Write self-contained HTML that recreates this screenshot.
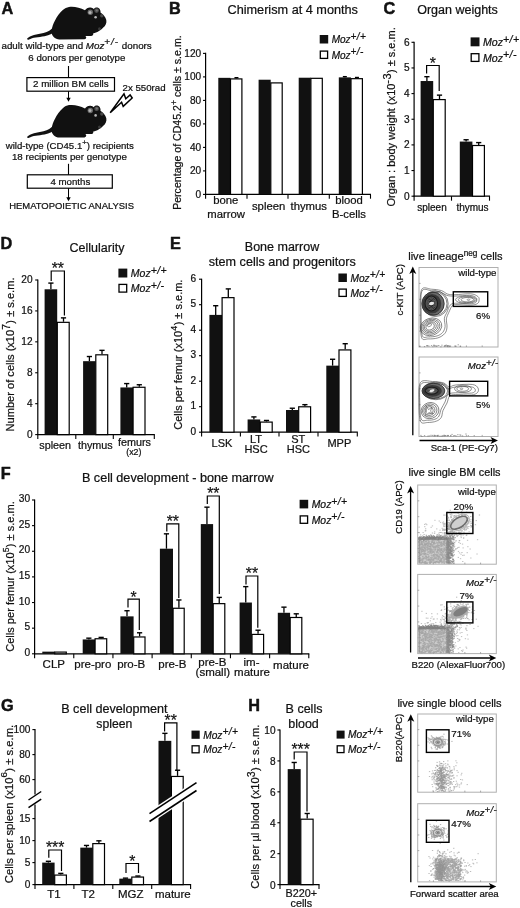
<!DOCTYPE html>
<html><head><meta charset="utf-8"><title>Figure</title>
<style>html,body{margin:0;padding:0;background:#fff}svg{display:block;filter:blur(0.3px)}</style></head>
<body>
<svg width="520" height="908" viewBox="0 0 520 908" font-family="'Liberation Sans', sans-serif" fill="#111">
<defs><filter id="soft" x="-5%" y="-5%" width="110%" height="110%"><feGaussianBlur stdDeviation="0.35"/></filter></defs>
<rect width="520" height="908" fill="#fff"/>
<text transform="translate(1.6 13.9) scale(0.95 1)" font-size="17.16" font-weight="bold" stroke="#111" stroke-width="0.5" stroke-linejoin="round">A</text>
<g transform="translate(0 0)">
<path d="M27.2 38.6 C30 35.2 37 34.2 43.5 33 C48 32 51 30 53.5 27 L56.5 30 C53.5 33.5 49.5 35.3 44.5 36.2 C38.5 37.2 32.5 37.3 29 39.6 C27.8 40.2 26.6 39.4 27.2 38.6 Z" fill="#111"/>
<path d="M51.6 31 C52 27 53.4 23.5 55 20.6 C57 16.6 59.6 12.6 62.8 10 C64.6 8.4 66.8 7.2 69 6.9 C73.5 6.2 80 7.3 85 10.2 C86 8.5 88.5 7.2 90.5 7.5 C92 7.7 93 8.2 93.7 9 C95 6.8 98.5 6.8 99.9 9.4 C100.5 10.4 100.7 11.5 100.5 12.5 C103 14 105.6 17 106.3 20 C106.9 23 105.6 26 103 27.8 C101.5 29.5 100 30.5 98.6 31.2 C97 32.3 95 33 93.3 33.2 C93.6 34.8 92.5 35.9 91 35.9 L85.4 35.9 C86.8 37 86.5 38.9 84.5 39.3 L59.5 39.4 C55 39.4 51.2 36 51.6 31 Z" fill="#111"/>
<circle cx="90.3" cy="12.3" r="2.7" fill="#6a6a6a"/><circle cx="90" cy="12.4" r="1.5" fill="#b5b5b5"/>
<circle cx="96.6" cy="10.6" r="2.3" fill="#505050"/><circle cx="96.8" cy="10.4" r="1" fill="#757575"/>
<circle cx="95.6" cy="17.2" r="1.3" fill="#b5b5b5"/>
<circle cx="101.8" cy="15.8" r="1.7" fill="#484848"/>
<circle cx="99.5" cy="28.8" r="1.5" fill="#3a3a3a"/>
</g>
<text transform="translate(76.6 48.6) scale(1.0 1)" font-size="9.80" text-anchor="middle" stroke="#111" stroke-width="0.22">adult wild-type and <tspan font-style="italic">Moz</tspan><tspan dy="-3.5" font-size="9.80" letter-spacing="1.0" font-style="italic">+/-</tspan><tspan dy="3.5"> donors</tspan></text>
<text transform="translate(76.8 60.5) scale(1.0 1)" font-size="9.70" text-anchor="middle" stroke="#111" stroke-width="0.22">6 donors per genotype</text>
<line x1="68.5" y1="66" x2="68.5" y2="77.5" stroke="#000" stroke-width="1.1"/>
<rect x="26.90" y="77.60" width="87.60" height="13.60" fill="#fff" stroke="#000" stroke-width="1.2"/>
<text transform="translate(70.8 87.2) scale(1.0 1)" font-size="9.80" text-anchor="middle" stroke="#111" stroke-width="0.22">2 million BM cells</text>
<line x1="68.5" y1="91.2" x2="68.5" y2="99.8" stroke="#000" stroke-width="1.0"/>
<path d="M66.3,97.8 L68.5,101.8 L70.7,97.8 Z" fill="#000"/>
<text transform="translate(122.5 91.4) scale(1.0 1)" font-size="9.70" stroke="#111" stroke-width="0.22">2x 550rad</text>
<path d="M110.2 112.7 L124 93.9 L125.8 98.7 L130.1 94.9 L132.2 98 L123.2 106.4 L121.6 102.3 Z" fill="#fff" stroke="#000" stroke-width="1.5" stroke-linejoin="miter"/>
<g transform="translate(0 98.2)">
<path d="M27.2 38.6 C30 35.2 37 34.2 43.5 33 C48 32 51 30 53.5 27 L56.5 30 C53.5 33.5 49.5 35.3 44.5 36.2 C38.5 37.2 32.5 37.3 29 39.6 C27.8 40.2 26.6 39.4 27.2 38.6 Z" fill="#111"/>
<path d="M51.6 31 C52 27 53.4 23.5 55 20.6 C57 16.6 59.6 12.6 62.8 10 C64.6 8.4 66.8 7.2 69 6.9 C73.5 6.2 80 7.3 85 10.2 C86 8.5 88.5 7.2 90.5 7.5 C92 7.7 93 8.2 93.7 9 C95 6.8 98.5 6.8 99.9 9.4 C100.5 10.4 100.7 11.5 100.5 12.5 C103 14 105.6 17 106.3 20 C106.9 23 105.6 26 103 27.8 C101.5 29.5 100 30.5 98.6 31.2 C97 32.3 95 33 93.3 33.2 C93.6 34.8 92.5 35.9 91 35.9 L85.4 35.9 C86.8 37 86.5 38.9 84.5 39.3 L59.5 39.4 C55 39.4 51.2 36 51.6 31 Z" fill="#111"/>
<circle cx="90.3" cy="12.3" r="2.7" fill="#6a6a6a"/><circle cx="90" cy="12.4" r="1.5" fill="#b5b5b5"/>
<circle cx="96.6" cy="10.6" r="2.3" fill="#505050"/><circle cx="96.8" cy="10.4" r="1" fill="#757575"/>
<circle cx="95.6" cy="17.2" r="1.3" fill="#b5b5b5"/>
<circle cx="101.8" cy="15.8" r="1.7" fill="#484848"/>
<circle cx="99.5" cy="28.8" r="1.5" fill="#3a3a3a"/>
</g>
<text transform="translate(69.8 149.1) scale(1.0 1)" font-size="9.65" text-anchor="middle" stroke="#111" stroke-width="0.22">wild-type (CD45.1<tspan dy="-3.8" font-size="7.80" letter-spacing="0">+</tspan><tspan dy="3.8">) recipients</tspan></text>
<text transform="translate(69.4 160.1) scale(1.0 1)" font-size="9.75" text-anchor="middle" stroke="#111" stroke-width="0.22">18 recipients per genotype</text>
<line x1="68.5" y1="163.8" x2="68.5" y2="175" stroke="#000" stroke-width="1.1"/>
<rect x="27.30" y="174.80" width="85.00" height="13.40" fill="#fff" stroke="#000" stroke-width="1.2"/>
<text transform="translate(70.3 185) scale(1.0 1)" font-size="9.70" text-anchor="middle" stroke="#111" stroke-width="0.22">4 months</text>
<line x1="68.5" y1="188.2" x2="68.5" y2="199.2" stroke="#000" stroke-width="1.0"/>
<path d="M66.3,197.2 L68.5,201.2 L70.7,197.2 Z" fill="#000"/>
<text transform="translate(71.6 209.2) scale(1.0 1)" font-size="9.45" text-anchor="middle" stroke="#111" stroke-width="0.22">HEMATOPOIETIC ANALYSIS</text>
<text transform="translate(168.9 13.6) scale(0.95 1)" font-size="17.16" font-weight="bold" stroke="#111" stroke-width="0.5" stroke-linejoin="round">B</text>
<text transform="translate(292.7 14.1) scale(1.0 1)" font-size="12.70" text-anchor="middle" stroke="#111" stroke-width="0.22">Chimerism at 4 months</text>
<rect x="319.70" y="35.00" width="8.50" height="8.50" fill="#111"/>
<rect x="320.30" y="51.10" width="7.30" height="7.30" fill="#fff" stroke="#000" stroke-width="1.3"/>
<text transform="translate(331.7 43.2) scale(1.0 1)" font-size="10.00" stroke="#111" stroke-width="0.22"><tspan font-style="italic">Moz</tspan><tspan dy="-3.4" font-size="10.00" letter-spacing="0.4" font-style="italic">+/+</tspan></text>
<text transform="translate(331.7 58.7) scale(1.0 1)" font-size="10.00" stroke="#111" stroke-width="0.22"><tspan font-style="italic">Moz</tspan><tspan dy="-3.4" font-size="10.00" letter-spacing="0.4" font-style="italic">+/-</tspan></text>
<line x1="205.6" y1="52.8" x2="205.6" y2="194.9" stroke="#000" stroke-width="1.2"/>
<line x1="203.0" y1="194.4" x2="205.6" y2="194.4" stroke="#000" stroke-width="1.1"/>
<text transform="translate(201.2 197.9) scale(1.0 1)" font-size="10.10" text-anchor="end" stroke="#111" stroke-width="0.22">0</text>
<line x1="203.0" y1="170.9" x2="205.6" y2="170.9" stroke="#000" stroke-width="1.1"/>
<text transform="translate(201.2 174.4) scale(1.0 1)" font-size="10.10" text-anchor="end" stroke="#111" stroke-width="0.22">20</text>
<line x1="203.0" y1="147.4" x2="205.6" y2="147.4" stroke="#000" stroke-width="1.1"/>
<text transform="translate(201.2 150.9) scale(1.0 1)" font-size="10.10" text-anchor="end" stroke="#111" stroke-width="0.22">40</text>
<line x1="203.0" y1="123.9" x2="205.6" y2="123.9" stroke="#000" stroke-width="1.1"/>
<text transform="translate(201.2 127.4) scale(1.0 1)" font-size="10.10" text-anchor="end" stroke="#111" stroke-width="0.22">60</text>
<line x1="203.0" y1="100.4" x2="205.6" y2="100.4" stroke="#000" stroke-width="1.1"/>
<text transform="translate(201.2 103.9) scale(1.0 1)" font-size="10.10" text-anchor="end" stroke="#111" stroke-width="0.22">80</text>
<line x1="203.0" y1="76.9" x2="205.6" y2="76.9" stroke="#000" stroke-width="1.1"/>
<text transform="translate(201.2 80.4) scale(1.0 1)" font-size="10.10" text-anchor="end" stroke="#111" stroke-width="0.22">100</text>
<line x1="203.0" y1="53.400000000000006" x2="205.6" y2="53.400000000000006" stroke="#000" stroke-width="1.1"/>
<text transform="translate(201.2 56.900000000000006) scale(1.0 1)" font-size="10.10" text-anchor="end" stroke="#111" stroke-width="0.22">120</text>
<line x1="205.1" y1="194.4" x2="371.0" y2="194.4" stroke="#000" stroke-width="1.2"/>
<line x1="205.6" y1="194.4" x2="205.6" y2="198.70000000000002" stroke="#000" stroke-width="1.1"/>
<line x1="247" y1="194.4" x2="247" y2="198.70000000000002" stroke="#000" stroke-width="1.1"/>
<line x1="288" y1="194.4" x2="288" y2="198.70000000000002" stroke="#000" stroke-width="1.1"/>
<line x1="329.3" y1="194.4" x2="329.3" y2="198.70000000000002" stroke="#000" stroke-width="1.1"/>
<line x1="370.5" y1="194.4" x2="370.5" y2="198.70000000000002" stroke="#000" stroke-width="1.1"/>
<line x1="236.45" y1="78.31" x2="236.45" y2="77.72250000000001" stroke="#000" stroke-width="1.3"/>
<line x1="234.45" y1="77.72250000000001" x2="238.45" y2="77.72250000000001" stroke="#000" stroke-width="1.4"/>
<rect x="218.30" y="77.84" width="12.10" height="116.56" fill="#111"/>
<rect x="230.50" y="78.91" width="11.40" height="115.49" fill="#fff" stroke="#000" stroke-width="1.2"/>
<rect x="258.60" y="79.72" width="12.10" height="114.68" fill="#111"/>
<rect x="270.80" y="82.90" width="11.40" height="111.50" fill="#fff" stroke="#000" stroke-width="1.2"/>
<rect x="298.70" y="77.72" width="12.10" height="116.68" fill="#111"/>
<rect x="310.90" y="78.32" width="11.40" height="116.08" fill="#fff" stroke="#000" stroke-width="1.2"/>
<line x1="344.85" y1="77.37" x2="344.85" y2="76.66500000000002" stroke="#000" stroke-width="1.3"/>
<line x1="342.85" y1="76.66500000000002" x2="346.85" y2="76.66500000000002" stroke="#000" stroke-width="1.4"/>
<line x1="356.95000000000005" y1="78.075" x2="356.95000000000005" y2="77.4875" stroke="#000" stroke-width="1.3"/>
<line x1="354.95000000000005" y1="77.4875" x2="358.95000000000005" y2="77.4875" stroke="#000" stroke-width="1.4"/>
<rect x="338.80" y="77.37" width="12.10" height="117.03" fill="#111"/>
<rect x="351.00" y="78.67" width="11.40" height="115.73" fill="#fff" stroke="#000" stroke-width="1.2"/>
<text transform="translate(180.6 122.6) rotate(-90) scale(1.0 1)" font-size="10.60" text-anchor="middle" stroke="#111" stroke-width="0.22">Percentage of CD45.2<tspan dy="-4" font-size="8.60" letter-spacing="0">+</tspan><tspan dy="4"> cells ± s.e.m.</tspan></text>
<text transform="translate(225.8 204.2) scale(1.0 1)" font-size="11.30" text-anchor="middle" stroke="#111" stroke-width="0.22">bone</text>
<text transform="translate(226.2 218) scale(1.0 1)" font-size="11.30" text-anchor="middle" stroke="#111" stroke-width="0.22">marrow</text>
<text transform="translate(268.6 210.2) scale(1.0 1)" font-size="11.30" text-anchor="middle" stroke="#111" stroke-width="0.22">spleen</text>
<text transform="translate(308.7 210.2) scale(1.0 1)" font-size="11.30" text-anchor="middle" stroke="#111" stroke-width="0.22">thymus</text>
<text transform="translate(349 204.2) scale(1.0 1)" font-size="11.30" text-anchor="middle" stroke="#111" stroke-width="0.22">blood</text>
<text transform="translate(349 218) scale(1.0 1)" font-size="11.30" text-anchor="middle" stroke="#111" stroke-width="0.22">B-cells</text>
<text transform="translate(383.5 13.7) scale(0.95 1)" font-size="17.16" font-weight="bold" stroke="#111" stroke-width="0.5" stroke-linejoin="round">C</text>
<text transform="translate(457.5 14.3) scale(1.0 1)" font-size="12.50" text-anchor="middle" stroke="#111" stroke-width="0.22">Organ weights</text>
<rect x="470.60" y="37.40" width="8.90" height="8.90" fill="#111"/>
<rect x="471.20" y="53.70" width="7.70" height="7.70" fill="#fff" stroke="#000" stroke-width="1.3"/>
<text transform="translate(483.0 46.0) scale(1.0 1)" font-size="10.60" stroke="#111" stroke-width="0.22"><tspan font-style="italic">Moz</tspan><tspan dy="-3.4" font-size="10.60" letter-spacing="0.4" font-style="italic">+/+</tspan></text>
<text transform="translate(483.0 61.7) scale(1.0 1)" font-size="10.60" stroke="#111" stroke-width="0.22"><tspan font-style="italic">Moz</tspan><tspan dy="-3.4" font-size="10.60" letter-spacing="0.4" font-style="italic">+/-</tspan></text>
<line x1="414.1" y1="41.80000000000001" x2="414.1" y2="196.7" stroke="#000" stroke-width="1.2"/>
<line x1="411.5" y1="196.2" x2="414.1" y2="196.2" stroke="#000" stroke-width="1.1"/>
<text transform="translate(409.70000000000005 199.7) scale(1.0 1)" font-size="10.10" text-anchor="end" stroke="#111" stroke-width="0.22">0</text>
<line x1="411.5" y1="170.54999999999998" x2="414.1" y2="170.54999999999998" stroke="#000" stroke-width="1.1"/>
<text transform="translate(409.70000000000005 174.04999999999998) scale(1.0 1)" font-size="10.10" text-anchor="end" stroke="#111" stroke-width="0.22">1</text>
<line x1="411.5" y1="144.89999999999998" x2="414.1" y2="144.89999999999998" stroke="#000" stroke-width="1.1"/>
<text transform="translate(409.70000000000005 148.39999999999998) scale(1.0 1)" font-size="10.10" text-anchor="end" stroke="#111" stroke-width="0.22">2</text>
<line x1="411.5" y1="119.25" x2="414.1" y2="119.25" stroke="#000" stroke-width="1.1"/>
<text transform="translate(409.70000000000005 122.75) scale(1.0 1)" font-size="10.10" text-anchor="end" stroke="#111" stroke-width="0.22">3</text>
<line x1="411.5" y1="93.6" x2="414.1" y2="93.6" stroke="#000" stroke-width="1.1"/>
<text transform="translate(409.70000000000005 97.1) scale(1.0 1)" font-size="10.10" text-anchor="end" stroke="#111" stroke-width="0.22">4</text>
<line x1="411.5" y1="67.94999999999999" x2="414.1" y2="67.94999999999999" stroke="#000" stroke-width="1.1"/>
<text transform="translate(409.70000000000005 71.44999999999999) scale(1.0 1)" font-size="10.10" text-anchor="end" stroke="#111" stroke-width="0.22">5</text>
<line x1="411.5" y1="42.30000000000001" x2="414.1" y2="42.30000000000001" stroke="#000" stroke-width="1.1"/>
<text transform="translate(409.70000000000005 45.80000000000001) scale(1.0 1)" font-size="10.10" text-anchor="end" stroke="#111" stroke-width="0.22">6</text>
<line x1="413.6" y1="196.2" x2="490.0" y2="196.2" stroke="#000" stroke-width="1.2"/>
<line x1="414.1" y1="196.2" x2="414.1" y2="200.7" stroke="#000" stroke-width="1.1"/>
<line x1="451.5" y1="196.2" x2="451.5" y2="200.7" stroke="#000" stroke-width="1.1"/>
<line x1="489.5" y1="196.2" x2="489.5" y2="200.7" stroke="#000" stroke-width="1.1"/>
<line x1="426.90000000000003" y1="81.0315" x2="426.90000000000003" y2="76.67099999999999" stroke="#000" stroke-width="1.3"/>
<line x1="424.3" y1="76.67099999999999" x2="429.50000000000006" y2="76.67099999999999" stroke="#000" stroke-width="1.4"/>
<line x1="439.50000000000006" y1="98.98649999999999" x2="439.50000000000006" y2="95.139" stroke="#000" stroke-width="1.3"/>
<line x1="436.90000000000003" y1="95.139" x2="442.1000000000001" y2="95.139" stroke="#000" stroke-width="1.4"/>
<rect x="420.60" y="81.03" width="12.60" height="115.17" fill="#111"/>
<rect x="433.30" y="99.59" width="11.90" height="96.61" fill="#fff" stroke="#000" stroke-width="1.2"/>
<line x1="466.1" y1="141.5655" x2="466.1" y2="139.76999999999998" stroke="#000" stroke-width="1.3"/>
<line x1="463.5" y1="139.76999999999998" x2="468.70000000000005" y2="139.76999999999998" stroke="#000" stroke-width="1.4"/>
<line x1="478.70000000000005" y1="144.89999999999998" x2="478.70000000000005" y2="142.5915" stroke="#000" stroke-width="1.3"/>
<line x1="476.1" y1="142.5915" x2="481.30000000000007" y2="142.5915" stroke="#000" stroke-width="1.4"/>
<rect x="459.80" y="141.57" width="12.60" height="54.63" fill="#111"/>
<rect x="472.50" y="145.50" width="11.90" height="50.70" fill="#fff" stroke="#000" stroke-width="1.2"/>
<polyline points="426.6,73.5 426.6,65.5 439.2,65.5 439.2,91" fill="none" stroke="#000" stroke-width="1.2"/>
<text transform="translate(432.9 68.8) scale(1.0 1)" font-size="15.80" text-anchor="middle" stroke="#111" stroke-width="0.22">*</text>
<text transform="translate(394.8 116.9) rotate(-90) scale(1.0 1)" font-size="11.00" text-anchor="middle" stroke="#111" stroke-width="0.22">Organ : body weight (x10<tspan dy="-4.2" font-size="11.00" letter-spacing="0.4">-3</tspan><tspan dy="4.2">) ± s.e.m.</tspan></text>
<text transform="translate(432 211) scale(1.0 1)" font-size="10.00" text-anchor="middle" stroke="#111" stroke-width="0.22">spleen</text>
<text transform="translate(472.5 211) scale(1.0 1)" font-size="10.00" text-anchor="middle" stroke="#111" stroke-width="0.22">thymus</text>
<text transform="translate(0.6 249.3) scale(0.95 1)" font-size="17.16" font-weight="bold" stroke="#111" stroke-width="0.5" stroke-linejoin="round">D</text>
<text transform="translate(97 252) scale(1.0 1)" font-size="12.50" text-anchor="middle" stroke="#111" stroke-width="0.22">Cellularity</text>
<rect x="118.40" y="268.60" width="8.90" height="8.90" fill="#111"/>
<rect x="119.00" y="284.40" width="7.70" height="7.70" fill="#fff" stroke="#000" stroke-width="1.3"/>
<text transform="translate(130.8 277.2) scale(1.0 1)" font-size="10.50" stroke="#111" stroke-width="0.22"><tspan font-style="italic">Moz</tspan><tspan dy="-3.4" font-size="10.50" letter-spacing="0.4" font-style="italic">+/+</tspan></text>
<text transform="translate(130.8 292.4) scale(1.0 1)" font-size="10.50" stroke="#111" stroke-width="0.22"><tspan font-style="italic">Moz</tspan><tspan dy="-3.4" font-size="10.50" letter-spacing="0.4" font-style="italic">+/-</tspan></text>
<line x1="37.8" y1="279.5" x2="37.8" y2="435.1" stroke="#000" stroke-width="1.2"/>
<line x1="35.199999999999996" y1="434.6" x2="37.8" y2="434.6" stroke="#000" stroke-width="1.1"/>
<text transform="translate(32.5 437.6) scale(1.0 1)" font-size="10.10" text-anchor="end" stroke="#111" stroke-width="0.22">0</text>
<line x1="35.199999999999996" y1="403.68" x2="37.8" y2="403.68" stroke="#000" stroke-width="1.1"/>
<text transform="translate(32.5 406.68) scale(1.0 1)" font-size="10.10" text-anchor="end" stroke="#111" stroke-width="0.22">4</text>
<line x1="35.199999999999996" y1="372.76" x2="37.8" y2="372.76" stroke="#000" stroke-width="1.1"/>
<text transform="translate(32.5 375.76) scale(1.0 1)" font-size="10.10" text-anchor="end" stroke="#111" stroke-width="0.22">8</text>
<line x1="35.199999999999996" y1="341.84000000000003" x2="37.8" y2="341.84000000000003" stroke="#000" stroke-width="1.1"/>
<text transform="translate(32.5 344.84000000000003) scale(1.0 1)" font-size="10.10" text-anchor="end" stroke="#111" stroke-width="0.22">12</text>
<line x1="35.199999999999996" y1="310.92" x2="37.8" y2="310.92" stroke="#000" stroke-width="1.1"/>
<text transform="translate(32.5 313.92) scale(1.0 1)" font-size="10.10" text-anchor="end" stroke="#111" stroke-width="0.22">16</text>
<line x1="35.199999999999996" y1="280.0" x2="37.8" y2="280.0" stroke="#000" stroke-width="1.1"/>
<text transform="translate(32.5 283.0) scale(1.0 1)" font-size="10.10" text-anchor="end" stroke="#111" stroke-width="0.22">20</text>
<line x1="37.3" y1="434.6" x2="154.8" y2="434.6" stroke="#000" stroke-width="1.2"/>
<line x1="37.8" y1="434.6" x2="37.8" y2="438.90000000000003" stroke="#000" stroke-width="1.1"/>
<line x1="75.8" y1="434.6" x2="75.8" y2="438.90000000000003" stroke="#000" stroke-width="1.1"/>
<line x1="113.3" y1="434.6" x2="113.3" y2="438.90000000000003" stroke="#000" stroke-width="1.1"/>
<line x1="154.3" y1="434.6" x2="154.3" y2="438.90000000000003" stroke="#000" stroke-width="1.1"/>
<line x1="50.900000000000006" y1="289.276" x2="50.900000000000006" y2="283.092" stroke="#000" stroke-width="1.3"/>
<line x1="48.300000000000004" y1="283.092" x2="53.50000000000001" y2="283.092" stroke="#000" stroke-width="1.4"/>
<line x1="63.5" y1="321.742" x2="63.5" y2="317.877" stroke="#000" stroke-width="1.3"/>
<line x1="60.9" y1="317.877" x2="66.1" y2="317.877" stroke="#000" stroke-width="1.4"/>
<rect x="44.60" y="289.28" width="12.60" height="145.32" fill="#111"/>
<rect x="57.30" y="322.34" width="11.90" height="112.26" fill="#fff" stroke="#000" stroke-width="1.2"/>
<line x1="89.39999999999999" y1="361.165" x2="89.39999999999999" y2="356.52700000000004" stroke="#000" stroke-width="1.3"/>
<line x1="86.8" y1="356.52700000000004" x2="91.99999999999999" y2="356.52700000000004" stroke="#000" stroke-width="1.4"/>
<line x1="101.99999999999999" y1="354.208" x2="101.99999999999999" y2="350.343" stroke="#000" stroke-width="1.3"/>
<line x1="99.39999999999999" y1="350.343" x2="104.59999999999998" y2="350.343" stroke="#000" stroke-width="1.4"/>
<rect x="83.10" y="361.17" width="12.60" height="73.44" fill="#111"/>
<rect x="95.80" y="354.81" width="11.90" height="79.79" fill="#fff" stroke="#000" stroke-width="1.2"/>
<line x1="126.7" y1="387.447" x2="126.7" y2="383.582" stroke="#000" stroke-width="1.3"/>
<line x1="124.10000000000001" y1="383.582" x2="129.3" y2="383.582" stroke="#000" stroke-width="1.4"/>
<line x1="139.3" y1="386.67400000000004" x2="139.3" y2="384.74150000000003" stroke="#000" stroke-width="1.3"/>
<line x1="136.70000000000002" y1="384.74150000000003" x2="141.9" y2="384.74150000000003" stroke="#000" stroke-width="1.4"/>
<rect x="120.40" y="387.45" width="12.60" height="47.15" fill="#111"/>
<rect x="133.10" y="387.27" width="11.90" height="47.33" fill="#fff" stroke="#000" stroke-width="1.2"/>
<polyline points="51.2,281 51.2,271 64.4,271 64.4,315.5" fill="none" stroke="#000" stroke-width="1.2"/>
<text transform="translate(57.800000000000004 274.3) scale(1.0 1)" font-size="15.80" text-anchor="middle" stroke="#111" stroke-width="0.22">**</text>
<text transform="translate(14.3 354.5) rotate(-90) scale(1.0 1)" font-size="11.10" text-anchor="middle" stroke="#111" stroke-width="0.22">Number of cells (x10<tspan dy="-4.2" font-size="10.30" letter-spacing="0.4">7</tspan><tspan dy="4.2">) ± s.e.m.</tspan></text>
<text transform="translate(55.2 448.6) scale(1.0 1)" font-size="10.80" text-anchor="middle" stroke="#111" stroke-width="0.22">spleen</text>
<text transform="translate(95.3 448.6) scale(1.0 1)" font-size="10.80" text-anchor="middle" stroke="#111" stroke-width="0.22">thymus</text>
<text transform="translate(134.4 446) scale(1.0 1)" font-size="10.80" text-anchor="middle" stroke="#111" stroke-width="0.22">femurs</text>
<text transform="translate(133.8 455.3) scale(1.0 1)" font-size="8.80" text-anchor="middle" stroke="#111" stroke-width="0.22">(x2)</text>
<text transform="translate(170 249.3) scale(0.95 1)" font-size="17.16" font-weight="bold" stroke="#111" stroke-width="0.5" stroke-linejoin="round">E</text>
<text transform="translate(282 250.9) scale(1.0 1)" font-size="12.50" text-anchor="middle" stroke="#111" stroke-width="0.22">Bone marrow</text>
<text transform="translate(282.3 265.7) scale(1.0 1)" font-size="12.60" text-anchor="middle" stroke="#111" stroke-width="0.22">stem cells and progenitors</text>
<rect x="338.40" y="273.50" width="8.50" height="8.50" fill="#111"/>
<rect x="339.00" y="289.10" width="7.30" height="7.30" fill="#fff" stroke="#000" stroke-width="1.3"/>
<text transform="translate(350.4 281.7) scale(1.0 1)" font-size="10.20" stroke="#111" stroke-width="0.22"><tspan font-style="italic">Moz</tspan><tspan dy="-3.4" font-size="10.20" letter-spacing="0.4" font-style="italic">+/+</tspan></text>
<text transform="translate(350.4 296.7) scale(1.0 1)" font-size="10.20" stroke="#111" stroke-width="0.22"><tspan font-style="italic">Moz</tspan><tspan dy="-3.4" font-size="10.20" letter-spacing="0.4" font-style="italic">+/-</tspan></text>
<line x1="201.6" y1="278.7" x2="201.6" y2="432.7" stroke="#000" stroke-width="1.2"/>
<line x1="199.0" y1="432.2" x2="201.6" y2="432.2" stroke="#000" stroke-width="1.1"/>
<text transform="translate(196.1 434.7) scale(1.0 1)" font-size="10.10" text-anchor="end" stroke="#111" stroke-width="0.22">0</text>
<line x1="199.0" y1="406.7" x2="201.6" y2="406.7" stroke="#000" stroke-width="1.1"/>
<text transform="translate(196.1 409.2) scale(1.0 1)" font-size="10.10" text-anchor="end" stroke="#111" stroke-width="0.22">1</text>
<line x1="199.0" y1="381.2" x2="201.6" y2="381.2" stroke="#000" stroke-width="1.1"/>
<text transform="translate(196.1 383.7) scale(1.0 1)" font-size="10.10" text-anchor="end" stroke="#111" stroke-width="0.22">2</text>
<line x1="199.0" y1="355.7" x2="201.6" y2="355.7" stroke="#000" stroke-width="1.1"/>
<text transform="translate(196.1 358.2) scale(1.0 1)" font-size="10.10" text-anchor="end" stroke="#111" stroke-width="0.22">3</text>
<line x1="199.0" y1="330.2" x2="201.6" y2="330.2" stroke="#000" stroke-width="1.1"/>
<text transform="translate(196.1 332.7) scale(1.0 1)" font-size="10.10" text-anchor="end" stroke="#111" stroke-width="0.22">4</text>
<line x1="199.0" y1="304.7" x2="201.6" y2="304.7" stroke="#000" stroke-width="1.1"/>
<text transform="translate(196.1 307.2) scale(1.0 1)" font-size="10.10" text-anchor="end" stroke="#111" stroke-width="0.22">5</text>
<line x1="199.0" y1="279.2" x2="201.6" y2="279.2" stroke="#000" stroke-width="1.1"/>
<text transform="translate(196.1 281.7) scale(1.0 1)" font-size="10.10" text-anchor="end" stroke="#111" stroke-width="0.22">6</text>
<line x1="201.1" y1="432.2" x2="357.8" y2="432.2" stroke="#000" stroke-width="1.2"/>
<line x1="201.6" y1="432.2" x2="201.6" y2="436.5" stroke="#000" stroke-width="1.1"/>
<line x1="240.4" y1="432.2" x2="240.4" y2="436.5" stroke="#000" stroke-width="1.1"/>
<line x1="279" y1="432.2" x2="279" y2="436.5" stroke="#000" stroke-width="1.1"/>
<line x1="318" y1="432.2" x2="318" y2="436.5" stroke="#000" stroke-width="1.1"/>
<line x1="357.3" y1="432.2" x2="357.3" y2="436.5" stroke="#000" stroke-width="1.1"/>
<line x1="215.7" y1="314.9" x2="215.7" y2="305.71999999999997" stroke="#000" stroke-width="1.3"/>
<line x1="213.1" y1="305.71999999999997" x2="218.29999999999998" y2="305.71999999999997" stroke="#000" stroke-width="1.4"/>
<line x1="228.3" y1="297.04999999999995" x2="228.3" y2="288.89" stroke="#000" stroke-width="1.3"/>
<line x1="225.70000000000002" y1="288.89" x2="230.9" y2="288.89" stroke="#000" stroke-width="1.4"/>
<rect x="209.40" y="314.90" width="12.60" height="117.30" fill="#111"/>
<rect x="222.10" y="297.65" width="11.90" height="134.55" fill="#fff" stroke="#000" stroke-width="1.2"/>
<line x1="253.89999999999998" y1="419.45" x2="253.89999999999998" y2="416.9" stroke="#000" stroke-width="1.3"/>
<line x1="251.29999999999998" y1="416.9" x2="256.5" y2="416.9" stroke="#000" stroke-width="1.4"/>
<line x1="266.5" y1="421.49" x2="266.5" y2="420.46999999999997" stroke="#000" stroke-width="1.3"/>
<line x1="263.9" y1="420.46999999999997" x2="269.1" y2="420.46999999999997" stroke="#000" stroke-width="1.4"/>
<rect x="247.60" y="419.45" width="12.60" height="12.75" fill="#111"/>
<rect x="260.30" y="422.09" width="11.90" height="10.11" fill="#fff" stroke="#000" stroke-width="1.2"/>
<line x1="292.3" y1="410.015" x2="292.3" y2="408.23" stroke="#000" stroke-width="1.3"/>
<line x1="289.7" y1="408.23" x2="294.90000000000003" y2="408.23" stroke="#000" stroke-width="1.4"/>
<line x1="304.90000000000003" y1="406.19" x2="304.90000000000003" y2="404.65999999999997" stroke="#000" stroke-width="1.3"/>
<line x1="302.3" y1="404.65999999999997" x2="307.50000000000006" y2="404.65999999999997" stroke="#000" stroke-width="1.4"/>
<rect x="286.00" y="410.01" width="12.60" height="22.19" fill="#111"/>
<rect x="298.70" y="406.79" width="11.90" height="25.41" fill="#fff" stroke="#000" stroke-width="1.2"/>
<line x1="332.6" y1="365.645" x2="332.6" y2="359.27" stroke="#000" stroke-width="1.3"/>
<line x1="330.0" y1="359.27" x2="335.20000000000005" y2="359.27" stroke="#000" stroke-width="1.4"/>
<line x1="345.20000000000005" y1="349.325" x2="345.20000000000005" y2="343.715" stroke="#000" stroke-width="1.3"/>
<line x1="342.6" y1="343.715" x2="347.80000000000007" y2="343.715" stroke="#000" stroke-width="1.4"/>
<rect x="326.30" y="365.64" width="12.60" height="66.56" fill="#111"/>
<rect x="339.00" y="349.93" width="11.90" height="82.28" fill="#fff" stroke="#000" stroke-width="1.2"/>
<text transform="translate(182.4 354.7) rotate(-90) scale(1.0 1)" font-size="11.00" text-anchor="middle" stroke="#111" stroke-width="0.22">Cells per femur (x10<tspan dy="-5.2" font-size="9.00" letter-spacing="0.4">4</tspan><tspan dy="5.2">) ± s.e.m.</tspan></text>
<text transform="translate(222 446.8) scale(1.0 1)" font-size="11.00" text-anchor="middle" stroke="#111" stroke-width="0.22">LSK</text>
<text transform="translate(256 443.2) scale(1.0 1)" font-size="11.00" text-anchor="middle" stroke="#111" stroke-width="0.22">LT</text>
<text transform="translate(256 453.1) scale(1.0 1)" font-size="11.00" text-anchor="middle" stroke="#111" stroke-width="0.22">HSC</text>
<text transform="translate(298.3 443.2) scale(1.0 1)" font-size="11.00" text-anchor="middle" stroke="#111" stroke-width="0.22">ST</text>
<text transform="translate(298.3 453.1) scale(1.0 1)" font-size="11.00" text-anchor="middle" stroke="#111" stroke-width="0.22">HSC</text>
<text transform="translate(339.3 446.8) scale(1.0 1)" font-size="11.00" text-anchor="middle" stroke="#111" stroke-width="0.22">MPP</text>
<text transform="translate(455.4 260) scale(1.0 1)" font-size="11.10" text-anchor="middle" stroke="#111" stroke-width="0.22">live lineage<tspan dy="-3.6" font-size="8.20" letter-spacing="0">neg</tspan><tspan dy="3.6"> cells</tspan></text>
<line x1="412.8" y1="435.3" x2="412.8" y2="270.4" stroke="#000" stroke-width="1.3"/>
<path d="M409.3,273.9 L412.8,266.4 L416.3,273.9 L412.8,271.9 Z" fill="#000"/>
<text transform="translate(403.4 289.8) rotate(-90) scale(1.0 1)" font-size="9.60" text-anchor="middle" stroke="#111" stroke-width="0.22">c-KIT (APC)</text>
<rect x="419.00" y="267.50" width="79.00" height="79.50" fill="#fff" stroke="#b0b0b0" stroke-width="1.0"/>
<line x1="419" y1="283.4" x2="420.6" y2="283.4" stroke="#888" stroke-width="0.7"/>
<line x1="434.8" y1="347.0" x2="434.8" y2="345.4" stroke="#888" stroke-width="0.7"/>
<line x1="419" y1="299.3" x2="420.6" y2="299.3" stroke="#888" stroke-width="0.7"/>
<line x1="450.6" y1="347.0" x2="450.6" y2="345.4" stroke="#888" stroke-width="0.7"/>
<line x1="419" y1="315.2" x2="420.6" y2="315.2" stroke="#888" stroke-width="0.7"/>
<line x1="466.4" y1="347.0" x2="466.4" y2="345.4" stroke="#888" stroke-width="0.7"/>
<line x1="419" y1="331.1" x2="420.6" y2="331.1" stroke="#888" stroke-width="0.7"/>
<line x1="482.2" y1="347.0" x2="482.2" y2="345.4" stroke="#888" stroke-width="0.7"/>
<g fill="none" stroke="#444" stroke-width="0.6"><path d="M421.5 289.8C423.4 285.7 428.1 289.1 431.3 289.2C434.6 289.3 438.4 289.7 441.2 290.5C443.9 291.3 445.4 293.4 447.7 294.1C450.0 294.8 451.2 294.8 455.0 294.7C458.9 294.7 466.8 293.5 470.6 293.8C474.4 294.1 476.5 295.5 477.9 296.5C479.3 297.6 479.2 298.8 479.1 300.0C479.0 301.2 478.9 302.7 477.4 303.6C476.0 304.4 474.2 305.0 470.6 305.2C467.0 305.4 459.0 304.4 455.9 304.6C452.8 304.7 453.1 304.9 451.9 306.2C450.8 307.5 449.8 310.3 448.8 312.4C447.9 314.5 446.7 316.5 446.4 318.9C446.1 321.4 447.3 324.7 447.0 327.1C446.8 329.6 446.3 331.9 444.7 333.6C443.2 335.4 440.7 337.0 437.9 337.9C435.1 338.8 430.8 339.0 428.1 338.9C425.4 338.8 422.8 341.4 421.5 337.2C420.3 333.1 420.4 321.9 420.4 314.0C420.4 306.1 419.7 294.0 421.5 289.8Z"/><path d="M421.9 291.2C423.6 287.3 428.3 290.5 431.3 290.7C434.4 290.8 437.7 291.2 440.3 292.0C442.9 292.8 444.4 294.7 446.9 295.4C449.3 296.1 451.2 296.1 455.0 296.1C458.9 296.1 466.3 295.2 469.8 295.4C473.2 295.6 474.6 296.6 475.8 297.4C477.0 298.1 476.8 299.1 476.8 300.0C476.7 300.9 476.6 301.9 475.5 302.6C474.3 303.2 473.1 303.8 469.8 303.9C466.4 304.0 458.8 303.0 455.5 303.2C452.3 303.5 451.6 303.7 450.1 305.2C448.7 306.7 448.0 309.9 447.0 312.1C446.1 314.3 444.7 315.9 444.4 318.3C444.1 320.7 445.3 324.1 445.1 326.5C444.8 328.8 444.1 330.8 442.8 332.3C441.5 333.9 439.5 335.2 437.1 335.9C434.7 336.7 430.9 337.0 428.4 336.9C425.9 336.8 423.4 339.1 422.2 335.3C421.0 331.5 421.3 321.4 421.2 314.0C421.2 306.7 420.2 295.0 421.9 291.2Z"/></g>
<ellipse cx="433" cy="303.7" rx="11.2" ry="11.6" fill="#6a6a6a" stroke="#222" stroke-width="0.8"/>
<ellipse cx="432" cy="303.7" rx="9.2" ry="9.8" fill="#3a3a3a"/>
<ellipse cx="431.3" cy="303.5" rx="6.8" ry="8.0" fill="#1c1c1c"/>
<ellipse cx="431.3" cy="303.5" rx="5.2" ry="6.4" fill="none" stroke="#999" stroke-width="0.5" transform="rotate(0 431.3 303.5)"/>
<ellipse cx="431.3" cy="303.5" rx="4.2" ry="5.1" fill="none" stroke="#999" stroke-width="0.5" transform="rotate(0 431.3 303.5)"/>
<ellipse cx="431.3" cy="303.5" rx="3.1" ry="3.8" fill="none" stroke="#999" stroke-width="0.5" transform="rotate(0 431.3 303.5)"/>
<ellipse cx="431.6" cy="303.5" rx="2.6" ry="1.7" fill="#e8e8e8" transform="rotate(-15 431.6 303.7)"/>
<ellipse cx="435.4" cy="303.7" rx="12.8" ry="12.8" fill="none" stroke="#333" stroke-width="0.6" transform="rotate(0 435.4 303.7)"/>
<ellipse cx="435.4" cy="303.7" rx="11.6" ry="11.6" fill="none" stroke="#333" stroke-width="0.6" transform="rotate(0 435.4 303.7)"/>
<ellipse cx="431.0" cy="326.8" rx="11.0" ry="8.6" fill="none" stroke="#444" stroke-width="0.6" transform="rotate(-18 431.0 326.8)"/>
<ellipse cx="430.8" cy="326.7" rx="9.3" ry="7.3" fill="none" stroke="#444" stroke-width="0.6" transform="rotate(-18 430.8 326.7)"/>
<ellipse cx="430.6" cy="326.6" rx="7.7" ry="6.0" fill="none" stroke="#444" stroke-width="0.6" transform="rotate(-18 430.6 326.6)"/>
<ellipse cx="430.3" cy="326.6" rx="6.1" ry="4.7" fill="none" stroke="#444" stroke-width="0.6" transform="rotate(-18 430.3 326.6)"/>
<ellipse cx="430.1" cy="326.5" rx="4.4" ry="3.4" fill="none" stroke="#444" stroke-width="0.6" transform="rotate(-18 430.1 326.5)"/>
<ellipse cx="429.5" cy="325.2" rx="2.2" ry="1.2" fill="none" stroke="#444" stroke-width="0.5" transform="rotate(-25 429.5 325.2)"/>
<ellipse cx="466.0" cy="299.7" rx="10.5" ry="3.6" fill="none" stroke="#444" stroke-width="0.6" transform="rotate(0 466.0 299.7)"/>
<ellipse cx="466.7" cy="299.7" rx="8.4" ry="2.9" fill="none" stroke="#444" stroke-width="0.6" transform="rotate(0 466.7 299.7)"/>
<ellipse cx="467.4" cy="299.7" rx="6.3" ry="2.2" fill="none" stroke="#444" stroke-width="0.6" transform="rotate(0 467.4 299.7)"/>
<ellipse cx="468.5" cy="299.7" rx="1.4" ry="0.7" fill="none" stroke="#444" stroke-width="0.5"/>
<rect x="453.30" y="291.80" width="34.40" height="14.60" fill="none" stroke="#000" stroke-width="1.4"/>
<text transform="translate(476 318.9) scale(1.0 1)" font-size="9.70" stroke="#111" stroke-width="0.22">6%</text>
<path d="M436.4 346.3h.5M436.8 345.8h.5M427.0 345.9h.5M455.6 346.3h.5M454.5 346.1h.5M445.5 346.1h.5M447.1 346.3h.5M427.5 345.7h.5M444.3 346.0h.5M447.3 345.6h.5M444.3 346.2h.5M447.8 346.7h.5M431.3 345.6h.5M435.2 345.9h.5M448.8 346.1h.5M433.7 345.4h.5M432.7 346.7h.5M428.7 346.1h.5M446.0 345.1h.5M440.7 346.8h.5M438.5 345.5h.5M447.0 346.0h.5M419.5 346.5h.5M449.4 346.6h.5M460.2 346.2h.5M441.7 345.2h.5M448.6 345.6h.5M433.7 345.2h.5M426.5 345.7h.5M458.0 344.8h.5M419.6 346.1h.5M460.2 346.3h.5M445.0 345.6h.5M424.3 346.6h.5M455.4 346.1h.5" stroke="#777" stroke-width="0.7" fill="none" stroke-linecap="round"/>
<rect x="419.00" y="357.00" width="79.00" height="79.50" fill="#fff" stroke="#b0b0b0" stroke-width="1.0"/>
<line x1="419" y1="372.9" x2="420.6" y2="372.9" stroke="#888" stroke-width="0.7"/>
<line x1="434.8" y1="436.5" x2="434.8" y2="434.9" stroke="#888" stroke-width="0.7"/>
<line x1="419" y1="388.8" x2="420.6" y2="388.8" stroke="#888" stroke-width="0.7"/>
<line x1="450.6" y1="436.5" x2="450.6" y2="434.9" stroke="#888" stroke-width="0.7"/>
<line x1="419" y1="404.7" x2="420.6" y2="404.7" stroke="#888" stroke-width="0.7"/>
<line x1="466.4" y1="436.5" x2="466.4" y2="434.9" stroke="#888" stroke-width="0.7"/>
<line x1="419" y1="420.6" x2="420.6" y2="420.6" stroke="#888" stroke-width="0.7"/>
<line x1="482.2" y1="436.5" x2="482.2" y2="434.9" stroke="#888" stroke-width="0.7"/>
<g fill="none" stroke="#444" stroke-width="0.6"><path d="M420.5 382.5C422.8 379.0 428.6 381.4 432.5 381.5C436.4 381.6 441.0 382.1 443.8 383.0C446.5 383.9 447.0 386.7 449.0 387.0C451.0 387.3 451.6 385.4 455.5 385.0C459.4 384.6 468.8 384.0 472.5 384.5C476.2 385.0 477.2 386.7 478.0 388.0C478.8 389.3 478.6 391.3 477.5 392.5C476.4 393.7 474.9 394.7 471.2 395.0C467.6 395.3 459.1 394.3 455.5 394.5C451.9 394.7 450.9 394.8 449.5 396.2C448.1 397.7 448.1 400.6 447.0 403.0C445.9 405.4 444.0 408.1 443.0 410.5C442.0 412.9 442.4 415.7 441.2 417.5C440.1 419.3 438.5 420.4 436.2 421.2C434.0 422.1 430.1 422.5 427.5 422.5C424.9 422.5 421.9 424.6 420.5 421.2C419.1 417.9 419.0 409.0 419.0 402.5C419.0 396.0 418.2 386.0 420.5 382.5Z"/><path d="M421.0 384.2C423.1 381.0 428.9 383.2 432.5 383.2C436.1 383.3 440.0 383.8 442.5 384.8C445.0 385.7 445.3 388.4 447.5 388.8C449.7 389.1 451.7 387.3 455.5 387.0C459.3 386.7 467.2 386.4 470.5 386.8C473.8 387.1 474.3 388.1 475.0 389.0C475.7 389.9 475.4 391.3 474.5 392.0C473.6 392.7 472.7 393.1 469.5 393.2C466.3 393.4 459.1 392.5 455.5 392.8C451.9 393.0 449.8 393.0 448.0 394.5C446.2 396.0 446.1 399.6 445.0 402.0C443.9 404.4 442.2 406.7 441.2 409.0C440.2 411.3 440.0 414.3 439.0 416.0C438.0 417.7 436.9 418.5 435.0 419.2C433.1 420.0 429.8 420.3 427.5 420.2C425.2 420.2 422.5 422.0 421.2 419.0C420.0 416.0 419.8 408.3 419.8 402.5C419.7 396.7 418.9 387.5 421.0 384.2Z"/></g>
<ellipse cx="433.4" cy="390.9" rx="11.4" ry="7.6" fill="#6a6a6a" stroke="#222" stroke-width="0.8"/>
<ellipse cx="432.4" cy="390.9" rx="9.4" ry="5.8" fill="#3a3a3a"/>
<ellipse cx="431.7" cy="390.7" rx="7.0" ry="4.0" fill="#1c1c1c"/>
<ellipse cx="431.7" cy="390.7" rx="5.4" ry="2.4" fill="none" stroke="#999" stroke-width="0.5" transform="rotate(0 431.7 390.7)"/>
<ellipse cx="431.7" cy="390.7" rx="4.3" ry="1.9" fill="none" stroke="#999" stroke-width="0.5" transform="rotate(0 431.7 390.7)"/>
<ellipse cx="431.7" cy="390.7" rx="3.2" ry="1.4" fill="none" stroke="#999" stroke-width="0.5" transform="rotate(0 431.7 390.7)"/>
<ellipse cx="432.0" cy="390.7" rx="2.6" ry="1.3" fill="#e8e8e8" transform="rotate(-15 432.0 390.9)"/>
<ellipse cx="435.8" cy="390.9" rx="13.0" ry="8.8" fill="none" stroke="#333" stroke-width="0.6" transform="rotate(0 435.8 390.9)"/>
<ellipse cx="435.8" cy="390.9" rx="11.8" ry="8.0" fill="none" stroke="#333" stroke-width="0.6" transform="rotate(0 435.8 390.9)"/>
<ellipse cx="430.0" cy="410.6" rx="9.0" ry="8.0" fill="none" stroke="#444" stroke-width="0.6" transform="rotate(-18 430.0 410.6)"/>
<ellipse cx="429.7" cy="410.5" rx="7.3" ry="6.5" fill="none" stroke="#444" stroke-width="0.6" transform="rotate(-18 429.7 410.5)"/>
<ellipse cx="429.4" cy="410.4" rx="5.6" ry="5.0" fill="none" stroke="#444" stroke-width="0.6" transform="rotate(-18 429.4 410.4)"/>
<ellipse cx="429.2" cy="410.3" rx="3.9" ry="3.5" fill="none" stroke="#444" stroke-width="0.6" transform="rotate(-18 429.2 410.3)"/>
<path d="M426 405.6 L428.5 409.6 L432 407.1 L430.5 411.1 L433 413.6 L429 412.6 L425.5 415.6 L426.5 410.6 Z" fill="#fff" stroke="#444" stroke-width="0.6" stroke-linejoin="round"/>
<ellipse cx="463.0" cy="388.8" rx="8.5" ry="3.6" fill="none" stroke="#444" stroke-width="0.6" transform="rotate(0 463.0 388.8)"/>
<ellipse cx="462.7" cy="388.8" rx="5.9" ry="2.5" fill="none" stroke="#444" stroke-width="0.6" transform="rotate(0 462.7 388.8)"/>
<ellipse cx="461.5" cy="388.8" rx="1.4" ry="0.7" fill="none" stroke="#444" stroke-width="0.5"/>
<rect x="449.60" y="381.30" width="38.10" height="14.60" fill="none" stroke="#000" stroke-width="1.4"/>
<text transform="translate(476 408.4) scale(1.0 1)" font-size="9.70" stroke="#111" stroke-width="0.22">5%</text>
<path d="M443.4 435.8h.5M462.3 435.9h.5M447.3 435.8h.5M453.4 435.8h.5M451.8 434.4h.5M437.4 436.1h.5M421.6 436.5h.5M447.7 435.4h.5M444.5 435.9h.5M441.7 436.2h.5M430.7 435.3h.5M454.6 435.5h.5M427.7 436.1h.5M460.5 435.2h.5M420.7 435.4h.5M437.9 435.3h.5M459.7 434.9h.5M457.6 434.7h.5M429.0 435.9h.5M455.8 436.0h.5M444.8 435.6h.5M442.1 435.8h.5M437.5 435.7h.5M448.0 435.5h.5M450.7 435.8h.5M468.1 435.7h.5M434.0 435.3h.5M439.8 436.1h.5M435.3 435.7h.5M465.7 434.0h.5M424.3 435.6h.5M445.6 435.6h.5M434.0 435.9h.5M443.9 435.2h.5M474.0 435.7h.5M432.2 435.4h.5M436.8 435.5h.5" stroke="#777" stroke-width="0.7" fill="none" stroke-linecap="round"/>
<text transform="translate(496.5 275.8) scale(1.0 1)" font-size="9.70" text-anchor="end" stroke="#111" stroke-width="0.22">wild-type</text>
<text transform="translate(467.8 369) scale(1.0 1)" font-size="9.60" stroke="#111" stroke-width="0.22"><tspan font-style="italic">Moz</tspan><tspan dy="-3.5" font-size="9.60" letter-spacing="0.4" font-style="italic">+/-</tspan></text>
<line x1="419.5" y1="440.5" x2="494" y2="440.5" stroke="#000" stroke-width="1.3"/>
<path d="M490.5,437.0 L498,440.5 L490.5,444.0 L492.5,440.5 Z" fill="#000"/>
<text transform="translate(464.3 451.2) scale(1.0 1)" font-size="9.60" text-anchor="middle" stroke="#111" stroke-width="0.22">Sca-1 (PE-Cy7)</text>
<text transform="translate(0.8 479) scale(0.95 1)" font-size="17.16" font-weight="bold" stroke="#111" stroke-width="0.5" stroke-linejoin="round">F</text>
<text transform="translate(177.8 481.8) scale(1.0 1)" font-size="12.65" text-anchor="middle" stroke="#111" stroke-width="0.22">B cell development - bone marrow</text>
<rect x="299.60" y="499.80" width="8.60" height="8.60" fill="#111"/>
<rect x="300.20" y="515.90" width="7.40" height="7.40" fill="#fff" stroke="#000" stroke-width="1.3"/>
<text transform="translate(311.70000000000005 508.1) scale(1.0 1)" font-size="10.40" stroke="#111" stroke-width="0.22"><tspan font-style="italic">Moz</tspan><tspan dy="-3.4" font-size="10.40" letter-spacing="0.4" font-style="italic">+/+</tspan></text>
<text transform="translate(311.70000000000005 523.6) scale(1.0 1)" font-size="10.40" stroke="#111" stroke-width="0.22"><tspan font-style="italic">Moz</tspan><tspan dy="-3.4" font-size="10.40" letter-spacing="0.4" font-style="italic">+/-</tspan></text>
<line x1="34.6" y1="499.48999999999995" x2="34.6" y2="654.3" stroke="#000" stroke-width="1.2"/>
<line x1="32.0" y1="653.8" x2="34.6" y2="653.8" stroke="#000" stroke-width="1.1"/>
<text transform="translate(30.200000000000003 656.0) scale(1.0 1)" font-size="10.20" text-anchor="end" stroke="#111" stroke-width="0.22">0</text>
<line x1="32.0" y1="628.165" x2="34.6" y2="628.165" stroke="#000" stroke-width="1.1"/>
<text transform="translate(30.200000000000003 630.365) scale(1.0 1)" font-size="10.20" text-anchor="end" stroke="#111" stroke-width="0.22">5</text>
<line x1="32.0" y1="602.53" x2="34.6" y2="602.53" stroke="#000" stroke-width="1.1"/>
<text transform="translate(30.200000000000003 604.73) scale(1.0 1)" font-size="10.20" text-anchor="end" stroke="#111" stroke-width="0.22">10</text>
<line x1="32.0" y1="576.895" x2="34.6" y2="576.895" stroke="#000" stroke-width="1.1"/>
<text transform="translate(30.200000000000003 579.095) scale(1.0 1)" font-size="10.20" text-anchor="end" stroke="#111" stroke-width="0.22">15</text>
<line x1="32.0" y1="551.26" x2="34.6" y2="551.26" stroke="#000" stroke-width="1.1"/>
<text transform="translate(30.200000000000003 553.46) scale(1.0 1)" font-size="10.20" text-anchor="end" stroke="#111" stroke-width="0.22">20</text>
<line x1="32.0" y1="525.625" x2="34.6" y2="525.625" stroke="#000" stroke-width="1.1"/>
<text transform="translate(30.200000000000003 527.825) scale(1.0 1)" font-size="10.20" text-anchor="end" stroke="#111" stroke-width="0.22">25</text>
<line x1="32.0" y1="499.98999999999995" x2="34.6" y2="499.98999999999995" stroke="#000" stroke-width="1.1"/>
<text transform="translate(30.200000000000003 502.18999999999994) scale(1.0 1)" font-size="10.20" text-anchor="end" stroke="#111" stroke-width="0.22">30</text>
<line x1="34.1" y1="653.8" x2="309.29" y2="653.8" stroke="#000" stroke-width="1.2"/>
<line x1="34.6" y1="653.8" x2="34.6" y2="658.3" stroke="#000" stroke-width="1.1"/>
<line x1="73.77000000000001" y1="653.8" x2="73.77000000000001" y2="658.3" stroke="#000" stroke-width="1.1"/>
<line x1="112.94" y1="653.8" x2="112.94" y2="658.3" stroke="#000" stroke-width="1.1"/>
<line x1="152.11" y1="653.8" x2="152.11" y2="658.3" stroke="#000" stroke-width="1.1"/>
<line x1="191.28" y1="653.8" x2="191.28" y2="658.3" stroke="#000" stroke-width="1.1"/>
<line x1="230.45000000000002" y1="653.8" x2="230.45000000000002" y2="658.3" stroke="#000" stroke-width="1.1"/>
<line x1="269.62" y1="653.8" x2="269.62" y2="658.3" stroke="#000" stroke-width="1.1"/>
<line x1="308.79" y1="653.8" x2="308.79" y2="658.3" stroke="#000" stroke-width="1.1"/>
<rect x="42.30" y="651.65" width="12.30" height="2.15" fill="#111"/>
<rect x="54.70" y="652.09" width="11.60" height="1.71" fill="#fff" stroke="#000" stroke-width="1.2"/>
<line x1="88.85" y1="639.4444" x2="88.85" y2="638.16265" stroke="#000" stroke-width="1.3"/>
<line x1="86.25" y1="638.16265" x2="91.44999999999999" y2="638.16265" stroke="#000" stroke-width="1.4"/>
<line x1="101.15" y1="638.16265" x2="101.15" y2="637.3936" stroke="#000" stroke-width="1.3"/>
<line x1="98.55000000000001" y1="637.3936" x2="103.75" y2="637.3936" stroke="#000" stroke-width="1.4"/>
<rect x="82.70" y="639.44" width="12.30" height="14.36" fill="#111"/>
<rect x="95.10" y="638.76" width="11.60" height="15.04" fill="#fff" stroke="#000" stroke-width="1.2"/>
<line x1="127.0" y1="616.3729" x2="127.0" y2="610.7331999999999" stroke="#000" stroke-width="1.3"/>
<line x1="124.4" y1="610.7331999999999" x2="129.6" y2="610.7331999999999" stroke="#000" stroke-width="1.4"/>
<line x1="139.6" y1="636.3682" x2="139.6" y2="632.7792999999999" stroke="#000" stroke-width="1.3"/>
<line x1="137.0" y1="632.7792999999999" x2="142.2" y2="632.7792999999999" stroke="#000" stroke-width="1.4"/>
<rect x="120.40" y="616.37" width="13.20" height="37.43" fill="#111"/>
<rect x="133.70" y="636.97" width="11.30" height="16.83" fill="#fff" stroke="#000" stroke-width="1.2"/>
<line x1="166.45" y1="548.6965" x2="166.45" y2="533.8281999999999" stroke="#000" stroke-width="1.3"/>
<line x1="163.85" y1="533.8281999999999" x2="169.04999999999998" y2="533.8281999999999" stroke="#000" stroke-width="1.4"/>
<line x1="178.9" y1="607.6569999999999" x2="178.9" y2="599.9665" stroke="#000" stroke-width="1.3"/>
<line x1="176.3" y1="599.9665" x2="181.5" y2="599.9665" stroke="#000" stroke-width="1.4"/>
<rect x="159.90" y="548.70" width="13.10" height="105.10" fill="#111"/>
<rect x="173.10" y="608.26" width="11.10" height="45.54" fill="#fff" stroke="#000" stroke-width="1.2"/>
<line x1="206.95000000000002" y1="524.0869" x2="206.95000000000002" y2="507.16779999999994" stroke="#000" stroke-width="1.3"/>
<line x1="204.35000000000002" y1="507.16779999999994" x2="209.55" y2="507.16779999999994" stroke="#000" stroke-width="1.4"/>
<line x1="219.25000000000003" y1="603.0427" x2="219.25000000000003" y2="597.4029999999999" stroke="#000" stroke-width="1.3"/>
<line x1="216.65000000000003" y1="597.4029999999999" x2="221.85000000000002" y2="597.4029999999999" stroke="#000" stroke-width="1.4"/>
<rect x="200.80" y="524.09" width="12.30" height="129.71" fill="#111"/>
<rect x="213.20" y="603.64" width="11.60" height="50.16" fill="#fff" stroke="#000" stroke-width="1.2"/>
<line x1="245.75" y1="602.53" x2="245.75" y2="586.6363" stroke="#000" stroke-width="1.3"/>
<line x1="243.15" y1="586.6363" x2="248.35" y2="586.6363" stroke="#000" stroke-width="1.4"/>
<line x1="258.05" y1="633.8046999999999" x2="258.05" y2="630.2158" stroke="#000" stroke-width="1.3"/>
<line x1="255.45000000000002" y1="630.2158" x2="260.65000000000003" y2="630.2158" stroke="#000" stroke-width="1.4"/>
<rect x="239.60" y="602.53" width="12.30" height="51.27" fill="#111"/>
<rect x="252.00" y="634.40" width="11.60" height="19.40" fill="#fff" stroke="#000" stroke-width="1.2"/>
<line x1="283.95000000000005" y1="612.784" x2="283.95000000000005" y2="607.1442999999999" stroke="#000" stroke-width="1.3"/>
<line x1="281.35" y1="607.1442999999999" x2="286.55000000000007" y2="607.1442999999999" stroke="#000" stroke-width="1.4"/>
<line x1="296.25" y1="616.8856" x2="296.25" y2="613.8094" stroke="#000" stroke-width="1.3"/>
<line x1="293.65" y1="613.8094" x2="298.85" y2="613.8094" stroke="#000" stroke-width="1.4"/>
<rect x="277.80" y="612.78" width="12.30" height="41.02" fill="#111"/>
<rect x="290.20" y="617.49" width="11.60" height="36.31" fill="#fff" stroke="#000" stroke-width="1.2"/>
<polyline points="128,607.5 128,599.2 139.3,599.2 139.3,630" fill="none" stroke="#000" stroke-width="1.2"/>
<text transform="translate(133.65 602.5) scale(1.0 1)" font-size="15.80" text-anchor="middle" stroke="#111" stroke-width="0.22">*</text>
<polyline points="166.8,531.5 166.8,523.8 178.8,523.8 178.8,598" fill="none" stroke="#000" stroke-width="1.2"/>
<text transform="translate(172.8 527.0999999999999) scale(1.0 1)" font-size="15.80" text-anchor="middle" stroke="#111" stroke-width="0.22">**</text>
<polyline points="207.3,504 207.3,496 219.3,496 219.3,594" fill="none" stroke="#000" stroke-width="1.2"/>
<text transform="translate(213.3 499.3) scale(1.0 1)" font-size="15.80" text-anchor="middle" stroke="#111" stroke-width="0.22">**</text>
<polyline points="246,584.6 246,576 257.8,576 257.8,627.7" fill="none" stroke="#000" stroke-width="1.2"/>
<text transform="translate(251.9 579.3) scale(1.0 1)" font-size="15.80" text-anchor="middle" stroke="#111" stroke-width="0.22">**</text>
<text transform="translate(13.7 576.5) rotate(-90) scale(1.0 1)" font-size="11.05" text-anchor="middle" stroke="#111" stroke-width="0.22">Cells per femur (x10<tspan dy="-5" font-size="8.50" letter-spacing="0.4">5</tspan><tspan dy="5">) ± s.e.m.</tspan></text>
<text transform="translate(53.8 668.1) scale(1.0 1)" font-size="11.50" text-anchor="middle" stroke="#111" stroke-width="0.22">CLP</text>
<text transform="translate(92.8 668.1) scale(1.0 1)" font-size="11.50" text-anchor="middle" stroke="#111" stroke-width="0.22">pre-pro</text>
<text transform="translate(131.2 668.1) scale(1.0 1)" font-size="11.50" text-anchor="middle" stroke="#111" stroke-width="0.22">pro-B</text>
<text transform="translate(172.3 668.1) scale(1.0 1)" font-size="11.50" text-anchor="middle" stroke="#111" stroke-width="0.22">pre-B</text>
<text transform="translate(212.3 665.8) scale(1.0 1)" font-size="11.50" text-anchor="middle" stroke="#111" stroke-width="0.22">pre-B</text>
<text transform="translate(212.8 676.2) scale(1.0 1)" font-size="11.50" text-anchor="middle" stroke="#111" stroke-width="0.22">(small)</text>
<text transform="translate(251.5 665.8) scale(1.0 1)" font-size="11.50" text-anchor="middle" stroke="#111" stroke-width="0.22">im-</text>
<text transform="translate(252 676.2) scale(1.0 1)" font-size="11.50" text-anchor="middle" stroke="#111" stroke-width="0.22">mature</text>
<text transform="translate(291 668.6) scale(1.0 1)" font-size="11.50" text-anchor="middle" stroke="#111" stroke-width="0.22">mature</text>
<text transform="translate(454.5 475.6) scale(1.0 1)" font-size="10.90" text-anchor="middle" stroke="#111" stroke-width="0.22">live single BM cells</text>
<line x1="410.6" y1="652.5" x2="410.6" y2="490" stroke="#000" stroke-width="1.3"/>
<path d="M407.1,493.5 L410.6,486 L414.1,493.5 L410.6,491.5 Z" fill="#000"/>
<text transform="translate(402.2 507) rotate(-90) scale(1.0 1)" font-size="9.60" text-anchor="middle" stroke="#111" stroke-width="0.22">CD19 (APC)</text>
<rect x="417.70" y="485.00" width="78.60" height="79.20" fill="#fff" stroke="#b0b0b0" stroke-width="1.0"/>
<line x1="417.7" y1="500.84" x2="419.3" y2="500.84" stroke="#888" stroke-width="0.7"/>
<line x1="433.41999999999996" y1="564.2" x2="433.41999999999996" y2="562.6" stroke="#888" stroke-width="0.7"/>
<line x1="417.7" y1="516.68" x2="419.3" y2="516.68" stroke="#888" stroke-width="0.7"/>
<line x1="449.14" y1="564.2" x2="449.14" y2="562.6" stroke="#888" stroke-width="0.7"/>
<line x1="417.7" y1="532.52" x2="419.3" y2="532.52" stroke="#888" stroke-width="0.7"/>
<line x1="464.86" y1="564.2" x2="464.86" y2="562.6" stroke="#888" stroke-width="0.7"/>
<line x1="417.7" y1="548.36" x2="419.3" y2="548.36" stroke="#888" stroke-width="0.7"/>
<line x1="480.58" y1="564.2" x2="480.58" y2="562.6" stroke="#888" stroke-width="0.7"/>
<g filter="url(#soft)">
<rect x="418.4" y="538.5" width="30.5" height="25" fill="#cdcdcd"/>
<path d="M445.1 556.3h.5M425.9 547.4h.5M422.8 558.3h.5M434.5 558.5h.5M428.0 543.5h.5M444.8 559.3h.5M443.7 557.5h.5M424.8 551.5h.5M428.9 538.3h.5M425.8 556.2h.5M448.1 549.6h.5M448.1 547.3h.5M424.6 543.6h.5M423.8 543.0h.5M437.5 561.8h.5M444.4 550.4h.5M438.4 559.1h.5M420.2 555.3h.5M446.6 558.6h.5M441.5 550.4h.5M423.2 558.8h.5M428.1 559.1h.5M448.6 548.2h.5M430.3 563.1h.5M440.7 542.1h.5M421.6 541.6h.5M446.5 559.3h.5M422.2 559.8h.5M448.9 555.2h.5M428.7 552.3h.5M421.7 537.9h.5M448.6 555.0h.5M434.4 562.7h.5M431.4 561.0h.5M443.9 543.2h.5M425.6 545.4h.5M425.2 553.3h.5M425.8 548.8h.5M421.7 562.1h.5M428.8 549.9h.5M436.2 561.9h.5M431.0 562.3h.5M433.6 551.9h.5M434.3 538.0h.5M431.6 542.4h.5M423.0 550.3h.5M440.7 552.5h.5M427.9 551.5h.5M435.3 558.7h.5M420.9 552.6h.5M425.5 545.0h.5M442.2 551.2h.5M435.5 558.0h.5M446.7 549.5h.5M437.1 551.1h.5M433.9 556.2h.5M432.0 551.9h.5M432.8 562.9h.5M439.9 561.2h.5M447.6 544.5h.5M435.4 563.0h.5M444.4 541.2h.5M421.4 549.4h.5M419.8 544.0h.5M419.8 555.6h.5M442.6 561.7h.5M422.4 556.8h.5M438.6 541.4h.5M424.5 563.2h.5M430.2 550.7h.5M449.2 560.0h.5M422.7 549.2h.5M434.0 546.7h.5M423.8 546.1h.5M440.6 538.0h.5M435.2 549.4h.5M437.5 551.3h.5M420.9 544.7h.5M418.8 558.5h.5M426.2 541.0h.5M431.0 562.1h.5M443.7 544.5h.5M422.3 562.3h.5M435.8 556.4h.5M420.4 539.1h.5M439.5 549.0h.5M419.8 562.8h.5M437.8 559.1h.5M420.2 560.6h.5M419.6 560.8h.5M432.0 546.7h.5M435.2 562.5h.5M426.1 541.0h.5M434.4 543.9h.5M421.0 541.9h.5M419.1 542.9h.5M427.5 545.7h.5M441.8 545.3h.5M433.5 542.3h.5M428.6 538.0h.5M425.5 537.9h.5M441.0 552.4h.5M423.6 550.3h.5M447.4 540.4h.5M443.7 549.2h.5M433.3 560.0h.5M430.1 551.2h.5M428.5 560.0h.5M440.1 554.7h.5M430.5 546.9h.5M419.2 541.0h.5M419.8 557.5h.5M425.7 541.9h.5M420.2 560.2h.5M445.4 555.6h.5M426.5 544.0h.5M426.9 549.9h.5M422.5 549.5h.5M425.9 563.5h.5M448.6 552.3h.5M425.3 563.6h.5M427.4 547.1h.5M432.7 551.1h.5M423.9 551.1h.5M420.4 548.3h.5M418.8 538.1h.5M427.2 543.8h.5M436.2 551.8h.5M441.5 555.3h.5M440.4 561.2h.5M430.0 546.3h.5M449.0 541.5h.5M440.7 554.9h.5M418.9 560.1h.5M446.0 554.4h.5M441.0 559.4h.5M422.0 551.6h.5M433.6 560.0h.5M443.2 559.8h.5M436.2 561.6h.5M439.4 556.2h.5M424.9 538.3h.5M421.8 547.2h.5M420.9 560.1h.5M435.4 554.4h.5M437.5 555.9h.5M433.2 537.6h.5M443.0 557.7h.5M433.6 552.0h.5M438.6 539.3h.5M441.1 544.3h.5M419.9 544.7h.5M440.8 543.0h.5M433.3 547.8h.5M432.8 556.0h.5M442.0 554.2h.5M438.1 539.6h.5M422.2 544.4h.5M441.3 545.7h.5M435.7 537.8h.5M419.4 544.8h.5M439.0 556.2h.5M439.1 545.4h.5M434.0 550.0h.5M432.4 540.7h.5M446.1 542.9h.5M448.8 562.8h.5M431.9 544.8h.5M424.2 563.0h.5M424.2 553.2h.5M422.0 551.6h.5M448.0 541.1h.5M443.7 551.2h.5M445.9 556.5h.5M424.9 561.7h.5M433.1 538.2h.5M431.9 545.7h.5M422.0 546.8h.5M427.6 560.2h.5M444.4 540.7h.5M447.1 556.8h.5M446.4 545.3h.5M429.4 548.1h.5M449.5 553.4h.5M429.0 549.1h.5M426.3 538.8h.5M420.8 560.0h.5M426.6 562.8h.5M425.5 544.7h.5M433.9 542.6h.5M429.4 563.3h.5M445.8 559.4h.5M437.7 562.2h.5M447.6 552.3h.5M440.5 538.8h.5M440.9 549.7h.5M441.6 554.9h.5M426.7 538.8h.5M447.2 540.9h.5M432.6 546.8h.5M427.0 557.5h.5M448.7 544.5h.5M438.5 545.6h.5M435.3 548.1h.5M422.9 541.9h.5M424.2 562.0h.5M433.4 543.4h.5M431.9 541.3h.5M423.7 539.9h.5M428.4 540.0h.5M425.2 544.5h.5M435.7 561.5h.5M441.5 548.6h.5M430.7 551.7h.5M429.6 546.6h.5M419.5 545.0h.5M448.5 540.9h.5M433.6 554.5h.5M445.1 543.3h.5M426.2 544.2h.5M430.3 549.5h.5M448.0 560.4h.5M445.4 538.1h.5M418.5 556.7h.5M446.2 550.3h.5M436.3 537.5h.5M430.0 562.5h.5M443.9 560.6h.5M448.6 544.2h.5M421.0 541.7h.5M434.2 555.9h.5M447.6 557.0h.5M438.2 558.1h.5M432.1 552.4h.5M418.8 558.6h.5M424.9 562.3h.5M438.2 545.7h.5M421.6 544.3h.5M437.9 556.4h.5M421.1 539.4h.5M434.3 553.2h.5M429.9 543.5h.5M436.7 537.8h.5M427.1 549.9h.5M448.2 554.9h.5M445.8 550.3h.5M425.0 544.2h.5M448.2 556.5h.5M427.3 538.1h.5M433.4 555.7h.5M430.9 544.4h.5M438.9 562.5h.5M424.8 538.4h.5M428.3 548.9h.5M439.3 542.8h.5M443.0 557.5h.5M433.7 543.0h.5M448.5 545.9h.5M443.7 543.7h.5M424.6 558.0h.5M426.9 563.2h.5M433.4 542.6h.5M424.6 548.8h.5M438.8 563.1h.5M422.2 548.1h.5M422.0 538.9h.5M419.4 548.1h.5M446.2 561.4h.5M447.3 546.4h.5M423.4 562.8h.5M441.4 538.4h.5M438.8 547.7h.5M429.5 546.5h.5M422.9 537.6h.5M426.5 547.0h.5M448.1 540.8h.5M448.4 543.1h.5M428.9 559.7h.5M443.8 549.2h.5M419.1 550.3h.5M429.4 562.3h.5M423.7 547.3h.5M446.2 538.3h.5M430.6 559.4h.5M442.0 538.6h.5M418.6 539.2h.5M446.9 544.4h.5M441.4 561.8h.5M428.4 544.9h.5M448.1 554.2h.5M425.9 556.8h.5M427.6 544.9h.5M446.8 554.6h.5M447.7 538.2h.5M425.0 550.3h.5M448.1 563.3h.5M429.9 544.3h.5M431.3 550.8h.5M447.2 542.4h.5M443.2 557.4h.5M443.8 558.4h.5M436.9 546.4h.5M427.7 547.3h.5M442.5 539.6h.5M423.8 557.8h.5M425.4 539.2h.5M418.6 552.4h.5M426.0 539.8h.5M420.6 551.0h.5M440.2 549.6h.5M425.0 548.8h.5M437.3 555.7h.5M441.4 560.4h.5M438.8 540.8h.5M444.4 545.4h.5M435.6 547.6h.5M441.1 542.9h.5M425.4 544.1h.5M422.4 561.4h.5M436.0 546.3h.5M433.7 543.7h.5M443.4 555.1h.5M449.2 540.3h.5M432.7 559.6h.5M444.4 562.2h.5M418.8 545.4h.5M421.3 542.6h.5M448.6 553.2h.5M447.3 547.6h.5M445.2 549.6h.5M425.8 558.5h.5M447.8 540.4h.5M436.6 554.2h.5M424.5 547.5h.5M422.0 543.0h.5M425.7 553.7h.5M438.4 543.0h.5M439.2 542.5h.5M427.5 543.0h.5M442.9 552.3h.5M419.5 540.2h.5M430.1 552.4h.5M438.0 540.0h.5M422.7 556.3h.5M430.6 545.1h.5M427.3 563.2h.5M427.5 552.8h.5M428.9 548.7h.5M429.1 542.8h.5M440.8 543.0h.5M431.1 559.6h.5M430.5 561.3h.5M432.2 541.9h.5M438.0 562.1h.5M420.3 554.3h.5M429.4 551.1h.5M422.2 545.1h.5M434.2 562.5h.5M421.0 550.7h.5M423.8 540.9h.5M432.9 538.9h.5M447.1 548.0h.5M446.4 554.2h.5M443.9 541.8h.5M442.6 543.5h.5M430.4 560.4h.5M444.0 542.4h.5M424.5 548.3h.5M434.1 547.9h.5M421.4 544.2h.5M440.7 561.7h.5M418.8 552.7h.5M441.7 538.5h.5M444.3 540.7h.5M436.7 552.4h.5M437.6 545.8h.5M430.9 553.2h.5M431.1 555.3h.5M431.8 549.3h.5M433.2 543.9h.5M441.9 558.6h.5M432.2 542.3h.5M432.6 540.4h.5M421.6 549.1h.5M420.4 549.4h.5M433.8 538.6h.5M437.9 539.7h.5M441.0 558.5h.5M433.9 539.0h.5M433.6 547.7h.5M447.9 541.2h.5M440.9 559.5h.5M433.2 563.3h.5M446.8 542.0h.5M442.7 562.6h.5M419.6 547.0h.5M441.7 541.8h.5M446.2 544.9h.5M443.6 541.4h.5M433.6 562.3h.5M424.2 544.6h.5M433.7 546.1h.5M418.7 542.4h.5M422.7 562.8h.5M439.2 561.7h.5M422.9 558.7h.5M421.2 551.8h.5M437.9 547.2h.5M445.4 552.5h.5M436.1 561.3h.5M437.7 548.1h.5M443.0 544.6h.5M449.2 553.1h.5M429.0 558.1h.5M431.7 542.3h.5M441.3 538.8h.5M443.7 544.3h.5M436.2 555.4h.5M427.5 537.5h.5M418.6 541.5h.5M437.2 549.2h.5M433.9 561.7h.5M421.7 543.6h.5M438.4 538.1h.5M420.9 547.1h.5M424.7 553.3h.5M436.4 543.0h.5M437.5 550.3h.5M421.8 562.8h.5M425.3 541.5h.5M420.6 554.7h.5M445.4 558.6h.5M430.4 544.6h.5M435.5 547.0h.5M438.2 549.5h.5M447.5 557.3h.5M425.5 561.9h.5M418.9 551.9h.5M430.5 543.9h.5M419.4 558.5h.5M447.6 541.3h.5M423.9 553.9h.5M433.7 554.8h.5M443.5 542.2h.5M427.4 545.6h.5M419.1 561.5h.5M442.6 556.8h.5M441.3 550.1h.5M441.2 549.7h.5M424.7 540.3h.5M424.9 538.5h.5M428.2 557.7h.5M439.7 560.3h.5M440.3 544.7h.5M435.2 549.3h.5M442.7 551.6h.5M426.0 554.8h.5M448.4 543.4h.5M445.7 537.9h.5M425.8 543.9h.5M441.3 563.0h.5M441.4 546.3h.5M445.7 546.4h.5M425.2 562.0h.5M437.7 556.2h.5M432.5 560.2h.5M439.8 560.7h.5M431.5 557.1h.5M435.8 545.8h.5M424.3 554.3h.5M420.0 562.1h.5M422.1 538.2h.5M420.9 562.6h.5M428.5 541.3h.5M418.4 538.6h.5M439.7 554.6h.5M439.8 557.4h.5M419.6 553.4h.5M429.1 559.6h.5M443.7 561.6h.5M419.6 560.9h.5M446.8 563.0h.5M420.9 543.1h.5M421.1 538.4h.5M444.6 559.4h.5M437.8 559.8h.5M437.7 545.3h.5M420.7 540.1h.5M441.7 543.0h.5M427.7 548.9h.5M426.5 556.8h.5M429.3 546.2h.5M448.3 551.1h.5M444.7 554.2h.5M418.5 548.6h.5M431.5 558.4h.5M428.6 556.5h.5M434.7 543.3h.5M445.1 540.0h.5M443.7 542.1h.5M433.2 559.0h.5M423.4 550.9h.5M428.6 560.0h.5M425.8 563.0h.5M426.6 543.3h.5M439.9 551.0h.5M421.0 554.7h.5M420.1 558.8h.5M439.8 558.7h.5M437.6 547.1h.5M430.3 548.2h.5M446.0 539.8h.5M445.9 538.2h.5M424.1 544.6h.5M446.3 551.0h.5M429.6 561.4h.5M425.0 549.9h.5M434.5 557.9h.5M441.6 555.0h.5M428.7 546.3h.5M422.5 560.3h.5M438.7 557.5h.5M422.9 549.3h.5M442.2 553.1h.5M421.5 550.0h.5M445.8 543.9h.5M423.6 545.6h.5M440.0 560.3h.5M422.4 541.7h.5M425.4 546.3h.5M434.2 541.8h.5M428.0 542.6h.5M448.7 557.2h.5M420.8 563.5h.5M420.8 547.9h.5M449.0 559.0h.5M441.0 549.2h.5M423.8 554.7h.5M420.9 543.1h.5M429.9 538.4h.5M430.3 558.9h.5M439.7 551.0h.5M437.7 550.0h.5M422.0 553.8h.5M430.5 557.5h.5M446.6 549.1h.5M435.9 557.7h.5M431.0 543.7h.5M440.6 561.3h.5M442.3 556.4h.5M444.8 555.8h.5M438.0 549.8h.5M427.5 554.5h.5M420.6 548.8h.5M442.5 556.8h.5M437.6 544.3h.5M431.1 549.8h.5" stroke="#a4a4a4" stroke-width="0.84" fill="none" stroke-linecap="round"/>
<path d="M428.4 539.2h.5M424.4 524.4h.5M445.7 561.6h.5M440.3 536.3h.5M453.8 550.3h.5M450.1 563.3h.5M452.6 542.1h.5M451.7 555.5h.5M419.5 545.8h.5M445.5 535.3h.5M442.9 563.2h.5M420.8 558.7h.5M435.3 550.0h.5M436.0 558.0h.5M451.5 548.0h.5M420.3 555.2h.5M431.9 553.9h.5M452.8 542.0h.5M431.0 551.8h.5M453.5 560.8h.5M444.7 532.5h.5M421.6 549.7h.5M426.8 559.5h.5M448.0 528.6h.5M427.4 548.8h.5M431.6 545.3h.5M444.1 538.1h.5M444.1 540.0h.5M430.9 552.9h.5M430.5 550.2h.5M458.8 547.3h.5M436.1 555.1h.5M433.2 558.9h.5M421.3 553.8h.5M431.3 538.2h.5M461.0 537.6h.5M460.8 554.2h.5M456.9 536.3h.5M453.6 563.0h.5M436.5 545.6h.5M469.9 549.0h.5M432.5 540.1h.5M443.8 550.6h.5M433.7 552.2h.5M457.0 536.0h.5M420.4 534.9h.5M424.5 526.7h.5M443.9 526.6h.5M444.5 563.0h.5M428.4 544.1h.5M438.7 553.0h.5M433.5 547.2h.5M430.9 548.3h.5M422.8 547.7h.5M462.9 547.9h.5M421.6 549.8h.5M425.4 528.8h.5M428.4 555.1h.5M443.0 545.9h.5M426.0 535.1h.5M455.5 549.7h.5M425.6 523.8h.5M423.1 546.2h.5M440.7 545.3h.5M434.4 531.9h.5M428.2 556.3h.5M441.4 558.4h.5M423.4 553.5h.5M443.0 538.9h.5M444.2 537.1h.5M427.7 546.8h.5M425.0 530.9h.5M432.5 555.4h.5M432.7 560.9h.5M422.9 532.6h.5M458.2 551.4h.5M450.3 537.9h.5M448.5 549.9h.5M446.4 547.3h.5M453.7 539.9h.5M425.5 530.7h.5M453.1 538.9h.5M424.4 536.7h.5M432.2 533.0h.5M434.2 540.1h.5M430.8 536.4h.5M438.5 541.9h.5M439.5 549.7h.5M442.4 522.9h.5M431.0 538.2h.5M448.1 529.6h.5M428.7 543.8h.5M433.6 557.9h.5M432.2 557.6h.5M418.9 527.1h.5M453.9 551.8h.5M444.3 548.4h.5M444.3 533.6h.5M450.3 541.1h.5M450.8 548.0h.5M452.7 545.5h.5M432.9 549.7h.5M432.5 541.0h.5M439.3 548.6h.5M457.7 547.5h.5M460.3 558.7h.5M439.7 548.5h.5M436.1 539.0h.5M437.1 540.0h.5M459.3 552.9h.5M432.2 525.9h.5M437.3 542.4h.5M423.9 534.5h.5M437.6 545.4h.5M456.8 548.5h.5M440.2 542.9h.5M430.1 563.5h.5M433.5 547.3h.5M426.5 557.6h.5M419.9 553.2h.5M452.2 562.5h.5M425.8 559.0h.5M428.7 538.7h.5M420.8 559.7h.5M459.4 540.5h.5M428.1 543.3h.5M470.6 558.0h.5M430.9 527.3h.5M429.3 560.1h.5M462.3 544.1h.5M429.0 541.4h.5M423.9 558.7h.5M441.7 538.6h.5M448.2 547.1h.5M422.7 553.8h.5M448.9 526.0h.5M461.7 552.5h.5M447.9 526.5h.5M428.6 543.2h.5M452.0 530.9h.5M426.5 524.7h.5M434.9 550.8h.5M446.6 543.7h.5M422.7 536.7h.5M429.4 548.6h.5M441.7 535.2h.5M458.1 557.4h.5M439.3 539.1h.5M449.9 538.2h.5M420.8 549.2h.5M441.2 553.7h.5M446.5 562.5h.5M427.1 557.8h.5M425.2 554.6h.5M440.3 549.7h.5M450.6 546.8h.5M452.5 556.6h.5M439.8 540.8h.5M428.2 541.2h.5M435.4 546.7h.5M476.8 554.0h.5M448.0 537.5h.5M428.8 543.5h.5M440.5 535.6h.5M459.0 540.8h.5M452.0 521.3h.5M437.9 550.1h.5M440.5 553.6h.5M441.6 548.8h.5M442.0 544.9h.5M427.3 540.6h.5M437.2 561.2h.5M431.7 537.4h.5M430.7 549.1h.5M477.3 539.7h.5M438.6 550.0h.5M437.6 557.2h.5M461.1 533.3h.5M440.1 544.1h.5M442.6 530.2h.5M444.8 549.1h.5M439.0 521.0h.5M433.1 538.7h.5M419.6 536.9h.5M447.1 553.0h.5M437.7 552.7h.5M430.2 547.8h.5M438.5 553.1h.5M437.1 545.4h.5M436.2 539.9h.5M467.0 552.7h.5M456.2 529.9h.5M447.0 556.2h.5M462.5 561.5h.5M448.0 534.1h.5M426.7 550.0h.5M444.6 535.8h.5M433.0 542.6h.5M438.8 550.7h.5M434.3 533.4h.5M436.6 558.3h.5M443.8 554.3h.5M444.3 538.6h.5M445.5 558.1h.5M463.9 555.2h.5M433.6 540.4h.5M427.4 548.3h.5M437.6 554.4h.5M467.6 546.7h.5M446.8 552.2h.5M441.6 544.7h.5M436.4 537.9h.5M440.3 546.7h.5M442.2 537.6h.5M438.5 547.5h.5M445.9 535.3h.5M443.5 557.8h.5M445.8 542.9h.5M431.6 544.4h.5M435.9 539.9h.5M442.9 549.2h.5M426.2 538.9h.5M436.7 554.4h.5M422.5 535.8h.5M444.5 533.5h.5M439.4 550.9h.5M436.6 535.8h.5M437.2 543.3h.5M442.4 537.8h.5M452.2 528.6h.5M435.7 547.1h.5M450.5 540.3h.5M445.1 540.8h.5M432.8 551.9h.5M425.9 557.7h.5M453.7 547.4h.5M423.2 551.4h.5M452.9 559.0h.5M448.6 526.9h.5M429.2 562.6h.5M422.1 559.4h.5M462.5 555.4h.5M452.6 543.3h.5M422.1 545.9h.5M435.4 546.5h.5M447.1 545.4h.5M440.5 551.7h.5M443.8 547.9h.5M435.3 540.1h.5M455.5 548.7h.5M424.0 540.8h.5M436.2 542.1h.5M452.1 534.2h.5M444.4 548.6h.5M422.7 547.5h.5M436.8 552.5h.5M432.1 550.3h.5M448.2 558.5h.5M437.8 540.4h.5M452.1 524.0h.5M427.6 554.4h.5M446.5 535.6h.5M440.0 537.1h.5M438.7 556.9h.5M447.6 524.1h.5M448.0 527.4h.5M452.8 551.4h.5M467.3 540.3h.5M438.1 558.5h.5M429.7 539.2h.5M433.2 546.2h.5M423.9 552.3h.5M445.1 547.8h.5M460.1 543.4h.5M455.0 541.0h.5M447.8 525.7h.5M440.6 545.1h.5M431.6 540.3h.5M433.5 539.1h.5M430.9 541.2h.5M424.2 545.5h.5M448.2 544.2h.5M431.6 561.9h.5M450.7 557.1h.5M453.0 543.4h.5M436.3 559.2h.5M430.8 545.7h.5M442.9 551.1h.5M434.4 557.8h.5M435.7 555.0h.5M451.9 554.3h.5M447.5 534.2h.5M421.0 540.2h.5M444.2 563.5h.5M422.1 550.4h.5M426.9 538.9h.5M434.4 554.6h.5M440.8 560.0h.5M425.2 556.8h.5M450.1 547.8h.5M444.2 540.8h.5M423.8 542.5h.5M440.6 550.4h.5M447.7 538.4h.5M449.9 551.1h.5M445.2 552.0h.5M458.6 542.4h.5M444.7 555.2h.5M426.3 560.2h.5M419.1 532.7h.5M444.8 535.0h.5M436.5 528.9h.5M438.9 534.5h.5M442.4 530.1h.5M443.8 544.1h.5M438.8 546.3h.5M439.7 532.5h.5M425.8 542.0h.5M443.5 525.2h.5M428.1 540.3h.5M424.3 550.6h.5M436.2 538.0h.5M425.2 555.9h.5M429.4 553.4h.5M443.8 526.2h.5M423.9 547.0h.5M442.4 555.6h.5M448.4 558.4h.5M433.1 544.7h.5M448.1 542.3h.5M451.7 529.5h.5M446.5 545.1h.5" stroke="#aaaaaa" stroke-width="0.76" fill="none" stroke-linecap="round"/>
<rect x="446.3" y="539" width="3.2" height="24.5" fill="#858585" opacity="0.7"/>
<rect x="418.4" y="537.2" width="31" height="2.6" fill="#767676" opacity="0.75"/>
<path d="M447.0 557.8h.5M451.1 547.2h.5M448.6 541.9h.5M453.2 537.9h.5M444.3 537.6h.5M448.3 545.5h.5M449.8 537.0h.5M449.0 558.5h.5M449.5 535.0h.5M451.9 553.2h.5M448.6 555.2h.5M447.2 536.8h.5M452.5 544.2h.5M448.2 552.7h.5M452.2 546.8h.5M447.2 543.2h.5M451.3 555.5h.5M453.8 544.2h.5M449.6 546.6h.5M452.7 536.6h.5M451.9 539.6h.5M451.3 554.6h.5M448.4 546.0h.5M450.9 553.5h.5M448.8 536.1h.5M450.2 544.6h.5M447.8 557.2h.5M449.5 562.8h.5M452.0 547.2h.5M451.8 534.8h.5M449.9 540.7h.5M448.2 547.2h.5M450.2 562.8h.5M444.5 539.6h.5M448.8 541.9h.5M451.3 551.4h.5M450.6 541.8h.5M451.4 551.0h.5M447.2 544.1h.5M448.0 534.0h.5M450.8 547.7h.5M450.7 537.4h.5M450.1 537.0h.5M451.2 554.6h.5M453.7 560.9h.5M449.1 542.0h.5M448.8 550.4h.5M454.1 554.8h.5M446.5 533.2h.5M448.2 552.7h.5M450.5 550.3h.5M453.7 537.9h.5M451.1 538.4h.5M446.8 530.2h.5M446.1 547.8h.5M450.6 557.9h.5M450.2 539.4h.5M447.3 548.9h.5M450.5 553.8h.5M449.8 552.5h.5M452.0 545.4h.5M449.7 545.0h.5M448.8 544.7h.5M450.0 549.3h.5M452.9 561.4h.5M449.7 553.6h.5M451.0 555.4h.5M450.5 549.9h.5M449.7 538.4h.5M452.1 561.3h.5M451.7 551.8h.5M451.0 542.0h.5M447.3 554.3h.5M450.9 540.9h.5M448.8 561.1h.5M449.2 546.8h.5M449.6 548.7h.5M450.1 538.8h.5M452.4 538.4h.5M449.6 553.1h.5M449.5 542.2h.5M451.1 543.0h.5M448.3 545.9h.5M448.5 557.7h.5M449.1 543.1h.5M449.9 550.0h.5M449.4 561.6h.5M452.3 555.9h.5M449.1 556.9h.5M450.3 550.9h.5M450.0 554.3h.5M452.5 559.4h.5M450.1 557.9h.5M453.1 536.7h.5M453.2 532.3h.5M451.5 553.5h.5M453.2 550.1h.5M449.6 538.2h.5M448.2 555.4h.5M450.1 539.1h.5M451.5 538.6h.5M449.7 542.0h.5M453.5 563.1h.5M450.2 529.7h.5M451.0 547.8h.5M451.1 553.2h.5M449.9 557.2h.5M452.0 549.3h.5M449.8 541.7h.5M451.7 534.9h.5M450.2 538.8h.5M448.0 553.6h.5M450.5 547.4h.5M452.1 530.6h.5M450.4 550.2h.5M452.0 535.1h.5M451.8 549.4h.5M452.9 559.5h.5M450.5 542.3h.5M449.9 536.7h.5M450.4 526.3h.5M450.3 551.7h.5M452.3 543.2h.5M453.0 539.8h.5M450.3 526.3h.5M449.1 538.3h.5M453.1 552.7h.5M448.6 552.7h.5M451.3 544.5h.5M450.5 543.7h.5M449.5 528.0h.5M450.3 560.8h.5M453.0 544.0h.5M449.2 544.7h.5M452.1 550.8h.5M449.5 550.9h.5M450.1 552.5h.5M449.8 531.2h.5M450.6 555.2h.5M448.6 545.8h.5M452.0 543.0h.5M452.0 558.0h.5M447.6 541.4h.5M451.8 561.2h.5M448.9 539.9h.5M450.8 526.4h.5M451.6 553.0h.5M449.7 552.7h.5M451.9 550.3h.5M451.4 563.2h.5M449.7 548.7h.5M449.6 558.0h.5M449.8 552.1h.5M450.7 547.7h.5M453.5 546.1h.5M453.0 555.8h.5M452.8 545.2h.5M452.1 555.0h.5M449.4 549.9h.5M450.3 546.6h.5M452.8 539.3h.5M447.6 528.5h.5M449.7 540.1h.5M450.5 553.0h.5M453.6 550.3h.5M451.3 539.2h.5M451.5 561.4h.5M452.8 526.3h.5M451.9 531.1h.5M450.0 553.2h.5M451.2 538.4h.5M449.0 557.2h.5M448.2 562.2h.5M450.5 550.2h.5M448.2 540.7h.5M451.7 531.4h.5M454.1 532.1h.5M448.4 547.5h.5M451.3 554.8h.5M449.9 544.8h.5M450.1 540.9h.5M446.0 557.2h.5M450.9 548.7h.5M449.4 549.7h.5M450.5 546.2h.5M452.4 528.8h.5M450.9 535.7h.5M450.0 562.8h.5M448.6 545.9h.5M449.5 557.0h.5M448.8 529.2h.5M451.4 543.3h.5M449.9 558.4h.5M449.0 543.1h.5M450.8 551.4h.5M449.6 557.9h.5M454.4 542.7h.5M453.7 524.7h.5M452.9 543.4h.5M450.7 543.4h.5M449.4 533.5h.5M449.8 560.7h.5M452.5 543.3h.5M449.6 539.6h.5M451.6 548.2h.5M449.7 536.2h.5M452.8 555.2h.5M448.9 557.4h.5M448.6 553.8h.5M448.8 542.6h.5M451.4 551.6h.5M452.2 538.2h.5M453.2 561.2h.5M450.5 551.9h.5M449.2 545.4h.5M448.2 547.9h.5M450.8 561.2h.5M452.1 555.6h.5M449.9 544.6h.5M449.9 549.3h.5M447.2 555.1h.5M447.8 541.6h.5M450.5 541.6h.5M453.4 546.0h.5M453.2 559.4h.5M449.6 551.2h.5M452.7 543.5h.5M450.7 541.1h.5M450.6 543.3h.5M450.6 557.6h.5M452.9 548.4h.5M450.8 556.0h.5M450.0 535.8h.5M452.4 537.1h.5M452.1 536.8h.5M453.7 536.0h.5M452.0 562.8h.5M448.8 562.7h.5M449.1 528.4h.5M451.7 554.4h.5M450.4 543.8h.5M449.8 543.9h.5M447.4 541.0h.5M453.6 563.3h.5M449.9 539.5h.5" stroke="#8a8a8a" stroke-width="0.76" fill="none" stroke-linecap="round"/>
<rect x="418.3" y="539" width="1.6" height="24.5" fill="#8a8a8a" opacity="0.6"/>
<path d="M436.8 538.6h.5M439.9 536.5h.5M434.6 537.7h.5M446.8 538.7h.5M438.0 538.8h.5M429.2 539.1h.5M428.9 538.0h.5M441.8 536.7h.5M426.3 535.9h.5M434.6 537.5h.5M429.9 538.1h.5M433.8 537.3h.5M440.6 539.3h.5M428.7 536.7h.5M427.2 537.7h.5M438.6 536.8h.5M442.6 536.6h.5M440.9 538.0h.5M437.5 539.7h.5M430.5 537.4h.5M437.6 538.4h.5M420.1 537.9h.5M425.9 538.2h.5M446.1 537.6h.5M432.0 537.8h.5M438.4 537.8h.5M429.2 536.9h.5M431.3 538.8h.5M432.0 538.9h.5M435.6 537.6h.5M445.0 536.4h.5M423.5 536.5h.5M427.7 538.2h.5M438.7 535.7h.5M447.0 537.0h.5M427.4 539.2h.5M432.2 536.4h.5M426.9 536.9h.5M423.3 537.3h.5M441.4 537.9h.5M419.7 540.3h.5M423.5 537.7h.5M433.3 538.3h.5M429.8 538.0h.5M453.2 537.7h.5M422.6 537.9h.5M425.3 537.2h.5M434.8 537.9h.5M430.3 538.4h.5M431.1 536.3h.5M441.4 537.3h.5M444.6 537.0h.5M438.5 537.9h.5M422.3 539.0h.5M443.5 538.1h.5M439.5 537.1h.5M432.9 537.8h.5M437.0 538.3h.5M431.0 536.9h.5M427.6 538.0h.5M429.0 537.1h.5M430.4 535.0h.5M429.7 537.4h.5M440.5 535.7h.5M430.1 538.1h.5M437.7 538.7h.5M443.1 536.6h.5M439.1 537.3h.5M425.3 539.1h.5M427.0 536.8h.5M429.1 536.8h.5M442.7 538.0h.5M446.5 538.0h.5M427.1 538.6h.5M426.7 537.2h.5M431.4 537.6h.5M444.5 537.0h.5M436.4 537.6h.5M420.9 536.5h.5M430.9 538.0h.5M436.1 538.1h.5M433.5 537.2h.5M437.1 536.6h.5M420.1 537.3h.5M419.2 537.1h.5M425.8 537.1h.5M432.6 536.8h.5M428.9 536.0h.5M434.4 536.8h.5M436.9 534.9h.5M425.3 537.8h.5M433.9 537.7h.5M418.6 537.8h.5M434.4 536.7h.5M440.2 537.6h.5M433.2 537.2h.5M438.3 537.7h.5M444.0 538.0h.5M427.0 537.4h.5M441.9 537.2h.5M436.7 538.1h.5M431.3 535.4h.5M434.3 537.8h.5M434.3 536.9h.5M444.7 537.5h.5M427.0 536.9h.5M436.5 536.5h.5M423.3 539.5h.5M445.7 538.6h.5M446.2 538.2h.5M445.0 538.1h.5M446.2 537.1h.5M434.2 538.4h.5M432.2 538.7h.5M433.8 538.3h.5M433.8 536.2h.5M423.4 540.7h.5M435.7 538.9h.5M444.0 539.3h.5M438.4 537.0h.5M433.2 535.7h.5M431.2 538.5h.5M441.0 538.9h.5M424.0 537.0h.5M438.2 539.6h.5M421.9 538.9h.5M437.1 537.1h.5M454.3 535.2h.5M432.3 537.8h.5M453.7 539.3h.5M455.0 537.7h.5M442.5 538.9h.5M438.0 537.9h.5M431.2 537.2h.5M421.1 539.5h.5M428.7 535.6h.5M435.6 537.6h.5M434.7 539.4h.5M432.0 537.3h.5M425.7 537.6h.5M428.7 537.8h.5M463.4 538.0h.5M424.7 539.5h.5M441.4 538.4h.5M440.0 538.4h.5M439.6 539.0h.5M442.8 538.9h.5M428.1 537.6h.5" stroke="#808080" stroke-width="0.76" fill="none" stroke-linecap="round"/>
<path d="M446.7 536.6h.5M455.9 528.3h.5M454.4 546.3h.5M458.2 524.5h.5M450.5 534.7h.5M450.8 533.3h.5M457.9 532.9h.5M444.6 535.2h.5M450.4 531.7h.5M447.7 522.9h.5M443.7 528.9h.5M444.8 515.1h.5M457.7 524.2h.5M446.8 534.1h.5M436.9 538.8h.5M446.5 534.9h.5M448.2 532.8h.5M451.6 531.0h.5M440.3 522.4h.5M450.8 539.2h.5M447.8 534.1h.5M451.9 533.8h.5M456.8 522.2h.5M452.6 530.0h.5M449.2 526.0h.5M446.4 525.0h.5M444.6 545.7h.5M460.9 531.1h.5M455.3 525.3h.5M434.7 520.3h.5M451.8 539.4h.5M450.8 525.1h.5M449.6 525.2h.5M442.8 529.6h.5M448.7 526.3h.5M445.8 525.6h.5M452.4 539.1h.5M449.8 544.1h.5M441.5 532.6h.5M444.2 530.1h.5M451.6 534.3h.5M457.6 527.8h.5M443.7 529.9h.5M452.7 526.9h.5M456.2 540.8h.5M442.7 533.1h.5M456.9 519.8h.5M452.2 529.7h.5M442.7 538.7h.5M452.3 528.2h.5M453.6 534.8h.5M455.5 534.4h.5M453.4 524.1h.5M448.5 531.8h.5M434.8 543.5h.5M448.8 524.8h.5M440.4 532.5h.5M451.2 527.6h.5M448.6 525.8h.5M446.6 530.4h.5M447.2 535.0h.5M450.2 531.8h.5M453.4 538.4h.5M454.5 532.3h.5M450.0 526.3h.5M449.0 535.0h.5M452.3 528.7h.5M443.2 522.0h.5M452.9 537.0h.5M453.2 523.0h.5M449.8 532.3h.5M445.6 533.0h.5M449.8 526.1h.5M443.7 535.7h.5M453.1 525.8h.5M445.1 536.2h.5M454.5 529.2h.5M460.3 529.3h.5M444.8 537.4h.5M449.9 533.0h.5M451.2 525.1h.5M444.1 529.9h.5M459.2 525.1h.5M458.9 532.3h.5M444.5 532.6h.5M454.3 525.7h.5M438.6 533.1h.5M444.5 533.6h.5M439.8 530.2h.5M446.3 522.4h.5M449.6 532.0h.5M447.7 524.1h.5M452.2 520.8h.5M454.1 533.9h.5M460.8 536.2h.5M453.1 532.5h.5M451.2 523.3h.5M459.5 534.1h.5M449.3 524.3h.5M459.7 534.1h.5M444.1 534.9h.5M462.1 530.9h.5M453.3 528.6h.5M447.3 537.3h.5M468.9 531.7h.5M450.3 535.6h.5M449.2 535.2h.5M455.8 525.1h.5M444.8 530.6h.5M455.9 532.6h.5M458.2 523.0h.5M453.9 527.4h.5M451.6 532.9h.5M445.3 529.7h.5M444.2 532.5h.5M446.0 528.1h.5M452.3 527.2h.5M457.7 527.3h.5M455.9 532.6h.5M445.0 529.7h.5M446.1 528.9h.5M449.4 541.6h.5M448.6 540.1h.5M453.6 523.4h.5M437.5 534.9h.5M439.4 535.2h.5M457.0 533.3h.5M449.8 529.5h.5M452.5 529.2h.5M447.9 528.8h.5" stroke="#aaa" stroke-width="0.7" fill="none" stroke-linecap="round"/>
<path d="M466.4 520.2h.5M461.1 517.4h.5M453.7 516.2h.5M457.2 527.1h.5M460.6 520.9h.5M462.6 521.7h.5M461.0 525.0h.5M462.2 510.3h.5M449.7 527.6h.5M457.8 535.4h.5M456.9 520.6h.5M468.6 526.5h.5M471.4 526.2h.5M457.1 527.4h.5M453.2 521.1h.5M454.7 522.3h.5M463.8 520.9h.5M460.7 520.8h.5M464.5 508.8h.5M457.1 524.4h.5M451.2 528.9h.5M460.0 530.3h.5M465.0 526.9h.5M457.5 517.7h.5M457.0 521.1h.5M460.2 521.0h.5M479.2 515.0h.5M466.4 521.0h.5M456.9 528.4h.5M458.5 517.1h.5M461.3 522.5h.5M444.6 524.6h.5M451.4 519.5h.5M461.8 525.1h.5M456.5 535.0h.5M461.3 520.2h.5M460.1 522.9h.5M443.6 515.1h.5M449.1 534.5h.5M457.3 522.0h.5M454.7 528.7h.5M458.7 532.6h.5M463.8 532.2h.5M457.7 525.5h.5M455.6 522.6h.5M446.8 520.4h.5M452.1 520.0h.5M466.7 524.9h.5M466.8 528.1h.5M464.7 528.8h.5M454.4 527.8h.5M456.3 520.7h.5M466.6 535.0h.5M451.9 532.7h.5M464.1 519.0h.5M460.3 525.5h.5M461.0 521.6h.5M449.8 523.7h.5M464.3 527.7h.5M463.0 529.3h.5M451.8 523.3h.5M460.8 528.8h.5M459.6 526.2h.5M459.4 534.6h.5M443.8 523.4h.5M475.2 524.7h.5M446.1 524.2h.5M448.8 519.9h.5M460.0 532.6h.5M461.6 527.0h.5M465.4 524.6h.5M452.7 523.0h.5M460.8 522.0h.5M454.0 521.6h.5M448.4 518.1h.5M457.9 521.6h.5M458.8 530.9h.5M460.5 523.3h.5M450.6 517.8h.5M461.0 518.9h.5M461.4 517.8h.5M459.4 523.1h.5M465.2 521.4h.5M456.0 524.8h.5M458.9 532.4h.5M456.8 520.7h.5M456.3 526.0h.5M460.1 527.2h.5M449.2 536.6h.5M470.9 523.3h.5M450.4 524.3h.5M461.3 511.7h.5M458.6 515.7h.5M461.6 530.8h.5M465.5 515.5h.5M467.8 528.3h.5M456.1 526.2h.5M468.7 521.7h.5M458.4 520.5h.5M466.3 512.1h.5M468.1 518.4h.5M464.7 514.9h.5M452.2 520.3h.5M464.1 514.9h.5M462.6 520.1h.5M466.9 521.9h.5M461.8 522.6h.5M470.6 521.6h.5M458.3 534.0h.5M459.0 527.1h.5M453.5 524.6h.5M443.2 524.1h.5M454.1 515.5h.5M449.0 529.5h.5M461.4 515.5h.5M470.7 519.8h.5M456.0 524.8h.5M450.8 514.9h.5M453.5 529.8h.5M464.9 515.1h.5M466.6 523.7h.5M461.9 523.8h.5M461.3 518.2h.5M452.4 519.8h.5M456.0 526.8h.5M450.3 531.9h.5M454.2 520.4h.5M463.2 525.8h.5M456.2 517.8h.5M451.8 515.0h.5M466.2 529.2h.5M471.1 526.1h.5M460.7 527.5h.5M464.9 522.1h.5M460.9 534.9h.5M447.1 516.1h.5M452.0 527.5h.5M466.5 521.7h.5M463.0 523.2h.5M460.5 520.6h.5M458.3 523.5h.5M466.1 535.3h.5M446.3 526.3h.5M458.5 528.6h.5M465.7 527.6h.5M464.0 518.5h.5M447.0 532.3h.5M466.6 518.5h.5M467.2 527.0h.5M442.0 528.3h.5M451.8 529.7h.5M453.9 519.6h.5M448.1 522.4h.5M465.4 519.9h.5M446.0 534.9h.5M470.9 527.2h.5M454.9 517.1h.5M447.5 526.5h.5M467.3 517.9h.5M458.5 522.0h.5M456.8 526.2h.5M472.6 520.1h.5M464.2 529.3h.5M456.6 522.7h.5M449.5 529.2h.5M454.9 520.0h.5M459.0 519.0h.5M451.5 521.9h.5M468.5 522.4h.5M462.1 515.7h.5M445.4 533.1h.5M455.8 515.3h.5M457.8 526.7h.5M446.8 518.8h.5M460.3 518.6h.5M463.9 528.6h.5M461.5 521.2h.5M458.2 520.1h.5M457.6 525.2h.5M456.5 528.7h.5M476.0 520.6h.5M460.8 527.9h.5M462.9 522.2h.5M455.3 528.8h.5M462.7 526.2h.5M453.1 526.9h.5M463.9 522.5h.5M462.9 535.0h.5M445.8 526.7h.5M450.6 516.3h.5M456.9 526.4h.5M458.9 517.3h.5M448.8 520.5h.5M458.6 519.1h.5M448.3 532.8h.5M452.8 522.7h.5M454.8 520.4h.5M458.8 521.9h.5M462.7 517.2h.5M448.4 533.9h.5M458.0 527.6h.5M466.5 526.4h.5M458.7 515.2h.5M447.7 528.7h.5M463.1 526.5h.5M447.3 512.1h.5M451.3 517.2h.5M459.6 518.1h.5M469.2 520.2h.5M454.7 528.1h.5M460.7 518.7h.5M464.1 533.7h.5M450.2 522.2h.5M451.2 513.1h.5M462.8 527.2h.5M465.1 525.8h.5M444.8 523.4h.5M454.0 517.2h.5M451.0 527.6h.5M456.5 534.0h.5M461.7 513.3h.5M464.6 530.2h.5M458.7 517.0h.5M470.5 516.5h.5M457.9 513.3h.5M450.0 514.4h.5M465.9 529.8h.5M455.7 516.2h.5M458.1 525.5h.5M448.1 517.3h.5M457.8 527.3h.5M459.0 525.9h.5M450.0 510.2h.5M460.6 518.6h.5M457.7 521.5h.5M461.8 519.4h.5M468.4 523.7h.5M462.1 526.9h.5M465.6 525.7h.5M446.5 520.1h.5M471.2 526.0h.5M462.3 526.0h.5M454.1 519.9h.5M454.1 529.7h.5M461.0 533.1h.5M461.9 533.7h.5M461.6 517.1h.5M470.4 525.3h.5M466.7 524.7h.5M456.3 524.4h.5M450.8 517.1h.5M452.4 520.7h.5M449.2 522.9h.5M460.6 534.4h.5M471.1 523.2h.5M464.6 522.3h.5M461.2 523.3h.5M454.8 523.9h.5M448.3 525.9h.5M456.5 517.6h.5" stroke="#a2a2a2" stroke-width="0.76" fill="none" stroke-linecap="round"/>
<ellipse cx="459" cy="522.7" rx="9.4" ry="4.8" fill="#cfcfcf" stroke="#6e6e6e" stroke-width="1.6" transform="rotate(-33 459 522.7)"/>
<ellipse cx="459" cy="522.7" rx="11.4" ry="6.8" fill="none" stroke="#b5b5b5" stroke-width="1" transform="rotate(-33 459 522.7)"/>
</g>
<rect x="446.80" y="512.50" width="26.10" height="21.00" fill="none" stroke="#000" stroke-width="1.4"/>
<text transform="translate(453.5 509.9) scale(1.0 1)" font-size="9.80" stroke="#111" stroke-width="0.22">20%</text>
<rect x="417.70" y="574.40" width="78.60" height="79.20" fill="#fff" stroke="#b0b0b0" stroke-width="1.0"/>
<line x1="417.7" y1="590.24" x2="419.3" y2="590.24" stroke="#888" stroke-width="0.7"/>
<line x1="433.41999999999996" y1="653.6" x2="433.41999999999996" y2="652.0" stroke="#888" stroke-width="0.7"/>
<line x1="417.7" y1="606.0799999999999" x2="419.3" y2="606.0799999999999" stroke="#888" stroke-width="0.7"/>
<line x1="449.14" y1="653.6" x2="449.14" y2="652.0" stroke="#888" stroke-width="0.7"/>
<line x1="417.7" y1="621.92" x2="419.3" y2="621.92" stroke="#888" stroke-width="0.7"/>
<line x1="464.86" y1="653.6" x2="464.86" y2="652.0" stroke="#888" stroke-width="0.7"/>
<line x1="417.7" y1="637.76" x2="419.3" y2="637.76" stroke="#888" stroke-width="0.7"/>
<line x1="480.58" y1="653.6" x2="480.58" y2="652.0" stroke="#888" stroke-width="0.7"/>
<g filter="url(#soft)">
<rect x="418.4" y="627.9" width="30.5" height="25" fill="#cdcdcd"/>
<path d="M428.4 632.0h.5M430.4 634.5h.5M423.7 646.8h.5M434.0 638.7h.5M423.8 645.9h.5M423.8 634.1h.5M435.4 645.8h.5M448.6 647.1h.5M447.8 651.7h.5M440.6 646.3h.5M419.5 632.5h.5M440.6 643.9h.5M425.9 636.5h.5M422.7 644.0h.5M449.2 635.2h.5M418.9 631.6h.5M428.9 651.2h.5M443.2 639.2h.5M420.8 629.8h.5M422.4 647.9h.5M446.7 648.4h.5M432.7 649.1h.5M421.6 629.8h.5M435.5 640.6h.5M424.2 633.7h.5M440.2 652.4h.5M448.9 638.7h.5M440.9 637.3h.5M443.5 649.6h.5M421.8 627.2h.5M424.3 642.7h.5M429.6 627.1h.5M444.1 648.1h.5M432.3 628.1h.5M445.9 641.3h.5M419.8 635.6h.5M437.5 650.8h.5M433.0 644.2h.5M424.1 633.5h.5M446.5 637.2h.5M420.8 642.9h.5M421.5 632.3h.5M432.1 642.7h.5M437.9 646.0h.5M431.6 628.7h.5M440.7 628.4h.5M432.6 637.7h.5M439.0 646.2h.5M425.2 644.4h.5M439.6 639.6h.5M422.0 651.4h.5M436.7 628.6h.5M424.8 637.5h.5M442.7 649.1h.5M437.8 646.9h.5M418.7 629.4h.5M448.7 648.6h.5M418.7 628.2h.5M425.2 652.0h.5M424.5 645.0h.5M447.3 644.1h.5M446.9 634.0h.5M422.4 627.4h.5M441.7 629.7h.5M448.6 646.1h.5M423.5 648.7h.5M422.7 640.7h.5M420.9 648.1h.5M446.0 651.6h.5M435.3 649.1h.5M433.6 643.6h.5M436.5 648.5h.5M420.0 628.4h.5M435.0 634.8h.5M430.2 627.1h.5M441.3 627.5h.5M444.0 648.8h.5M432.2 630.2h.5M438.3 632.5h.5M431.2 629.9h.5M448.7 641.6h.5M428.8 629.4h.5M440.9 649.8h.5M444.6 629.6h.5M429.3 635.1h.5M441.9 630.9h.5M442.1 627.1h.5M419.9 630.0h.5M439.7 643.1h.5M434.1 639.2h.5M430.5 643.4h.5M438.3 651.6h.5M440.9 648.4h.5M446.7 649.5h.5M440.4 627.7h.5M439.3 649.8h.5M431.3 650.6h.5M423.3 652.4h.5M431.6 646.0h.5M425.6 635.0h.5M428.7 635.7h.5M420.5 638.9h.5M448.9 644.6h.5M447.3 647.5h.5M441.6 634.3h.5M425.5 638.0h.5M445.9 651.8h.5M428.0 647.7h.5M442.3 650.9h.5M442.9 641.3h.5M420.9 649.2h.5M427.5 643.8h.5M429.2 641.4h.5M448.4 631.3h.5M434.5 644.4h.5M434.7 652.2h.5M430.5 651.6h.5M420.4 632.6h.5M426.7 651.4h.5M423.1 638.7h.5M439.5 645.5h.5M441.4 647.2h.5M425.5 633.8h.5M424.2 633.9h.5M448.4 644.3h.5M436.4 644.6h.5M436.6 645.7h.5M427.2 628.6h.5M419.6 627.3h.5M429.1 630.7h.5M421.1 640.2h.5M448.5 645.5h.5M426.3 647.7h.5M423.2 629.6h.5M427.2 637.9h.5M439.6 638.9h.5M440.8 629.5h.5M447.3 636.1h.5M444.1 627.7h.5M444.0 633.0h.5M444.9 648.6h.5M439.0 634.4h.5M446.5 631.2h.5M438.6 642.7h.5M438.7 631.8h.5M422.1 629.5h.5M448.9 637.2h.5M438.4 642.3h.5M424.6 628.6h.5M421.7 652.9h.5M429.1 646.4h.5M421.9 648.2h.5M425.6 636.8h.5M434.2 629.9h.5M425.4 648.4h.5M426.6 637.2h.5M442.0 632.9h.5M423.7 632.8h.5M429.8 636.8h.5M438.0 639.6h.5M445.3 628.3h.5M438.7 649.5h.5M425.0 627.7h.5M431.5 630.0h.5M432.2 646.1h.5M420.5 630.1h.5M432.8 631.6h.5M424.9 638.8h.5M421.3 628.7h.5M429.1 639.6h.5M447.5 641.9h.5M419.8 632.9h.5M441.3 642.1h.5M445.3 652.9h.5M445.0 629.9h.5M447.7 641.1h.5M425.2 631.5h.5M445.2 632.6h.5M420.2 634.1h.5M447.1 639.3h.5M440.9 628.9h.5M432.0 635.5h.5M424.1 644.8h.5M429.1 630.1h.5M449.0 639.9h.5M423.3 627.2h.5M438.4 640.8h.5M441.2 641.4h.5M425.0 640.4h.5M436.9 644.5h.5M422.1 648.6h.5M447.8 646.9h.5M444.9 636.8h.5M446.4 631.8h.5M424.8 643.0h.5M446.4 629.1h.5M424.4 627.9h.5M431.5 630.7h.5M423.6 647.1h.5M436.2 652.3h.5M430.4 645.2h.5M425.0 639.8h.5M433.9 652.5h.5M437.4 632.7h.5M444.2 632.4h.5M449.5 639.2h.5M424.7 652.9h.5M427.8 637.9h.5M428.5 645.0h.5M422.7 649.3h.5M425.8 639.2h.5M435.5 646.1h.5M421.9 633.4h.5M421.4 652.8h.5M422.3 630.6h.5M434.2 642.6h.5M445.9 628.4h.5M425.0 631.4h.5M436.2 639.1h.5M430.6 650.9h.5M438.7 650.1h.5M448.1 634.2h.5M447.6 637.9h.5M419.2 651.6h.5M420.8 627.4h.5M426.8 634.7h.5M448.4 650.4h.5M430.9 641.2h.5M444.7 648.7h.5M438.4 640.7h.5M421.2 633.5h.5M438.6 642.7h.5M443.1 651.2h.5M448.3 632.1h.5M419.9 651.1h.5M435.8 631.8h.5M439.6 633.8h.5M425.1 636.8h.5M434.3 645.2h.5M419.8 646.9h.5M437.5 639.6h.5M439.0 648.5h.5M439.2 646.0h.5M438.2 631.8h.5M448.2 648.1h.5M425.0 638.5h.5M448.2 632.5h.5M430.6 652.9h.5M446.3 633.2h.5M441.0 636.6h.5M438.7 647.6h.5M421.6 632.9h.5M424.4 634.1h.5M418.6 630.6h.5M430.5 638.3h.5M420.0 642.6h.5M447.7 642.5h.5M428.9 645.9h.5M431.5 631.6h.5M432.9 627.4h.5M439.1 631.2h.5M429.3 652.9h.5M442.0 649.5h.5M438.0 644.0h.5M440.1 653.0h.5M423.8 647.6h.5M427.1 633.8h.5M443.8 643.1h.5M444.7 650.5h.5M436.3 632.3h.5M440.7 634.3h.5M419.7 627.0h.5M423.0 645.7h.5M426.0 646.1h.5M449.1 627.4h.5M421.2 652.1h.5M448.5 630.9h.5M428.2 641.0h.5M427.7 638.2h.5M432.8 633.9h.5M419.3 629.2h.5M422.7 629.4h.5M437.5 645.7h.5M425.9 648.3h.5M440.8 636.1h.5M433.2 632.0h.5M447.2 642.0h.5M419.1 631.1h.5M439.7 637.3h.5M440.4 633.1h.5M443.0 648.6h.5M420.5 642.7h.5M423.6 646.0h.5M443.2 648.3h.5M424.9 629.4h.5M438.7 642.2h.5M421.9 632.1h.5M436.1 629.8h.5M437.8 633.4h.5M425.8 638.3h.5M434.6 646.5h.5M418.5 646.5h.5M424.6 634.8h.5M438.0 645.6h.5M437.2 651.2h.5M424.0 635.3h.5M438.7 633.9h.5M422.5 633.0h.5M442.2 649.2h.5M440.4 652.8h.5M442.9 635.3h.5M427.6 646.4h.5M419.3 643.3h.5M420.4 628.2h.5M433.9 631.0h.5M447.3 650.6h.5M432.3 632.2h.5M421.3 640.6h.5M434.2 636.7h.5M440.4 641.2h.5M442.3 629.8h.5M419.7 637.3h.5M433.0 633.7h.5M438.9 632.9h.5M427.7 639.8h.5M440.3 647.7h.5M429.4 639.0h.5M447.2 652.1h.5M437.3 629.7h.5M432.1 644.1h.5M426.4 627.9h.5M448.9 651.5h.5M421.6 639.5h.5M437.3 635.0h.5M419.7 647.2h.5M442.2 638.7h.5M420.2 637.5h.5M420.5 652.9h.5M419.1 634.7h.5M442.1 630.5h.5M420.9 628.8h.5M422.7 641.3h.5M444.2 631.5h.5M423.1 647.6h.5M431.1 636.0h.5M421.4 633.5h.5M448.6 630.1h.5M425.8 646.9h.5M446.0 651.3h.5M432.6 652.7h.5M436.8 634.7h.5M432.4 646.2h.5M441.0 630.4h.5M423.7 652.8h.5M420.9 648.9h.5M428.3 633.6h.5M425.7 639.6h.5M449.2 630.9h.5M444.8 635.6h.5M423.0 647.0h.5M428.4 632.0h.5M430.9 649.1h.5M445.1 642.4h.5M436.9 651.2h.5M448.0 635.7h.5M444.7 649.0h.5M426.0 636.8h.5M429.5 636.4h.5M429.6 629.9h.5M424.8 651.5h.5M430.6 644.1h.5M445.9 647.3h.5M425.3 651.7h.5M440.8 647.3h.5M443.5 633.7h.5M438.5 637.2h.5M444.4 630.5h.5M434.8 636.0h.5M443.8 636.2h.5M444.5 649.8h.5M445.6 630.7h.5M447.5 647.0h.5M439.2 644.5h.5M419.0 650.4h.5M435.0 639.2h.5M428.4 648.0h.5M442.5 650.4h.5M424.4 636.1h.5M425.5 629.6h.5M428.0 627.6h.5M443.0 633.0h.5M419.8 628.7h.5M441.2 632.3h.5M432.3 637.7h.5M443.2 652.7h.5M427.4 644.0h.5M446.1 639.6h.5M446.3 646.7h.5M427.5 650.5h.5M435.8 629.8h.5M436.3 649.3h.5M434.1 640.0h.5M430.8 650.7h.5M438.8 632.5h.5M429.1 636.7h.5M448.2 645.7h.5M421.5 651.6h.5M418.6 642.9h.5M431.3 646.3h.5M431.2 629.4h.5M434.3 649.1h.5M442.7 636.5h.5M424.6 647.0h.5M443.2 632.8h.5M431.4 637.2h.5M440.2 652.0h.5M424.0 635.0h.5M428.0 646.7h.5M423.5 641.7h.5M433.5 644.9h.5M422.1 652.7h.5M449.5 642.0h.5M442.9 631.9h.5M446.6 641.8h.5M441.8 650.3h.5M429.1 651.8h.5M424.1 627.5h.5M433.6 651.2h.5M446.3 652.7h.5M433.8 652.1h.5M435.4 630.8h.5M437.7 648.6h.5M431.1 643.2h.5M425.8 634.4h.5M430.9 640.8h.5M432.5 629.4h.5M440.4 647.1h.5M425.1 633.8h.5M434.0 631.6h.5M436.8 651.3h.5M424.0 642.7h.5M440.6 647.1h.5M440.3 646.1h.5M426.2 649.5h.5M447.1 628.3h.5M447.7 638.9h.5M420.3 628.8h.5M443.0 645.2h.5M422.0 639.3h.5M428.3 647.6h.5M425.3 632.3h.5M422.7 638.0h.5M437.3 635.1h.5M422.7 632.8h.5M420.2 632.1h.5M427.6 640.5h.5M423.4 639.9h.5M433.1 652.4h.5M432.6 632.2h.5M436.4 630.8h.5M422.9 628.9h.5M430.4 636.5h.5M431.1 636.4h.5M439.6 637.5h.5M422.4 650.2h.5M435.8 627.1h.5M444.7 646.6h.5M428.8 643.9h.5M446.9 637.7h.5M431.3 635.0h.5M435.2 644.8h.5M441.0 652.5h.5M422.2 636.8h.5M444.8 648.3h.5M436.4 645.2h.5M428.4 652.4h.5M435.1 637.8h.5M423.3 630.0h.5M446.2 648.5h.5M432.8 640.3h.5M429.1 651.1h.5M428.7 641.3h.5M447.2 644.2h.5M432.8 635.9h.5M429.9 643.3h.5M442.7 633.9h.5M429.4 637.4h.5M429.1 651.6h.5M434.7 634.3h.5M428.1 649.1h.5M422.6 645.5h.5M419.4 648.7h.5M422.2 633.1h.5M419.3 634.0h.5M441.0 646.3h.5M446.6 652.5h.5M435.1 651.8h.5M420.4 651.9h.5M431.4 632.1h.5M441.4 650.1h.5M429.8 629.4h.5M445.4 647.2h.5M418.7 628.4h.5M421.5 627.5h.5M440.2 643.9h.5M421.1 631.3h.5M423.3 643.3h.5M431.4 637.5h.5M425.6 633.2h.5M440.1 631.6h.5M423.3 631.0h.5M428.7 646.8h.5M419.4 641.2h.5M439.3 627.8h.5M431.6 648.3h.5M435.9 639.1h.5M445.7 643.1h.5M428.3 637.6h.5M447.7 650.1h.5M446.8 642.0h.5M422.1 631.6h.5M429.8 645.5h.5M442.7 640.8h.5M430.8 645.0h.5M435.7 646.6h.5M430.6 652.8h.5M448.1 652.0h.5M437.2 635.4h.5M429.6 634.2h.5M446.4 648.3h.5M442.7 649.1h.5M449.2 645.5h.5M427.7 647.4h.5M425.9 643.4h.5M422.6 650.1h.5M433.1 634.3h.5M447.0 629.1h.5M447.3 647.3h.5M422.3 647.4h.5M435.8 651.4h.5M436.3 638.4h.5M447.4 629.3h.5M442.4 629.7h.5M426.4 630.0h.5M445.4 638.8h.5M440.7 633.8h.5M440.9 644.4h.5M420.6 640.2h.5M440.6 632.7h.5M438.4 634.4h.5M429.4 651.7h.5M431.2 642.3h.5M443.4 647.4h.5M432.1 650.2h.5M430.3 652.6h.5M432.6 630.1h.5M441.5 630.8h.5M439.2 628.3h.5M449.1 641.5h.5M441.2 630.4h.5M437.9 637.1h.5M425.5 648.9h.5" stroke="#a4a4a4" stroke-width="0.84" fill="none" stroke-linecap="round"/>
<path d="M452.5 639.0h.5M459.7 647.6h.5M440.7 634.6h.5M423.7 639.1h.5M433.9 619.0h.5M440.8 641.9h.5M440.6 631.3h.5M444.0 648.3h.5M434.0 642.0h.5M451.3 631.1h.5M440.2 628.3h.5M445.8 632.3h.5M452.9 628.0h.5M460.0 633.0h.5M427.1 626.5h.5M446.6 627.0h.5M461.5 650.5h.5M444.7 620.8h.5M437.7 628.4h.5M466.6 630.5h.5M448.5 650.5h.5M425.5 632.7h.5M441.5 641.6h.5M423.1 638.8h.5M436.6 646.9h.5M431.5 632.9h.5M447.4 629.5h.5M473.6 628.6h.5M448.9 647.6h.5M450.5 634.2h.5M427.2 633.6h.5M446.7 637.7h.5M445.6 642.7h.5M426.5 626.1h.5M456.7 631.1h.5M427.2 626.1h.5M450.6 624.0h.5M426.7 647.9h.5M439.7 637.0h.5M429.7 634.0h.5M431.5 636.1h.5M448.0 622.4h.5M426.1 613.4h.5M457.6 635.6h.5M437.8 635.8h.5M451.1 639.9h.5M449.1 634.6h.5M436.4 635.8h.5M446.7 637.0h.5M462.2 651.6h.5M426.6 635.5h.5M451.0 634.1h.5M436.4 632.5h.5M455.7 609.3h.5M454.5 648.1h.5M437.1 642.6h.5M425.4 648.6h.5M477.8 626.3h.5M456.2 635.8h.5M433.6 631.0h.5M435.5 622.6h.5M437.8 642.5h.5M442.0 641.6h.5M446.2 647.4h.5M423.1 630.0h.5M424.1 643.6h.5M442.5 636.8h.5M429.6 640.2h.5M438.4 628.2h.5M442.3 629.1h.5M450.4 643.3h.5M429.1 642.9h.5M438.9 628.6h.5M426.1 618.1h.5M423.3 640.2h.5M453.7 629.5h.5M440.1 640.2h.5M448.1 641.3h.5M454.0 644.8h.5M428.1 640.8h.5M438.3 642.8h.5M434.1 645.6h.5M455.2 627.2h.5M430.9 639.3h.5M444.4 638.0h.5M448.8 623.4h.5M448.1 649.2h.5M452.4 641.1h.5M434.9 640.8h.5M437.0 618.9h.5M430.1 636.0h.5M431.3 626.1h.5M435.0 632.3h.5M438.9 635.9h.5M440.2 647.3h.5M439.8 640.9h.5M432.8 643.9h.5M433.6 629.5h.5M421.9 646.2h.5M431.1 639.1h.5M452.7 642.3h.5M467.2 634.9h.5M450.4 644.0h.5M429.5 636.9h.5M430.7 625.1h.5M441.9 627.9h.5M459.8 628.3h.5M430.9 637.4h.5M431.3 637.0h.5M430.1 620.8h.5M457.8 641.3h.5M440.0 631.3h.5M436.1 639.7h.5M419.9 627.6h.5M426.4 650.2h.5M424.3 649.3h.5M437.0 636.8h.5M455.6 646.0h.5M450.2 624.6h.5M436.7 631.1h.5M423.8 647.6h.5M441.8 636.5h.5M449.4 636.2h.5M457.2 625.9h.5M449.5 625.4h.5M456.3 633.4h.5M453.9 631.8h.5M443.2 649.0h.5M426.3 637.5h.5M427.1 645.8h.5M430.2 632.3h.5M435.4 649.2h.5M424.5 636.1h.5M433.7 630.4h.5M427.8 634.6h.5M440.5 619.4h.5M441.0 623.4h.5M425.4 635.7h.5M434.7 647.2h.5M431.8 616.8h.5M441.3 648.1h.5M431.0 643.7h.5M424.2 650.6h.5M437.1 628.9h.5M427.0 622.8h.5M424.8 623.7h.5M437.3 640.3h.5M435.9 638.6h.5M453.4 633.2h.5M421.7 611.3h.5M441.1 628.9h.5M434.8 640.9h.5M444.0 619.2h.5M425.6 637.2h.5M436.1 649.0h.5M431.5 613.7h.5M453.2 618.4h.5M425.4 640.7h.5M441.1 642.3h.5M445.0 628.5h.5M454.3 617.8h.5M430.4 639.6h.5M439.8 625.9h.5M458.5 652.6h.5M425.8 640.5h.5M429.8 631.6h.5M450.8 637.8h.5M436.6 637.5h.5M422.8 649.8h.5M428.2 650.8h.5M432.0 631.4h.5M457.3 638.5h.5M429.7 630.5h.5M446.0 632.1h.5M423.4 629.0h.5M436.5 639.1h.5M429.5 650.5h.5M425.6 628.5h.5M444.5 641.7h.5M432.9 647.0h.5M438.7 651.0h.5M435.4 638.5h.5M444.8 617.2h.5M450.0 640.0h.5M440.5 651.7h.5M442.4 615.6h.5M425.7 633.1h.5M439.9 631.5h.5M450.2 643.0h.5M438.2 637.1h.5M442.7 639.1h.5M428.6 645.0h.5M427.3 636.0h.5M433.3 623.7h.5M445.9 635.6h.5M422.9 635.5h.5M420.1 652.2h.5M430.6 644.2h.5M425.4 627.0h.5M436.8 640.9h.5M450.0 633.5h.5M452.3 647.0h.5M426.7 634.4h.5M430.9 646.1h.5M449.9 633.6h.5M431.7 640.2h.5M428.0 622.5h.5M425.5 640.1h.5M423.1 649.1h.5M447.0 637.8h.5M457.1 632.3h.5M431.1 624.9h.5M429.5 637.7h.5M446.7 650.4h.5M434.5 628.4h.5M433.7 631.7h.5M432.0 632.0h.5M426.7 635.8h.5M431.4 634.6h.5M420.1 638.0h.5M445.4 643.5h.5M430.9 623.9h.5M421.2 623.6h.5M429.7 633.0h.5M428.7 645.5h.5M461.7 632.5h.5M434.5 632.1h.5M435.4 634.6h.5M469.8 624.5h.5M436.6 627.8h.5M442.6 630.7h.5M445.4 624.6h.5M465.2 638.7h.5M432.0 623.8h.5M443.7 630.8h.5M447.5 630.4h.5M449.6 638.0h.5M442.6 638.1h.5M433.3 632.5h.5M443.8 644.1h.5M459.8 624.0h.5M452.0 635.6h.5M441.0 627.8h.5M459.2 627.5h.5M437.0 628.5h.5M462.8 650.0h.5M421.1 631.5h.5M442.7 631.7h.5M433.5 624.7h.5M441.2 624.6h.5M442.8 629.2h.5M433.6 626.0h.5M439.5 644.0h.5M449.9 633.4h.5M422.7 635.6h.5M459.5 639.5h.5M437.2 613.9h.5M432.4 642.3h.5M425.9 651.0h.5M430.7 627.0h.5M430.6 635.4h.5M450.8 630.3h.5M423.6 652.4h.5M446.7 641.3h.5M428.2 626.9h.5M425.8 646.5h.5M440.8 648.0h.5M461.3 636.6h.5M421.3 631.6h.5M433.3 632.3h.5M439.8 627.4h.5M452.9 621.7h.5M427.6 618.2h.5M420.1 642.8h.5M446.0 634.3h.5M448.8 643.1h.5M430.6 636.0h.5M432.4 640.4h.5M445.0 649.6h.5M443.4 648.0h.5M424.4 633.6h.5M467.8 639.1h.5M439.1 639.3h.5M439.9 622.2h.5M429.1 634.6h.5M440.2 627.2h.5M436.6 628.6h.5M421.1 629.4h.5M427.7 645.5h.5M455.1 642.7h.5M435.3 630.5h.5M458.0 648.9h.5M440.9 633.8h.5M438.1 641.0h.5M437.9 641.1h.5M428.2 637.0h.5M433.5 648.0h.5M422.2 650.4h.5M436.9 631.1h.5M438.3 637.8h.5M435.0 641.0h.5M430.6 618.3h.5M446.9 636.2h.5M459.3 640.6h.5M429.2 642.4h.5M466.4 648.2h.5M424.0 635.5h.5M445.2 625.5h.5M443.8 646.5h.5M448.3 629.3h.5M429.2 624.5h.5M421.5 639.9h.5M438.5 650.4h.5M441.5 633.0h.5M440.1 636.2h.5M425.2 625.3h.5M446.1 626.1h.5M445.5 643.2h.5M433.1 619.1h.5M443.3 651.5h.5M427.5 623.0h.5M451.9 638.0h.5M430.0 649.6h.5M434.5 641.3h.5M432.9 628.5h.5M440.8 627.3h.5M453.8 648.2h.5M465.8 647.1h.5M458.6 639.2h.5" stroke="#aaaaaa" stroke-width="0.76" fill="none" stroke-linecap="round"/>
<rect x="446.3" y="628.4" width="3.2" height="24.5" fill="#858585" opacity="0.7"/>
<rect x="418.4" y="626.6" width="31" height="2.6" fill="#767676" opacity="0.75"/>
<path d="M449.7 641.5h.5M448.8 644.4h.5M449.7 639.3h.5M449.0 635.1h.5M452.2 634.2h.5M449.3 639.5h.5M452.1 634.5h.5M448.4 619.9h.5M448.1 647.9h.5M450.3 641.6h.5M452.4 639.5h.5M451.4 631.1h.5M447.7 643.2h.5M450.3 642.6h.5M448.6 635.0h.5M454.1 627.6h.5M450.7 650.5h.5M450.1 637.9h.5M446.7 644.8h.5M449.7 650.2h.5M450.3 632.6h.5M451.3 634.0h.5M449.6 652.9h.5M452.2 637.7h.5M451.9 645.3h.5M451.5 637.0h.5M450.6 640.9h.5M451.5 640.3h.5M449.5 635.7h.5M451.3 626.1h.5M450.5 644.6h.5M450.8 633.5h.5M450.5 631.4h.5M452.2 632.6h.5M447.6 623.8h.5M451.0 638.8h.5M449.7 622.7h.5M450.2 627.7h.5M449.3 636.5h.5M449.1 639.8h.5M449.2 631.6h.5M450.1 652.0h.5M453.3 646.5h.5M449.2 636.6h.5M452.1 645.1h.5M447.6 636.0h.5M449.2 644.5h.5M451.6 630.9h.5M454.3 633.6h.5M454.8 634.8h.5M449.6 631.6h.5M453.1 636.2h.5M451.3 623.3h.5M453.7 646.9h.5M451.1 644.0h.5M449.6 631.6h.5M447.7 640.5h.5M452.7 645.6h.5M452.1 644.0h.5M448.9 622.9h.5M451.6 638.3h.5M452.2 633.7h.5M448.9 641.2h.5M449.5 619.4h.5M449.4 627.4h.5M448.5 630.8h.5M453.5 632.2h.5M452.5 635.8h.5M451.2 629.5h.5M450.4 619.0h.5M453.7 628.6h.5M451.5 630.4h.5M451.0 624.3h.5M449.8 646.1h.5M451.5 616.2h.5M452.0 622.8h.5M451.0 642.0h.5M449.4 633.3h.5M450.1 640.8h.5M452.1 650.8h.5M450.0 644.6h.5M450.3 637.5h.5M448.9 640.6h.5M454.1 638.1h.5M450.5 636.6h.5M451.8 634.4h.5M450.5 638.8h.5M452.8 646.5h.5M448.6 630.0h.5M450.5 645.4h.5M452.2 634.4h.5M454.2 634.9h.5M453.0 651.5h.5M453.3 638.7h.5M451.5 620.6h.5M447.4 630.2h.5M451.8 647.7h.5M450.3 647.4h.5M451.5 652.5h.5M447.7 627.9h.5M448.8 625.7h.5M453.4 626.9h.5M449.0 632.4h.5M452.1 631.8h.5M451.8 642.3h.5M449.4 611.9h.5M448.9 623.5h.5M453.4 629.1h.5M448.6 640.5h.5M450.6 626.8h.5M452.4 646.1h.5M451.0 628.7h.5M449.0 615.2h.5M451.2 640.7h.5M448.9 636.8h.5M456.3 624.8h.5M447.5 642.9h.5M449.7 631.4h.5M451.6 635.2h.5M452.3 641.9h.5M452.5 637.8h.5M446.7 650.7h.5M447.5 647.5h.5M450.9 622.0h.5M450.6 645.8h.5M448.7 637.0h.5M449.2 626.1h.5M449.4 649.9h.5M451.7 636.2h.5M450.4 637.9h.5M451.0 638.5h.5M447.5 646.2h.5M451.7 623.9h.5M450.2 635.6h.5M449.5 642.1h.5M450.0 633.6h.5M448.8 633.6h.5M448.7 637.0h.5M452.8 647.1h.5M451.3 622.3h.5M452.3 646.3h.5M454.1 613.0h.5M450.5 633.0h.5M452.4 625.2h.5M452.3 615.7h.5M450.5 650.8h.5M449.4 642.8h.5M450.7 621.2h.5M449.4 648.4h.5M452.6 630.2h.5M452.5 629.1h.5M450.9 636.3h.5M448.3 639.9h.5M449.0 627.6h.5M449.0 626.3h.5M449.3 610.8h.5M452.1 637.2h.5M451.0 633.7h.5M450.6 633.7h.5M448.6 620.6h.5M450.6 647.1h.5M448.1 633.7h.5M449.4 649.4h.5M453.5 631.0h.5M451.8 633.9h.5M448.7 635.3h.5M448.7 652.7h.5M451.5 648.9h.5M451.1 610.9h.5M451.9 637.4h.5M446.3 637.5h.5M448.7 644.7h.5M451.1 634.6h.5M450.0 642.0h.5M451.5 643.4h.5M449.8 622.6h.5M452.8 650.1h.5M449.5 636.1h.5M451.9 618.0h.5M451.0 629.0h.5M454.1 636.5h.5M450.9 632.0h.5M450.8 617.6h.5M448.2 620.9h.5M452.1 635.5h.5M452.5 615.0h.5M449.4 651.8h.5M449.1 616.8h.5M449.2 632.8h.5M450.5 650.2h.5M452.9 652.8h.5M451.5 631.1h.5M449.6 620.8h.5M452.8 649.6h.5M450.7 627.0h.5M451.7 641.6h.5M450.8 624.2h.5M450.9 630.5h.5M451.8 642.7h.5M451.3 631.9h.5M453.2 644.6h.5M452.7 645.3h.5M451.7 640.5h.5M448.6 617.2h.5M448.8 642.9h.5M452.1 638.3h.5M449.8 617.6h.5M447.8 633.0h.5M451.7 644.2h.5M450.1 645.0h.5M450.4 628.8h.5M449.8 644.4h.5M452.2 624.6h.5M448.8 637.7h.5M454.3 624.1h.5M448.3 640.8h.5M451.4 630.0h.5M450.5 641.5h.5M447.4 636.2h.5M451.6 646.1h.5M452.6 635.7h.5M448.0 650.6h.5M451.9 629.7h.5M452.3 647.4h.5M450.3 611.5h.5M449.7 628.4h.5M449.0 635.5h.5M448.6 640.5h.5M453.8 623.9h.5M452.3 630.8h.5M451.5 635.1h.5M452.8 628.9h.5M451.8 628.2h.5M450.9 636.3h.5M452.4 619.8h.5M448.1 651.1h.5M448.7 638.6h.5M450.4 631.7h.5M451.8 635.3h.5M449.2 644.4h.5M447.1 625.7h.5M452.9 631.1h.5M449.9 640.3h.5M452.5 642.0h.5M448.8 630.4h.5M452.3 635.1h.5M449.4 645.6h.5" stroke="#8a8a8a" stroke-width="0.76" fill="none" stroke-linecap="round"/>
<rect x="418.3" y="628.4" width="1.6" height="24.5" fill="#8a8a8a" opacity="0.6"/>
<path d="M444.2 629.1h.5M422.5 626.3h.5M426.2 627.3h.5M428.3 628.1h.5M426.7 626.7h.5M438.6 627.2h.5M423.1 628.4h.5M438.6 626.5h.5M435.0 625.9h.5M421.0 626.7h.5M436.6 627.1h.5M425.4 625.7h.5M436.6 626.2h.5M444.6 627.5h.5M429.0 626.4h.5M444.1 627.3h.5M449.0 627.3h.5M427.3 626.4h.5M426.1 627.2h.5M435.5 627.6h.5M437.4 626.0h.5M431.0 626.1h.5M437.7 625.7h.5M427.3 626.2h.5M427.0 626.8h.5M447.7 626.8h.5M419.0 626.7h.5M440.3 627.5h.5M435.3 628.9h.5M443.8 627.1h.5M444.8 625.7h.5M431.4 626.2h.5M434.7 628.6h.5M428.2 628.5h.5M423.1 628.4h.5M442.7 626.9h.5M434.4 627.0h.5M434.8 626.8h.5M423.5 626.7h.5M434.1 626.1h.5M437.5 628.7h.5M430.3 627.0h.5M433.9 626.3h.5M432.7 627.0h.5M432.2 628.5h.5M434.3 625.6h.5M429.7 626.4h.5M419.8 626.7h.5M432.1 626.3h.5M429.6 627.9h.5M440.6 627.5h.5M431.3 625.7h.5M440.5 628.4h.5M445.4 628.1h.5M435.7 627.4h.5M432.9 628.2h.5M430.4 629.1h.5M440.6 626.7h.5M433.0 625.5h.5M425.9 626.7h.5M456.8 626.2h.5M441.9 627.1h.5M430.1 627.6h.5M451.8 627.3h.5M432.4 627.2h.5M439.4 626.5h.5M434.2 627.5h.5M429.6 627.4h.5M436.2 627.7h.5M423.4 626.5h.5M428.9 628.1h.5M435.4 625.4h.5M420.6 628.9h.5M436.3 625.8h.5M424.2 627.1h.5M446.9 628.6h.5M429.5 626.7h.5M451.6 626.1h.5M448.2 627.3h.5M433.9 628.2h.5M437.7 626.2h.5M438.0 628.3h.5M439.0 628.5h.5M440.7 627.2h.5M437.2 627.4h.5M426.9 626.9h.5M434.2 626.6h.5M418.8 625.6h.5M437.9 627.5h.5M434.1 625.9h.5M441.3 626.6h.5M418.5 629.2h.5M438.2 626.6h.5M447.4 628.3h.5M435.5 625.4h.5M429.3 626.7h.5M437.5 626.9h.5M436.4 625.4h.5M426.8 628.4h.5M418.9 627.9h.5M455.4 627.6h.5M419.5 628.2h.5M429.0 628.2h.5M444.4 627.2h.5M450.4 627.9h.5M428.4 626.1h.5M456.9 626.6h.5M437.0 626.9h.5M428.4 625.5h.5M431.6 626.9h.5M442.5 626.5h.5M432.6 627.2h.5M440.0 626.6h.5M438.2 627.1h.5M449.4 626.9h.5M434.4 627.5h.5M444.8 626.1h.5M428.4 626.7h.5M443.4 627.0h.5M465.7 628.2h.5M452.6 628.5h.5M441.8 625.6h.5M447.9 627.4h.5M421.4 627.1h.5M440.3 627.9h.5M434.7 626.5h.5M440.4 626.3h.5M432.3 627.7h.5M419.0 627.4h.5M421.0 626.9h.5M439.9 627.0h.5M441.9 627.1h.5M431.0 627.5h.5M430.7 627.1h.5M443.1 626.5h.5M444.2 625.9h.5M430.9 625.3h.5M427.8 628.5h.5M436.5 628.2h.5M418.7 626.0h.5M437.5 627.8h.5M441.1 625.4h.5M438.0 626.9h.5M434.2 627.5h.5M430.3 625.4h.5M422.6 625.6h.5" stroke="#808080" stroke-width="0.76" fill="none" stroke-linecap="round"/>
<path d="M443.3 619.6h.5M458.6 616.3h.5M446.5 613.8h.5M440.9 620.8h.5M448.2 619.0h.5M445.4 623.2h.5M444.0 623.6h.5M447.1 625.0h.5M445.8 623.0h.5M453.6 619.9h.5M460.5 621.4h.5M445.8 624.4h.5M446.2 617.3h.5M451.1 621.5h.5M461.0 610.3h.5M449.5 626.9h.5M450.1 622.3h.5M459.9 613.3h.5M451.3 625.0h.5M447.6 610.3h.5M445.2 621.5h.5M452.1 631.1h.5M458.8 611.4h.5M457.1 625.7h.5M460.5 619.5h.5M447.7 621.3h.5M460.0 624.0h.5M460.9 625.0h.5M447.6 614.5h.5M461.8 611.6h.5M449.0 618.6h.5M445.7 617.1h.5M451.0 634.2h.5M450.6 617.4h.5M451.7 625.8h.5M446.2 618.0h.5M440.8 624.5h.5M455.0 629.1h.5M444.0 633.0h.5M456.1 618.8h.5M448.7 618.6h.5M443.9 624.9h.5M447.4 616.2h.5M454.0 621.1h.5M447.6 619.0h.5M448.1 628.2h.5M456.9 616.2h.5M450.8 628.4h.5M449.3 630.7h.5M453.6 624.3h.5M438.9 625.3h.5M453.0 623.8h.5M453.8 623.5h.5M448.0 625.6h.5M451.4 614.3h.5M445.0 621.3h.5M453.0 607.6h.5M438.9 626.5h.5M450.9 637.0h.5M442.0 619.0h.5M447.5 623.6h.5M459.2 629.8h.5M445.1 627.6h.5M443.9 622.2h.5M452.0 624.0h.5M446.3 628.2h.5M450.6 620.3h.5M449.4 614.2h.5M455.2 622.4h.5M453.7 631.2h.5M445.9 618.7h.5M451.0 625.4h.5M450.0 625.8h.5M453.7 610.2h.5M447.0 608.6h.5M449.3 618.0h.5M454.5 621.4h.5M450.6 627.7h.5M454.5 613.2h.5M447.0 622.3h.5M461.0 619.2h.5M450.0 621.9h.5M455.6 619.9h.5M452.7 617.9h.5M447.8 615.8h.5M454.9 617.2h.5M454.2 622.8h.5M456.7 604.8h.5M445.3 613.3h.5M450.0 625.1h.5M465.8 629.4h.5M459.0 622.6h.5M448.7 623.5h.5M438.2 625.8h.5M451.1 624.0h.5M445.0 614.0h.5M447.2 620.1h.5M453.0 618.3h.5M453.0 624.4h.5M444.2 619.8h.5M441.9 617.2h.5M456.3 616.2h.5M461.9 623.3h.5M456.2 621.0h.5M456.1 626.8h.5M451.6 617.3h.5M447.8 631.7h.5M449.9 617.7h.5M446.9 610.6h.5M448.1 622.3h.5M448.2 616.0h.5M453.4 623.1h.5M448.4 622.2h.5M445.3 625.4h.5M445.2 618.4h.5M451.8 618.0h.5M444.3 632.6h.5M459.9 610.2h.5M451.7 613.0h.5M452.8 612.8h.5M454.4 623.5h.5M461.0 627.4h.5M448.3 625.9h.5M448.3 619.7h.5M448.1 610.1h.5M454.5 608.5h.5M449.6 623.5h.5M451.7 611.2h.5M447.2 624.4h.5M457.4 629.7h.5" stroke="#aaa" stroke-width="0.7" fill="none" stroke-linecap="round"/>
<path d="M446.1 615.4h.5M455.2 617.0h.5M447.0 612.1h.5M463.3 609.4h.5M456.0 607.7h.5M466.1 605.8h.5M452.3 611.1h.5M456.3 624.2h.5M460.4 608.4h.5M462.5 614.7h.5M460.4 612.6h.5M461.7 606.6h.5M450.3 610.6h.5M450.9 616.7h.5M471.8 619.5h.5M461.6 614.7h.5M453.8 605.9h.5M462.3 605.0h.5M460.6 612.1h.5M463.6 613.2h.5M459.2 609.8h.5M446.7 611.1h.5M463.3 618.5h.5M467.9 607.6h.5M452.1 616.7h.5M455.4 626.7h.5M460.7 604.8h.5M454.7 621.3h.5M446.0 613.7h.5M449.0 621.5h.5M455.4 607.4h.5M446.8 609.1h.5M441.0 610.4h.5M473.4 613.4h.5M456.7 606.7h.5M460.8 610.4h.5M452.7 620.3h.5M461.5 608.1h.5M468.6 612.6h.5M461.9 613.7h.5M466.6 616.2h.5M456.1 616.7h.5M455.8 613.6h.5M469.7 607.2h.5M451.4 610.8h.5M455.1 619.9h.5M447.6 625.2h.5M469.3 610.5h.5M459.8 611.0h.5M463.1 616.5h.5M463.6 617.0h.5M471.7 612.0h.5M463.3 611.9h.5M458.8 614.1h.5M458.1 614.8h.5M452.7 612.1h.5M454.4 606.6h.5M453.7 610.2h.5M457.5 604.5h.5M456.7 606.8h.5M452.9 613.9h.5M466.1 614.4h.5M455.2 610.5h.5M467.7 604.2h.5M466.3 604.8h.5M454.2 613.1h.5M457.0 621.8h.5M461.9 612.6h.5M465.0 613.1h.5M453.0 618.9h.5M468.8 619.8h.5M450.5 623.1h.5M455.6 617.0h.5M466.7 625.7h.5M447.4 607.4h.5M466.6 615.6h.5M456.4 597.2h.5M461.5 611.9h.5M440.6 627.3h.5M441.4 609.9h.5M458.5 614.2h.5M463.7 611.5h.5M452.4 611.0h.5M444.1 606.9h.5M472.0 609.2h.5M458.0 623.1h.5M465.7 613.6h.5M463.5 611.5h.5M452.3 618.3h.5M459.4 621.5h.5M456.7 610.9h.5M460.9 611.9h.5M456.4 608.1h.5M460.2 614.6h.5M471.1 612.8h.5M446.5 615.4h.5M474.2 610.5h.5M453.0 612.0h.5M457.2 604.8h.5M462.5 608.2h.5M445.8 609.0h.5M462.9 623.2h.5M467.1 614.0h.5M455.0 611.5h.5M465.1 610.1h.5M461.4 618.1h.5M452.3 609.7h.5M461.6 612.9h.5M457.6 610.1h.5M458.1 622.9h.5M467.8 604.2h.5M458.8 613.4h.5M458.8 605.5h.5M457.6 613.7h.5M453.8 614.6h.5M441.8 604.8h.5M459.2 615.0h.5M457.4 610.4h.5M459.8 618.7h.5M464.7 612.5h.5M455.3 618.6h.5M462.2 617.7h.5M456.6 608.3h.5M459.8 609.5h.5M466.4 617.5h.5M443.5 616.5h.5M467.7 618.5h.5M455.2 608.3h.5M465.2 618.4h.5M458.9 606.7h.5M448.0 614.3h.5M452.8 609.2h.5M461.6 618.6h.5M444.3 609.3h.5M467.4 612.7h.5M456.1 616.3h.5M450.7 606.3h.5M458.6 621.3h.5M465.5 612.9h.5M465.5 610.7h.5M450.4 603.9h.5M460.4 617.7h.5M461.1 612.7h.5M455.7 618.8h.5M458.2 605.1h.5M467.9 609.4h.5M461.2 612.9h.5M465.7 614.2h.5M466.9 614.0h.5M455.3 610.2h.5M463.0 608.4h.5M464.9 611.6h.5M452.1 608.2h.5M457.5 622.4h.5M463.8 613.0h.5M452.3 623.2h.5M456.6 612.9h.5M455.6 620.1h.5M459.7 610.4h.5M459.8 607.5h.5M451.3 612.0h.5M472.2 606.9h.5M457.5 604.4h.5M459.7 614.0h.5M463.6 605.7h.5M454.4 609.4h.5M456.8 625.2h.5M457.1 612.7h.5M455.0 617.2h.5M476.1 619.2h.5M469.0 607.1h.5M465.8 613.1h.5M467.1 618.6h.5M463.0 603.9h.5M459.4 610.2h.5M461.6 613.1h.5M465.7 604.3h.5M453.4 612.5h.5M460.7 610.7h.5M458.3 613.2h.5M465.7 612.3h.5M460.2 603.1h.5M440.5 605.0h.5M461.0 600.5h.5M461.3 612.4h.5M458.5 609.0h.5M455.6 617.4h.5M461.0 612.8h.5M455.1 614.0h.5M466.7 612.8h.5M456.0 606.5h.5M459.2 607.9h.5M448.6 617.6h.5M454.2 601.9h.5M453.6 622.8h.5M457.8 605.7h.5M450.9 616.8h.5M461.3 614.1h.5" stroke="#a2a2a2" stroke-width="0.76" fill="none" stroke-linecap="round"/>
<ellipse cx="459.5" cy="612.3" rx="10" ry="5.4" fill="#adadad" transform="rotate(-26 459.5 612.3)"/>
<ellipse cx="460.5" cy="611.6999999999999" rx="7.8" ry="3.6" fill="#7e7e7e" transform="rotate(-26 460.5 611.6999999999999)"/>
</g>
<rect x="446.80" y="601.90" width="26.10" height="21.00" fill="none" stroke="#000" stroke-width="1.4"/>
<text transform="translate(459.5 599.3) scale(1.0 1)" font-size="9.80" stroke="#111" stroke-width="0.22">7%</text>
<text transform="translate(495.8 494.5) scale(1.0 1)" font-size="9.60" text-anchor="end" stroke="#111" stroke-width="0.22">wild-type</text>
<text transform="translate(466 586.2) scale(1.0 1)" font-size="9.60" stroke="#111" stroke-width="0.22"><tspan font-style="italic">Moz</tspan><tspan dy="-3.5" font-size="9.60" letter-spacing="0.4" font-style="italic">+/-</tspan></text>
<line x1="418" y1="658" x2="492.3" y2="658" stroke="#000" stroke-width="1.3"/>
<path d="M488.8,654.5 L496.3,658 L488.8,661.5 L490.8,658 Z" fill="#000"/>
<text transform="translate(458.3 668.1) scale(1.0 1)" font-size="9.65" text-anchor="middle" stroke="#111" stroke-width="0.22">B220 (AlexaFluor700)</text>
<text transform="translate(0.9 710.6) scale(0.95 1)" font-size="17.16" font-weight="bold" stroke="#111" stroke-width="0.5" stroke-linejoin="round">G</text>
<text transform="translate(114.4 712.5) scale(1.0 1)" font-size="12.60" text-anchor="middle" stroke="#111" stroke-width="0.22">B cell development</text>
<text transform="translate(114.3 727.8) scale(1.0 1)" font-size="12.20" text-anchor="middle" stroke="#111" stroke-width="0.22">spleen</text>
<rect x="191.50" y="730.60" width="8.20" height="8.20" fill="#111"/>
<rect x="192.10" y="745.80" width="7.00" height="7.00" fill="#fff" stroke="#000" stroke-width="1.3"/>
<text transform="translate(203.2 738.5000000000001) scale(1.0 1)" font-size="10.20" stroke="#111" stroke-width="0.22"><tspan font-style="italic">Moz</tspan><tspan dy="-3.4" font-size="10.20" letter-spacing="0.4" font-style="italic">+/+</tspan></text>
<text transform="translate(203.2 753.1000000000001) scale(1.0 1)" font-size="10.20" stroke="#111" stroke-width="0.22"><tspan font-style="italic">Moz</tspan><tspan dy="-3.4" font-size="10.20" letter-spacing="0.4" font-style="italic">+/-</tspan></text>
<line x1="35" y1="729" x2="35" y2="794.5" stroke="#000" stroke-width="1.2"/>
<line x1="35" y1="804.5" x2="35" y2="885.1" stroke="#000" stroke-width="1.2"/>
<line x1="32.4" y1="729.6" x2="35" y2="729.6" stroke="#000" stroke-width="1.1"/>
<text transform="translate(30.4 732.7) scale(1.0 1)" font-size="10.10" text-anchor="end" stroke="#111" stroke-width="0.22">100</text>
<line x1="32.4" y1="754.6" x2="35" y2="754.6" stroke="#000" stroke-width="1.1"/>
<text transform="translate(30.4 757.7) scale(1.0 1)" font-size="10.10" text-anchor="end" stroke="#111" stroke-width="0.22">80</text>
<line x1="32.4" y1="779.6" x2="35" y2="779.6" stroke="#000" stroke-width="1.1"/>
<text transform="translate(30.4 782.7) scale(1.0 1)" font-size="10.10" text-anchor="end" stroke="#111" stroke-width="0.22">60</text>
<line x1="32.4" y1="818.6" x2="35" y2="818.6" stroke="#000" stroke-width="1.1"/>
<text transform="translate(30.4 822.3000000000001) scale(1.0 1)" font-size="10.10" text-anchor="end" stroke="#111" stroke-width="0.22">15</text>
<line x1="32.4" y1="840.6" x2="35" y2="840.6" stroke="#000" stroke-width="1.1"/>
<text transform="translate(30.4 844.3000000000001) scale(1.0 1)" font-size="10.10" text-anchor="end" stroke="#111" stroke-width="0.22">10</text>
<line x1="32.4" y1="862.6" x2="35" y2="862.6" stroke="#000" stroke-width="1.1"/>
<text transform="translate(30.4 866.3000000000001) scale(1.0 1)" font-size="10.10" text-anchor="end" stroke="#111" stroke-width="0.22">5</text>
<line x1="32.4" y1="884.6" x2="35" y2="884.6" stroke="#000" stroke-width="1.1"/>
<text transform="translate(30.4 888.3000000000001) scale(1.0 1)" font-size="10.10" text-anchor="end" stroke="#111" stroke-width="0.22">0</text>
<line x1="28.5" y1="800" x2="41.2" y2="791.5" stroke="#000" stroke-width="1.5"/>
<line x1="28.5" y1="807.7" x2="41.2" y2="799.2" stroke="#000" stroke-width="1.5"/>
<line x1="34.5" y1="884.6" x2="191.1" y2="884.6" stroke="#000" stroke-width="1.2"/>
<line x1="35.0" y1="884.6" x2="35.0" y2="888.9" stroke="#000" stroke-width="1.1"/>
<line x1="73.9" y1="884.6" x2="73.9" y2="888.9" stroke="#000" stroke-width="1.1"/>
<line x1="112.8" y1="884.6" x2="112.8" y2="888.9" stroke="#000" stroke-width="1.1"/>
<line x1="151.7" y1="884.6" x2="151.7" y2="888.9" stroke="#000" stroke-width="1.1"/>
<line x1="190.6" y1="884.6" x2="190.6" y2="888.9" stroke="#000" stroke-width="1.1"/>
<line x1="48.400000000000006" y1="862.6" x2="48.400000000000006" y2="861.28" stroke="#000" stroke-width="1.3"/>
<line x1="45.800000000000004" y1="861.28" x2="51.00000000000001" y2="861.28" stroke="#000" stroke-width="1.4"/>
<line x1="60.8" y1="874.48" x2="60.8" y2="873.38" stroke="#000" stroke-width="1.3"/>
<line x1="58.199999999999996" y1="873.38" x2="63.4" y2="873.38" stroke="#000" stroke-width="1.4"/>
<rect x="42.20" y="862.60" width="12.40" height="22.00" fill="#111"/>
<rect x="54.70" y="875.08" width="11.70" height="9.52" fill="#fff" stroke="#000" stroke-width="1.2"/>
<line x1="86.5" y1="847.64" x2="86.5" y2="845.44" stroke="#000" stroke-width="1.3"/>
<line x1="83.9" y1="845.44" x2="89.1" y2="845.44" stroke="#000" stroke-width="1.4"/>
<line x1="98.9" y1="843.02" x2="98.9" y2="840.82" stroke="#000" stroke-width="1.3"/>
<line x1="96.30000000000001" y1="840.82" x2="101.5" y2="840.82" stroke="#000" stroke-width="1.4"/>
<rect x="80.30" y="847.64" width="12.40" height="36.96" fill="#111"/>
<rect x="92.80" y="843.62" width="11.70" height="40.98" fill="#fff" stroke="#000" stroke-width="1.2"/>
<line x1="125.5" y1="878.66" x2="125.5" y2="878.1320000000001" stroke="#000" stroke-width="1.3"/>
<line x1="122.9" y1="878.1320000000001" x2="128.1" y2="878.1320000000001" stroke="#000" stroke-width="1.4"/>
<line x1="137.89999999999998" y1="876.46" x2="137.89999999999998" y2="876.02" stroke="#000" stroke-width="1.3"/>
<line x1="135.29999999999998" y1="876.02" x2="140.49999999999997" y2="876.02" stroke="#000" stroke-width="1.4"/>
<rect x="119.30" y="878.66" width="12.40" height="5.94" fill="#111"/>
<rect x="131.80" y="877.06" width="11.70" height="7.54" fill="#fff" stroke="#000" stroke-width="1.2"/>
<line x1="164.9" y1="740.85" x2="164.9" y2="733.35" stroke="#000" stroke-width="1.3"/>
<line x1="162.3" y1="733.35" x2="167.5" y2="733.35" stroke="#000" stroke-width="1.4"/>
<line x1="177.55" y1="775.85" x2="177.55" y2="770.225" stroke="#000" stroke-width="1.3"/>
<line x1="174.95000000000002" y1="770.225" x2="180.15" y2="770.225" stroke="#000" stroke-width="1.4"/>
<rect x="158.50" y="740.85" width="12.80" height="143.75" fill="#111"/>
<rect x="171.40" y="776.45" width="11.80" height="108.15" fill="#fff" stroke="#000" stroke-width="1.2"/>
<path d="M149.5 811 L196.5 780 L196.5 793 L149.5 824 Z" fill="#fff"/>
<line x1="149.5" y1="813.7" x2="196.5" y2="782.7" stroke="#000" stroke-width="1.6"/>
<line x1="149.5" y1="821.5" x2="196.5" y2="790.5" stroke="#000" stroke-width="1.6"/>
<polyline points="48.8,857.7 48.8,850 61.5,850 61.5,871" fill="none" stroke="#000" stroke-width="1.2"/>
<text transform="translate(55.15 853.3) scale(1.0 1)" font-size="15.80" text-anchor="middle" stroke="#111" stroke-width="0.22">***</text>
<polyline points="126,873 126,863.5 138.5,863.5 138.5,873" fill="none" stroke="#000" stroke-width="1.2"/>
<text transform="translate(132.25 866.8) scale(1.0 1)" font-size="15.80" text-anchor="middle" stroke="#111" stroke-width="0.22">*</text>
<polyline points="164.6,731.5 164.6,722.8 176.9,722.8 176.9,771" fill="none" stroke="#000" stroke-width="1.2"/>
<text transform="translate(170.75 726.0999999999999) scale(1.0 1)" font-size="15.80" text-anchor="middle" stroke="#111" stroke-width="0.22">**</text>
<text transform="translate(12.6 804) rotate(-90) scale(1.0 1)" font-size="11.25" text-anchor="middle" stroke="#111" stroke-width="0.22">Cells per spleen (x10<tspan dy="-5.6" font-size="9.70" letter-spacing="0.4">6</tspan><tspan dy="5.6">) ± s.e.m.</tspan></text>
<text transform="translate(54 897.8) scale(1.0 1)" font-size="11.50" text-anchor="middle" stroke="#111" stroke-width="0.22">T1</text>
<text transform="translate(88.2 897.8) scale(1.0 1)" font-size="11.50" text-anchor="middle" stroke="#111" stroke-width="0.22">T2</text>
<text transform="translate(130.8 897.8) scale(1.0 1)" font-size="11.50" text-anchor="middle" stroke="#111" stroke-width="0.22">MGZ</text>
<text transform="translate(172.8 897.8) scale(1.0 1)" font-size="11.50" text-anchor="middle" stroke="#111" stroke-width="0.22">mature</text>
<text transform="translate(248.2 710.6) scale(0.95 1)" font-size="17.16" font-weight="bold" stroke="#111" stroke-width="0.5" stroke-linejoin="round">H</text>
<text transform="translate(304 712.8) scale(1.0 1)" font-size="12.50" text-anchor="middle" stroke="#111" stroke-width="0.22">B cells</text>
<text transform="translate(303.5 727.8) scale(1.0 1)" font-size="12.50" text-anchor="middle" stroke="#111" stroke-width="0.22">blood</text>
<rect x="336.60" y="730.60" width="8.00" height="8.00" fill="#111"/>
<rect x="337.20" y="745.80" width="6.80" height="6.80" fill="#fff" stroke="#000" stroke-width="1.3"/>
<text transform="translate(348.1 738.3000000000001) scale(1.0 1)" font-size="10.20" stroke="#111" stroke-width="0.22"><tspan font-style="italic">Moz</tspan><tspan dy="-3.4" font-size="10.20" letter-spacing="0.4" font-style="italic">+/+</tspan></text>
<text transform="translate(348.1 752.9000000000001) scale(1.0 1)" font-size="10.20" stroke="#111" stroke-width="0.22"><tspan font-style="italic">Moz</tspan><tspan dy="-3.4" font-size="10.20" letter-spacing="0.4" font-style="italic">+/-</tspan></text>
<line x1="280" y1="729.5" x2="280" y2="885.1" stroke="#000" stroke-width="1.2"/>
<line x1="277.4" y1="884.6" x2="280" y2="884.6" stroke="#000" stroke-width="1.1"/>
<text transform="translate(275.6 888.8000000000001) scale(1.0 1)" font-size="10.10" text-anchor="end" stroke="#111" stroke-width="0.22">0</text>
<line x1="277.4" y1="853.6800000000001" x2="280" y2="853.6800000000001" stroke="#000" stroke-width="1.1"/>
<text transform="translate(275.6 857.8800000000001) scale(1.0 1)" font-size="10.10" text-anchor="end" stroke="#111" stroke-width="0.22">2</text>
<line x1="277.4" y1="822.76" x2="280" y2="822.76" stroke="#000" stroke-width="1.1"/>
<text transform="translate(275.6 826.96) scale(1.0 1)" font-size="10.10" text-anchor="end" stroke="#111" stroke-width="0.22">4</text>
<line x1="277.4" y1="791.84" x2="280" y2="791.84" stroke="#000" stroke-width="1.1"/>
<text transform="translate(275.6 796.0400000000001) scale(1.0 1)" font-size="10.10" text-anchor="end" stroke="#111" stroke-width="0.22">6</text>
<line x1="277.4" y1="760.9200000000001" x2="280" y2="760.9200000000001" stroke="#000" stroke-width="1.1"/>
<text transform="translate(275.6 765.1200000000001) scale(1.0 1)" font-size="10.10" text-anchor="end" stroke="#111" stroke-width="0.22">8</text>
<line x1="277.4" y1="730.0" x2="280" y2="730.0" stroke="#000" stroke-width="1.1"/>
<text transform="translate(275.6 734.2) scale(1.0 1)" font-size="10.10" text-anchor="end" stroke="#111" stroke-width="0.22">10</text>
<line x1="279.5" y1="884.6" x2="319.5" y2="884.6" stroke="#000" stroke-width="1.2"/>
<line x1="280" y1="884.6" x2="280" y2="889.1" stroke="#000" stroke-width="1.1"/>
<line x1="319" y1="884.6" x2="319" y2="889.1" stroke="#000" stroke-width="1.1"/>
<line x1="294.2" y1="769.1138000000001" x2="294.2" y2="762.466" stroke="#000" stroke-width="1.3"/>
<line x1="291.59999999999997" y1="762.466" x2="296.8" y2="762.466" stroke="#000" stroke-width="1.4"/>
<line x1="307.2" y1="818.5858000000001" x2="307.2" y2="813.484" stroke="#000" stroke-width="1.3"/>
<line x1="304.59999999999997" y1="813.484" x2="309.8" y2="813.484" stroke="#000" stroke-width="1.4"/>
<rect x="287.70" y="769.11" width="13.00" height="115.49" fill="#111"/>
<rect x="300.80" y="819.19" width="12.30" height="65.41" fill="#fff" stroke="#000" stroke-width="1.2"/>
<polyline points="294.2,759.6 294.2,752 307,752 307,811.5" fill="none" stroke="#000" stroke-width="1.2"/>
<text transform="translate(300.6 755.3) scale(1.0 1)" font-size="15.80" text-anchor="middle" stroke="#111" stroke-width="0.22">***</text>
<text transform="translate(259.4 806.7) rotate(-90) scale(1.0 1)" font-size="11.20" text-anchor="middle" stroke="#111" stroke-width="0.22">Cells per µl blood (x10<tspan dy="-4.4" font-size="10.50" letter-spacing="0.4">3</tspan><tspan dy="4.4">) ± s.e.m.</tspan></text>
<text transform="translate(301.3 897) scale(1.0 1)" font-size="10.80" text-anchor="middle" stroke="#111" stroke-width="0.22">B220+</text>
<text transform="translate(301.3 906.6) scale(1.0 1)" font-size="10.80" text-anchor="middle" stroke="#111" stroke-width="0.22">cells</text>
<text transform="translate(449.5 706.8) scale(1.0 1)" font-size="11.10" text-anchor="middle" stroke="#111" stroke-width="0.22">live single blood cells</text>
<line x1="410.8" y1="882.3" x2="410.8" y2="718.3" stroke="#000" stroke-width="1.3"/>
<path d="M407.3,721.8 L410.8,714.3 L414.3,721.8 L410.8,719.8 Z" fill="#000"/>
<text transform="translate(402.4 738) rotate(-90) scale(1.0 1)" font-size="9.60" text-anchor="middle" stroke="#111" stroke-width="0.22">B220(APC)</text>
<rect x="417.70" y="714.00" width="78.60" height="78.20" fill="#fff" stroke="#b0b0b0" stroke-width="1.0"/>
<line x1="417.7" y1="729.64" x2="419.3" y2="729.64" stroke="#888" stroke-width="0.7"/>
<line x1="433.41999999999996" y1="792.2" x2="433.41999999999996" y2="790.6" stroke="#888" stroke-width="0.7"/>
<line x1="417.7" y1="745.28" x2="419.3" y2="745.28" stroke="#888" stroke-width="0.7"/>
<line x1="449.14" y1="792.2" x2="449.14" y2="790.6" stroke="#888" stroke-width="0.7"/>
<line x1="417.7" y1="760.92" x2="419.3" y2="760.92" stroke="#888" stroke-width="0.7"/>
<line x1="464.86" y1="792.2" x2="464.86" y2="790.6" stroke="#888" stroke-width="0.7"/>
<line x1="417.7" y1="776.56" x2="419.3" y2="776.56" stroke="#888" stroke-width="0.7"/>
<line x1="480.58" y1="792.2" x2="480.58" y2="790.6" stroke="#888" stroke-width="0.7"/>
<g filter="url(#soft)">
<path d="M437.0 743.7h.5M443.5 743.7h.5M437.1 737.8h.5M439.4 747.1h.5M440.1 738.2h.5M438.4 746.3h.5M435.3 743.8h.5M442.2 747.3h.5M431.8 736.7h.5M439.1 744.4h.5M436.4 742.1h.5M436.2 746.0h.5M429.4 743.0h.5M432.9 740.1h.5M432.0 739.3h.5M437.6 742.3h.5M444.4 741.5h.5M439.0 743.3h.5M438.7 746.8h.5M438.2 742.7h.5M437.3 742.2h.5M437.5 745.3h.5M437.8 742.4h.5M437.5 744.6h.5M435.9 745.2h.5M435.6 744.4h.5M444.9 742.9h.5M437.4 738.5h.5M440.5 742.2h.5M441.1 740.1h.5M439.6 747.9h.5M439.2 741.2h.5M432.8 742.2h.5M440.2 744.1h.5M433.5 739.0h.5M434.0 739.0h.5M436.7 743.0h.5M444.9 742.8h.5M443.1 737.0h.5M443.5 744.7h.5M439.4 744.8h.5M440.0 748.2h.5M440.7 736.7h.5M431.1 747.3h.5M437.4 746.4h.5M436.4 740.1h.5M436.4 743.2h.5M438.4 740.2h.5M439.7 744.1h.5M434.3 738.7h.5M430.3 741.2h.5M437.7 740.0h.5M435.4 741.8h.5M437.8 744.0h.5M440.8 743.6h.5M441.9 739.1h.5M440.0 743.4h.5M433.8 740.1h.5M439.4 742.4h.5M433.0 740.5h.5M443.4 744.9h.5M438.0 746.5h.5M434.3 741.7h.5M441.3 741.1h.5M433.5 744.1h.5M443.7 734.2h.5M438.3 738.2h.5M436.6 737.7h.5M447.5 740.0h.5M437.9 740.0h.5M434.0 740.8h.5M438.5 747.7h.5M438.8 747.2h.5M433.7 742.4h.5M436.1 737.2h.5M451.7 741.4h.5M438.6 739.8h.5M435.5 738.9h.5M441.6 740.9h.5M437.2 742.8h.5M433.1 742.9h.5M437.1 743.6h.5M436.3 742.3h.5M439.6 745.3h.5M435.1 745.3h.5M434.0 741.6h.5M438.2 742.7h.5M428.3 739.1h.5M437.0 745.1h.5M435.1 747.0h.5M430.9 742.4h.5M439.7 742.3h.5M438.7 745.2h.5M434.7 744.1h.5M441.7 741.5h.5M429.0 738.4h.5M434.5 738.9h.5M439.3 739.7h.5M447.0 744.0h.5M432.8 741.3h.5M443.4 744.4h.5M433.9 745.5h.5M435.9 749.2h.5M435.6 744.1h.5M439.8 740.8h.5M437.1 745.9h.5M439.6 742.0h.5M439.4 747.7h.5M441.2 743.7h.5M438.9 737.3h.5M438.2 740.7h.5M440.4 740.3h.5M439.4 738.9h.5M441.1 739.9h.5M437.6 744.0h.5M436.5 742.2h.5M441.7 747.8h.5M430.9 739.3h.5M440.2 745.2h.5M435.9 742.5h.5M437.0 749.4h.5M437.0 738.4h.5M431.9 738.2h.5M442.6 741.0h.5M445.0 744.2h.5M439.1 744.2h.5M440.7 745.1h.5M434.0 740.4h.5M435.6 742.5h.5M436.8 738.3h.5M435.1 747.8h.5M445.7 739.5h.5M439.1 742.1h.5M434.5 744.5h.5M437.4 747.5h.5M439.4 741.2h.5M427.8 741.9h.5M440.9 739.9h.5M441.0 744.4h.5M431.1 741.6h.5M438.9 744.6h.5M438.3 742.2h.5M436.4 741.3h.5M437.7 738.8h.5M440.1 741.2h.5M439.7 740.6h.5M439.2 742.6h.5M441.0 743.7h.5M441.2 741.7h.5M437.5 741.4h.5M433.0 741.8h.5M441.8 744.6h.5M434.5 743.1h.5M440.5 737.9h.5M439.0 743.2h.5M440.5 743.0h.5M431.2 735.8h.5M445.2 741.0h.5M442.5 746.2h.5M438.0 738.6h.5M442.8 742.1h.5M439.7 743.7h.5M441.3 745.4h.5M432.4 737.8h.5M438.2 742.2h.5M440.6 741.8h.5M437.0 748.6h.5M442.9 745.9h.5M441.6 739.7h.5M437.4 742.0h.5M433.6 739.5h.5M438.3 738.4h.5M439.7 743.7h.5M436.8 741.1h.5M440.0 743.7h.5M439.1 738.3h.5M431.6 748.7h.5M435.2 741.0h.5M430.8 739.7h.5M435.0 744.7h.5M427.8 737.8h.5M436.2 740.7h.5M434.8 740.8h.5M431.8 743.0h.5M442.2 742.7h.5M435.7 746.2h.5M439.5 739.0h.5M435.5 740.3h.5M437.5 746.0h.5M435.1 741.7h.5M438.1 738.5h.5M435.9 744.1h.5M442.0 736.3h.5M440.4 741.3h.5M442.5 744.2h.5M445.1 743.2h.5M436.2 739.6h.5M432.3 743.9h.5M439.6 744.8h.5M439.0 737.5h.5M436.2 741.4h.5M438.3 744.6h.5M443.0 743.1h.5M430.0 739.0h.5M429.7 739.8h.5M433.2 743.0h.5M436.9 745.7h.5M441.8 740.8h.5M441.3 742.2h.5M439.4 746.4h.5M433.4 742.0h.5M443.5 739.8h.5M438.5 742.6h.5M436.1 738.1h.5M435.1 739.1h.5M441.8 743.0h.5M440.3 738.5h.5M439.6 742.7h.5M441.6 739.9h.5M440.7 746.5h.5M444.5 739.3h.5M433.5 737.6h.5M441.3 744.1h.5M439.0 739.5h.5M442.4 747.2h.5M437.6 741.8h.5M442.2 743.8h.5M442.8 740.9h.5M439.0 741.1h.5M435.6 741.3h.5M436.6 743.8h.5M436.6 742.4h.5M434.7 738.4h.5M443.1 739.1h.5M444.5 745.1h.5M429.1 740.2h.5M436.1 742.3h.5M437.0 740.3h.5M442.4 741.8h.5M441.3 740.1h.5" stroke="#9c9c9c" stroke-width="0.76" fill="none" stroke-linecap="round"/>
<ellipse cx="437.7" cy="742.1999999999999" rx="4.3" ry="3.2" fill="#cfcfcf" stroke="#8a8a8a" stroke-width="1"/>
<ellipse cx="437.7" cy="742.1999999999999" rx="2.1" ry="1.4" fill="#b4b4b4" stroke="#707070" stroke-width="0.6"/>
<circle cx="437.9" cy="742.1999999999999" r="0.7" fill="#555"/>
<path d="M437.9 788.3h.5M440.9 770.4h.5M441.7 786.2h.5M441.8 773.2h.5M447.7 785.7h.5M441.5 776.2h.5M441.6 791.3h.5M441.9 781.5h.5M443.4 776.2h.5M440.0 768.5h.5M432.0 779.7h.5M438.3 777.8h.5M441.7 774.8h.5M434.8 774.8h.5M440.8 770.0h.5M435.9 784.8h.5M449.9 779.5h.5M467.0 784.6h.5M452.1 772.5h.5M451.0 790.9h.5M437.0 770.2h.5M442.7 772.6h.5M447.7 770.4h.5M443.6 764.2h.5M442.8 786.2h.5M441.1 780.8h.5M451.1 770.5h.5M433.6 779.1h.5M445.1 776.5h.5M435.8 787.4h.5M434.4 776.6h.5M442.7 783.8h.5M439.7 772.5h.5M457.9 772.3h.5M448.9 777.4h.5M439.5 778.2h.5M441.1 780.8h.5M443.6 771.4h.5M456.7 783.2h.5M444.7 776.3h.5M453.3 775.2h.5M437.0 783.6h.5M435.9 772.7h.5M453.7 766.7h.5M442.5 779.4h.5M444.9 767.8h.5M441.3 776.1h.5M457.3 785.9h.5M437.4 784.9h.5M447.9 777.7h.5M441.2 776.5h.5M431.6 773.9h.5M450.0 789.1h.5M456.8 775.8h.5M447.6 760.9h.5M441.0 769.3h.5M449.1 766.4h.5M435.3 770.4h.5M446.0 784.6h.5M444.2 772.4h.5M445.6 778.4h.5M449.2 781.0h.5M459.2 787.1h.5M438.3 784.3h.5M448.7 771.2h.5M437.5 772.6h.5M441.4 787.5h.5M438.9 779.1h.5M448.4 785.6h.5M445.4 770.9h.5M459.3 784.9h.5M453.1 790.3h.5M453.4 781.5h.5M446.5 783.1h.5M431.9 784.5h.5M435.8 781.6h.5M435.6 783.7h.5M444.5 782.2h.5M436.3 776.4h.5M442.6 776.4h.5M439.8 772.1h.5M448.7 775.7h.5M437.0 781.2h.5M437.0 777.2h.5M439.3 771.7h.5M441.4 772.5h.5M433.8 781.1h.5M440.9 767.8h.5M440.1 779.9h.5M446.2 781.2h.5M444.9 782.9h.5M439.4 772.7h.5M447.6 775.5h.5M443.1 783.3h.5M450.0 787.4h.5M438.0 775.8h.5M447.2 768.0h.5M433.8 782.9h.5M438.5 771.8h.5M449.0 782.4h.5M449.8 776.1h.5M440.9 776.0h.5M445.3 763.7h.5M437.9 783.7h.5M437.3 778.0h.5M444.0 782.3h.5M439.6 770.2h.5M461.5 773.3h.5M455.7 765.7h.5M443.9 777.1h.5M450.3 771.1h.5M437.1 773.0h.5M439.3 780.4h.5M437.3 776.7h.5M453.9 789.0h.5M429.3 771.6h.5M440.3 788.0h.5M445.8 789.0h.5M436.7 776.2h.5M450.6 782.7h.5M429.3 776.5h.5M444.4 783.1h.5M438.4 791.2h.5M444.2 789.1h.5M446.0 779.1h.5M440.7 770.0h.5M449.4 784.0h.5M450.0 775.8h.5M435.7 775.8h.5M440.8 778.4h.5M450.3 771.9h.5M439.5 783.5h.5M447.0 772.3h.5M435.4 772.8h.5M443.6 780.4h.5M442.6 774.0h.5M441.7 777.9h.5M447.4 779.1h.5M437.1 770.0h.5M454.0 777.9h.5M441.8 778.3h.5M451.4 776.2h.5M444.4 776.8h.5M447.3 771.2h.5M444.6 786.0h.5M451.8 783.0h.5M445.3 789.9h.5M448.3 788.7h.5M434.3 770.5h.5M449.0 776.6h.5M439.9 771.6h.5M454.0 769.8h.5M443.9 768.4h.5M461.0 774.9h.5M435.7 790.3h.5M436.8 765.6h.5M445.7 770.7h.5M432.4 786.7h.5M437.7 770.8h.5M444.3 777.1h.5M451.4 779.2h.5M454.8 786.8h.5M456.2 786.7h.5M443.6 782.5h.5M443.3 767.2h.5M434.5 783.9h.5M433.7 778.1h.5M435.5 780.3h.5M441.7 775.1h.5M436.9 762.4h.5M443.7 769.1h.5M440.9 781.2h.5M450.8 783.6h.5M454.0 768.2h.5M448.1 789.9h.5M446.0 770.5h.5M446.0 774.8h.5M438.4 786.2h.5M441.8 770.4h.5M436.9 783.4h.5M444.4 787.0h.5M441.1 771.7h.5M438.4 771.1h.5M462.2 779.9h.5M440.8 787.7h.5M447.9 777.2h.5M447.7 780.5h.5M451.4 790.5h.5M440.8 778.3h.5M441.8 787.4h.5M445.9 784.2h.5M449.7 773.9h.5M444.1 788.6h.5M449.9 784.4h.5M441.1 775.9h.5M436.8 776.6h.5M442.7 768.1h.5M451.6 773.0h.5M445.0 782.9h.5M439.1 765.4h.5M450.2 781.5h.5M441.3 786.7h.5M449.7 771.6h.5M442.5 765.7h.5M441.2 788.8h.5M437.0 784.5h.5M432.1 776.4h.5M450.0 791.0h.5M446.4 784.0h.5M455.7 760.8h.5M461.2 782.9h.5M443.6 780.4h.5M443.3 774.1h.5M443.0 777.6h.5M448.0 783.5h.5M450.3 782.8h.5M436.0 788.6h.5M445.5 774.7h.5M456.8 770.6h.5M434.6 774.9h.5M446.2 784.3h.5M443.9 783.4h.5M438.0 774.1h.5M444.1 768.8h.5M444.5 775.7h.5M448.1 771.2h.5M439.3 774.4h.5M440.5 771.3h.5M441.2 768.7h.5M447.0 783.4h.5M443.0 777.2h.5M436.6 771.6h.5M441.5 772.0h.5M434.6 779.7h.5M443.0 775.6h.5M437.2 778.1h.5M438.1 775.4h.5M444.5 783.7h.5M448.6 774.1h.5M451.9 770.1h.5M441.9 788.0h.5M460.4 779.5h.5M440.5 775.8h.5M434.3 777.5h.5M440.0 773.1h.5M451.8 772.9h.5M455.4 784.6h.5M447.8 774.3h.5M439.4 764.1h.5M445.1 776.6h.5M445.9 773.7h.5M446.7 767.7h.5M452.5 776.0h.5M441.9 767.4h.5M435.9 783.7h.5M437.8 778.2h.5M449.6 769.0h.5M439.6 770.2h.5M433.0 773.6h.5M451.1 778.9h.5M448.0 777.5h.5M440.0 779.1h.5M456.1 781.2h.5M447.5 764.1h.5M437.3 784.4h.5M452.0 775.6h.5M441.5 775.2h.5M448.9 778.7h.5M454.0 787.1h.5M440.9 774.1h.5M441.4 772.1h.5M440.1 778.0h.5M449.6 767.1h.5M433.0 772.9h.5M440.9 781.8h.5M437.4 789.5h.5M439.3 776.9h.5M443.5 787.0h.5M445.3 778.7h.5M439.2 779.7h.5M446.0 776.0h.5M442.9 765.2h.5M439.3 787.1h.5M453.4 778.0h.5M440.1 785.8h.5M438.6 788.5h.5M451.5 770.8h.5M441.5 769.7h.5M445.1 775.6h.5M432.3 770.9h.5M444.9 767.4h.5M450.9 781.8h.5M441.8 788.7h.5M436.4 783.5h.5M433.3 776.1h.5M447.7 774.6h.5M442.3 783.2h.5M454.1 788.0h.5M446.4 776.6h.5M432.6 791.0h.5M456.6 762.8h.5M449.4 778.2h.5M448.2 780.8h.5M441.7 778.5h.5M442.8 787.0h.5M441.2 774.5h.5M447.8 783.2h.5M446.2 780.6h.5M453.7 786.6h.5M444.6 777.0h.5M447.8 764.9h.5M439.3 773.4h.5M444.3 775.7h.5M460.9 783.9h.5M443.1 776.2h.5M452.0 784.5h.5M449.8 787.3h.5M440.5 773.7h.5M437.9 779.3h.5M450.3 770.8h.5M439.2 768.8h.5M457.5 784.3h.5M444.7 769.6h.5M435.6 773.8h.5M443.3 769.2h.5M441.4 787.4h.5M443.2 779.2h.5M442.0 773.5h.5M433.1 778.0h.5M435.7 774.5h.5M431.6 777.8h.5M449.6 772.4h.5" stroke="#a6a6a6" stroke-width="0.76" fill="none" stroke-linecap="round"/>
<path d="M441.6 768.2h.5M442.2 784.2h.5M439.9 786.9h.5M438.8 780.4h.5M444.7 779.8h.5M438.2 789.0h.5M442.1 777.8h.5M436.6 765.3h.5M437.3 791.6h.5M441.5 773.4h.5M443.5 791.4h.5M438.9 783.8h.5M437.0 782.9h.5M445.0 769.0h.5M441.0 775.1h.5M440.6 780.7h.5M441.5 786.9h.5M442.0 788.2h.5M443.2 788.6h.5M439.3 783.2h.5M440.0 773.4h.5M445.3 782.3h.5M440.9 763.6h.5M440.3 786.0h.5M440.4 775.8h.5M444.2 777.6h.5M440.1 779.2h.5M440.3 788.2h.5M442.1 779.5h.5M440.0 778.2h.5M444.7 777.6h.5M442.3 767.7h.5M441.6 785.4h.5M443.7 782.5h.5M442.2 782.5h.5M441.3 773.6h.5M442.2 779.1h.5M442.3 786.1h.5M441.2 776.6h.5M441.5 770.3h.5M441.5 773.1h.5M441.9 781.0h.5M440.3 770.6h.5M440.9 774.7h.5M440.5 785.4h.5M443.0 769.9h.5M443.0 790.6h.5M443.4 782.2h.5M440.1 768.1h.5M441.0 782.2h.5M438.4 770.5h.5M445.4 780.9h.5M442.6 775.4h.5M437.3 778.6h.5M443.9 774.8h.5M436.7 778.7h.5M440.2 780.1h.5M438.4 777.6h.5M439.6 786.9h.5M441.2 786.8h.5M440.7 763.3h.5M436.3 784.2h.5M442.8 786.8h.5M440.7 766.1h.5M439.7 783.2h.5M444.0 777.3h.5M439.5 774.0h.5M443.2 786.8h.5M436.6 789.5h.5M438.7 768.5h.5M437.2 774.3h.5M438.0 774.8h.5M441.2 783.2h.5M439.7 767.6h.5M439.9 774.7h.5M436.7 781.1h.5M437.5 766.4h.5M444.3 787.3h.5M444.2 780.9h.5M439.9 779.3h.5M437.7 785.8h.5M441.4 777.6h.5M436.5 779.1h.5M444.6 791.3h.5M442.8 777.3h.5M441.1 784.3h.5M441.3 788.2h.5M439.3 761.9h.5M435.3 772.9h.5M437.7 785.2h.5M443.3 780.0h.5M442.1 780.6h.5M441.2 776.3h.5M439.9 789.3h.5M440.2 779.7h.5M443.6 787.7h.5M439.9 782.0h.5M438.5 781.0h.5M441.6 780.0h.5M441.2 782.9h.5M435.0 773.6h.5M441.0 776.2h.5M438.6 778.1h.5M444.5 778.2h.5M439.3 776.3h.5M438.1 783.8h.5M438.6 787.1h.5M442.9 784.5h.5M443.2 779.3h.5M436.8 779.5h.5M442.3 767.9h.5M438.0 788.6h.5M441.8 790.5h.5M442.4 780.5h.5M441.8 786.6h.5M440.8 778.4h.5M441.6 777.5h.5M446.4 774.0h.5M437.3 769.9h.5M443.2 776.8h.5M441.2 778.3h.5M441.5 768.7h.5M441.0 775.5h.5M443.3 784.9h.5M437.9 772.4h.5M442.1 789.4h.5M442.6 778.8h.5M443.4 761.6h.5M439.6 772.4h.5M438.5 784.4h.5M441.5 782.2h.5M440.5 784.9h.5M442.6 775.5h.5M443.0 772.7h.5M444.9 769.8h.5M440.2 771.5h.5M440.9 790.3h.5M444.1 783.0h.5M439.5 787.1h.5M434.2 774.0h.5M443.1 779.7h.5M446.6 774.7h.5M437.8 778.3h.5M436.8 781.2h.5M443.8 774.7h.5M439.8 770.5h.5M442.6 786.5h.5M442.2 781.9h.5M443.1 779.0h.5M442.5 786.4h.5M443.8 784.0h.5M441.0 785.6h.5M437.2 766.2h.5M444.6 781.1h.5M438.4 775.4h.5M440.5 780.6h.5M439.1 787.8h.5M442.4 766.8h.5M438.0 780.5h.5M441.5 776.7h.5M440.9 781.3h.5M438.2 780.5h.5M446.1 774.9h.5M438.5 785.2h.5M444.0 788.2h.5M439.4 779.4h.5M441.3 778.4h.5M441.8 788.5h.5M442.1 779.9h.5M442.6 780.7h.5M443.7 787.2h.5M445.7 765.9h.5M441.1 777.6h.5M439.1 780.6h.5M442.1 784.1h.5M440.5 769.6h.5M442.1 784.8h.5M445.8 787.4h.5M440.9 771.0h.5M447.2 774.7h.5M441.3 785.9h.5M442.0 790.5h.5M438.4 774.6h.5M441.2 770.3h.5M439.4 790.9h.5M441.5 779.2h.5M439.5 780.4h.5M440.8 771.5h.5M442.7 769.9h.5M443.9 777.3h.5M435.4 767.8h.5M441.5 773.1h.5M445.1 790.9h.5M445.8 787.1h.5M444.0 775.2h.5M443.9 776.5h.5M440.7 769.2h.5M441.0 783.2h.5M440.7 771.2h.5M443.0 787.2h.5M440.6 786.2h.5M443.2 772.2h.5M440.7 765.3h.5M438.4 783.4h.5M438.7 783.1h.5M441.7 763.6h.5M440.9 781.0h.5M439.2 767.3h.5" stroke="#979797" stroke-width="0.76" fill="none" stroke-linecap="round"/>
</g>
<rect x="426.40" y="729.80" width="22.60" height="22.60" fill="none" stroke="#000" stroke-width="1.4"/>
<text transform="translate(451.3 736.5) scale(1.0 1)" font-size="9.80" stroke="#111" stroke-width="0.22">71%</text>
<rect x="417.70" y="803.70" width="78.60" height="78.20" fill="#fff" stroke="#b0b0b0" stroke-width="1.0"/>
<line x1="417.7" y1="819.34" x2="419.3" y2="819.34" stroke="#888" stroke-width="0.7"/>
<line x1="433.41999999999996" y1="881.9000000000001" x2="433.41999999999996" y2="880.3000000000001" stroke="#888" stroke-width="0.7"/>
<line x1="417.7" y1="834.98" x2="419.3" y2="834.98" stroke="#888" stroke-width="0.7"/>
<line x1="449.14" y1="881.9000000000001" x2="449.14" y2="880.3000000000001" stroke="#888" stroke-width="0.7"/>
<line x1="417.7" y1="850.62" x2="419.3" y2="850.62" stroke="#888" stroke-width="0.7"/>
<line x1="464.86" y1="881.9000000000001" x2="464.86" y2="880.3000000000001" stroke="#888" stroke-width="0.7"/>
<line x1="417.7" y1="866.26" x2="419.3" y2="866.26" stroke="#888" stroke-width="0.7"/>
<line x1="480.58" y1="881.9000000000001" x2="480.58" y2="880.3000000000001" stroke="#888" stroke-width="0.7"/>
<g filter="url(#soft)">
<path d="M437.1 829.9h.5M438.2 826.5h.5M443.0 838.1h.5M434.9 833.7h.5M434.3 835.4h.5M434.6 832.2h.5M442.7 834.4h.5M436.5 827.9h.5M431.7 836.5h.5M439.7 832.9h.5M442.5 833.2h.5M435.0 832.4h.5M437.4 832.7h.5M447.2 834.5h.5M438.8 831.9h.5M435.2 829.5h.5M430.6 831.2h.5M432.0 826.8h.5M434.2 826.2h.5M443.0 836.7h.5M434.1 839.2h.5M440.3 824.6h.5M437.8 829.5h.5M431.1 831.9h.5M442.1 834.1h.5M432.2 830.6h.5M434.9 836.4h.5M437.4 829.6h.5M434.3 826.4h.5M434.5 835.6h.5M430.5 833.3h.5M437.3 835.3h.5M433.4 835.6h.5M443.6 840.0h.5M431.5 832.6h.5M436.9 833.1h.5M434.0 835.4h.5M446.7 837.5h.5M434.1 830.9h.5M440.5 833.1h.5M434.8 836.7h.5M439.7 836.0h.5M437.1 836.8h.5M436.0 829.1h.5M437.7 828.2h.5M442.5 835.0h.5M431.3 833.2h.5M441.0 831.6h.5M439.3 830.8h.5M437.5 832.4h.5M439.6 829.6h.5M433.4 833.8h.5M435.8 834.4h.5M435.8 828.5h.5M440.5 833.6h.5M440.5 831.6h.5M436.4 836.7h.5M431.3 838.3h.5M439.7 832.5h.5M438.1 834.6h.5M434.8 833.6h.5M434.1 826.8h.5M438.5 833.0h.5M440.2 834.5h.5M440.4 835.2h.5M433.7 836.6h.5M447.9 830.9h.5M432.9 834.9h.5M441.2 835.9h.5M443.6 828.3h.5M439.2 834.2h.5M442.5 829.8h.5M437.8 831.5h.5M437.1 832.2h.5M437.1 827.0h.5M437.6 832.9h.5M436.2 821.3h.5M435.1 830.6h.5M434.4 837.8h.5M441.3 832.1h.5M440.0 843.3h.5M434.0 834.2h.5M435.4 837.5h.5M442.0 832.3h.5M440.1 830.1h.5M431.7 835.4h.5M444.0 831.7h.5M435.7 826.9h.5M445.9 828.8h.5M434.0 832.1h.5M442.3 832.9h.5M437.6 832.8h.5M441.0 832.6h.5M438.3 832.5h.5M433.5 837.0h.5M435.1 828.5h.5M436.0 832.8h.5M440.8 828.0h.5M432.9 833.3h.5M439.2 829.2h.5M433.4 833.3h.5M437.2 827.5h.5M434.4 837.5h.5M433.7 836.1h.5M431.9 837.5h.5M443.8 830.7h.5M435.1 834.7h.5M433.0 834.5h.5M442.4 833.5h.5M438.9 832.2h.5M441.5 830.1h.5M443.8 832.6h.5M436.5 827.5h.5M436.0 833.5h.5M442.5 827.5h.5M437.2 830.5h.5M433.1 832.7h.5M434.8 835.5h.5M427.4 835.1h.5M430.4 826.4h.5M439.7 831.6h.5M438.2 829.6h.5M433.7 830.3h.5M437.5 830.0h.5M436.1 829.9h.5M438.6 829.0h.5M429.8 824.3h.5M437.6 833.0h.5M441.4 830.3h.5M433.4 827.9h.5M440.6 830.7h.5M441.5 832.4h.5M436.7 826.7h.5M435.1 835.2h.5M435.4 834.9h.5M431.4 836.0h.5M448.3 836.3h.5M438.9 828.7h.5M435.7 830.6h.5M438.4 826.2h.5M434.4 835.2h.5M438.3 835.1h.5M441.0 829.0h.5M432.6 834.2h.5M437.8 833.0h.5M434.6 836.0h.5M439.6 836.4h.5M436.4 834.9h.5M437.5 829.7h.5M437.4 827.4h.5M437.0 833.3h.5M440.4 829.3h.5M432.6 830.4h.5M429.8 830.6h.5M447.7 833.2h.5M434.8 830.5h.5M444.4 829.0h.5M437.3 832.4h.5M434.9 830.4h.5M431.3 830.0h.5M442.7 837.2h.5M436.6 835.0h.5M439.5 833.1h.5M437.2 836.6h.5M439.9 832.0h.5M436.8 835.7h.5M435.4 830.4h.5M436.7 831.1h.5M442.5 833.8h.5M437.4 831.0h.5M443.1 834.1h.5M445.6 835.6h.5M436.9 830.9h.5M436.6 833.3h.5M440.7 834.3h.5M443.7 827.8h.5M437.8 828.1h.5M433.8 830.8h.5M435.2 829.6h.5M431.9 836.4h.5M436.5 835.8h.5M433.5 825.3h.5M435.4 835.5h.5M435.6 834.0h.5M433.6 837.2h.5M439.3 836.1h.5M436.6 836.8h.5M438.0 831.1h.5M435.3 832.9h.5M434.2 828.9h.5M438.2 835.0h.5M436.6 835.4h.5M443.7 828.6h.5M438.7 829.6h.5M435.2 833.3h.5M428.7 834.6h.5M440.9 834.4h.5M440.2 838.5h.5M436.3 836.2h.5M443.2 834.3h.5M430.9 832.2h.5M436.6 827.5h.5M437.5 835.1h.5M436.7 832.1h.5M443.3 830.7h.5M434.1 832.8h.5M442.0 834.6h.5M438.0 831.1h.5M442.4 835.5h.5M431.1 833.8h.5M428.5 837.5h.5M440.0 830.7h.5M432.8 831.7h.5M431.0 834.5h.5M435.8 827.0h.5M437.6 836.5h.5M432.9 831.6h.5M444.6 833.3h.5M435.6 833.3h.5M440.7 829.5h.5M437.3 827.5h.5M431.7 827.8h.5M440.9 833.7h.5M440.5 836.6h.5M437.9 833.5h.5M439.2 834.2h.5M433.6 831.8h.5M437.1 832.8h.5M434.8 832.3h.5M438.8 833.3h.5M439.9 835.3h.5M439.8 835.8h.5M440.9 837.2h.5M440.1 830.7h.5M446.6 836.3h.5M442.5 835.0h.5M437.9 829.0h.5M439.4 831.6h.5M436.2 825.8h.5M443.6 829.0h.5" stroke="#9c9c9c" stroke-width="0.76" fill="none" stroke-linecap="round"/>
<ellipse cx="437.7" cy="832.7" rx="4.3" ry="3.2" fill="#cfcfcf" stroke="#8a8a8a" stroke-width="1"/>
<ellipse cx="437.7" cy="832.7" rx="2.1" ry="1.4" fill="#b4b4b4" stroke="#707070" stroke-width="0.6"/>
<circle cx="437.9" cy="832.7" r="0.7" fill="#555"/>
<path d="M437.0 871.7h.5M453.7 862.2h.5M447.9 870.1h.5M449.6 872.2h.5M455.8 865.4h.5M444.1 860.7h.5M455.5 872.6h.5M447.6 870.5h.5M451.2 866.4h.5M451.2 858.4h.5M456.8 865.1h.5M442.2 856.9h.5M446.8 866.9h.5M441.6 856.4h.5M449.6 871.3h.5M459.4 872.1h.5M463.2 877.2h.5M446.9 860.3h.5M452.3 875.4h.5M432.5 858.9h.5M454.9 864.0h.5M462.6 869.8h.5M442.5 858.2h.5M454.0 855.2h.5M434.9 858.3h.5M465.1 881.0h.5M445.8 865.3h.5M455.0 877.6h.5M445.9 876.7h.5M445.8 858.6h.5M467.6 863.0h.5M448.0 858.8h.5M454.8 869.6h.5M445.1 865.2h.5M442.3 862.8h.5M433.9 877.3h.5M457.0 857.7h.5M436.3 871.3h.5M470.7 866.6h.5M444.8 866.3h.5M450.5 866.9h.5M458.9 875.6h.5M453.5 880.0h.5M445.7 864.0h.5M477.9 853.7h.5M432.3 850.5h.5M451.6 860.1h.5M458.6 852.4h.5M446.6 865.2h.5M437.1 876.6h.5M444.0 871.6h.5M442.7 869.3h.5M443.5 868.7h.5M447.0 863.1h.5M452.4 866.8h.5M438.3 860.3h.5M452.4 878.2h.5M434.8 865.0h.5M452.5 876.0h.5M455.1 859.3h.5M448.4 875.0h.5M450.4 866.5h.5M436.1 869.4h.5M447.3 868.4h.5M463.1 877.1h.5M440.0 869.9h.5M444.9 868.9h.5M464.4 875.1h.5M448.4 863.2h.5M446.4 870.9h.5M443.0 876.5h.5M448.2 859.3h.5M445.3 867.3h.5M457.9 876.6h.5M462.6 879.9h.5M451.2 869.0h.5M458.2 868.0h.5M435.3 864.8h.5M454.7 872.8h.5M436.9 877.2h.5M451.1 856.9h.5M452.7 875.8h.5M453.3 865.9h.5M439.9 876.6h.5M450.3 868.1h.5M444.0 860.4h.5M429.2 865.6h.5M459.1 873.9h.5M441.1 879.7h.5M445.7 860.6h.5M457.8 878.6h.5M444.1 859.0h.5M447.4 849.9h.5M448.5 879.7h.5M450.7 862.7h.5M455.1 864.5h.5M460.7 865.5h.5M468.5 865.6h.5M449.9 861.1h.5M435.2 870.8h.5M451.5 860.9h.5M453.6 865.1h.5M442.4 867.7h.5M452.0 873.7h.5M460.4 871.1h.5M440.7 863.0h.5M451.7 859.2h.5M446.3 865.3h.5M447.0 869.6h.5M458.4 880.5h.5M456.9 875.8h.5M437.3 876.0h.5M461.0 858.0h.5M473.4 863.9h.5M448.6 862.2h.5M442.2 876.2h.5M450.6 865.4h.5M459.5 861.1h.5M439.5 864.0h.5M440.5 873.4h.5M445.7 860.3h.5M443.4 853.3h.5M449.7 869.0h.5M454.1 866.4h.5M452.0 861.2h.5M448.2 869.4h.5M435.8 872.6h.5M449.4 868.6h.5M448.0 862.4h.5M439.5 872.6h.5M445.9 862.3h.5M440.7 875.2h.5M448.9 876.1h.5M447.8 859.3h.5M456.7 870.6h.5M441.4 865.9h.5M438.3 874.4h.5M443.8 871.8h.5M450.6 866.2h.5M451.7 866.3h.5M436.2 865.1h.5M436.2 873.9h.5M454.5 863.8h.5M454.2 870.0h.5M457.8 861.2h.5M448.3 860.8h.5M441.2 878.5h.5M452.9 874.0h.5M440.1 853.0h.5M430.8 870.9h.5M459.0 875.0h.5M440.7 878.3h.5M446.1 872.8h.5M446.1 880.1h.5M442.8 852.1h.5M444.8 869.6h.5M450.8 862.8h.5M445.7 859.7h.5M445.7 868.8h.5M450.4 880.5h.5M452.3 859.5h.5M448.7 868.1h.5M438.0 873.6h.5M467.1 873.2h.5M455.8 876.2h.5M446.7 875.5h.5M439.9 869.5h.5M455.0 878.0h.5M445.1 866.0h.5M452.7 867.6h.5M449.4 874.2h.5M440.4 874.8h.5M451.8 866.2h.5M435.5 863.5h.5M447.6 875.2h.5M449.9 859.7h.5M456.5 871.2h.5M452.3 860.9h.5M437.0 875.0h.5M462.0 870.9h.5M446.1 864.8h.5M430.9 875.5h.5M447.0 877.4h.5M440.8 876.0h.5M440.9 872.6h.5M461.7 862.9h.5M457.0 868.1h.5M438.7 869.7h.5M454.4 862.9h.5M445.3 864.0h.5M440.4 866.6h.5M456.2 864.5h.5M460.4 865.4h.5M441.1 876.2h.5M462.0 863.3h.5M453.8 859.5h.5M444.0 865.4h.5M455.0 858.9h.5M442.9 863.1h.5M449.0 859.1h.5M450.1 857.0h.5M456.3 858.4h.5M429.3 880.6h.5M460.4 862.0h.5M437.2 871.7h.5M468.1 872.7h.5M454.5 859.4h.5M430.4 871.1h.5M458.0 869.2h.5M447.9 878.5h.5M439.7 876.3h.5M456.2 863.6h.5M449.2 869.0h.5M453.7 861.0h.5M445.7 868.9h.5M448.3 868.4h.5M450.5 866.8h.5M443.1 875.8h.5M441.6 865.8h.5M439.3 859.7h.5M452.4 867.9h.5M446.7 871.5h.5M446.3 873.2h.5M465.8 870.8h.5M445.4 880.4h.5M455.0 855.9h.5M461.1 869.8h.5M456.4 859.7h.5M439.6 863.4h.5M453.4 859.9h.5M441.0 875.2h.5M441.7 869.1h.5M439.1 855.6h.5M447.2 867.3h.5M433.9 875.4h.5M456.1 874.7h.5M443.0 859.7h.5M447.1 869.4h.5M446.3 863.9h.5M438.2 862.8h.5M447.2 864.6h.5M464.4 866.2h.5M452.4 864.8h.5M446.2 861.0h.5M443.2 857.2h.5M437.6 871.4h.5M446.8 864.0h.5M455.1 864.1h.5M452.3 865.5h.5M457.5 875.2h.5M448.6 876.3h.5M452.9 879.7h.5M446.8 856.8h.5M450.1 869.9h.5M444.4 866.7h.5M445.3 859.0h.5M464.8 862.5h.5M437.5 856.6h.5M439.7 867.9h.5M462.5 872.6h.5M440.9 859.0h.5M437.0 867.6h.5M456.5 864.7h.5M449.5 852.3h.5M458.7 867.5h.5M454.5 875.4h.5M438.1 868.7h.5M449.7 862.7h.5M454.8 867.2h.5M449.6 880.2h.5M446.5 875.8h.5M440.6 869.3h.5M458.6 852.2h.5M453.2 866.2h.5M458.6 869.5h.5M447.2 858.8h.5M476.7 862.8h.5M444.8 862.9h.5M445.0 869.8h.5M434.9 875.9h.5M445.4 872.6h.5M445.1 865.3h.5M441.4 870.5h.5M452.0 861.0h.5M428.8 873.5h.5M444.8 876.0h.5M456.5 867.4h.5M434.0 865.5h.5M440.8 877.3h.5M431.4 874.9h.5M432.9 864.0h.5M434.1 863.1h.5M443.6 870.9h.5M442.2 873.2h.5M465.1 869.4h.5M436.7 866.9h.5M447.0 865.5h.5M459.2 876.7h.5M467.5 872.0h.5M454.5 862.3h.5M442.1 874.9h.5M449.4 859.9h.5M447.9 859.2h.5M447.4 859.5h.5M438.9 864.4h.5M475.1 859.5h.5M436.4 864.2h.5M458.3 874.0h.5M454.7 865.8h.5M449.2 862.5h.5M446.2 862.3h.5M433.7 860.9h.5M466.8 871.1h.5M440.6 867.4h.5M443.5 877.1h.5M447.7 863.5h.5M454.6 870.5h.5M441.3 862.5h.5M449.3 856.2h.5M439.0 875.6h.5M456.3 876.4h.5M443.6 863.8h.5M445.3 864.7h.5M460.4 866.5h.5M461.1 863.0h.5M451.6 880.1h.5M440.7 863.4h.5M442.1 856.3h.5M445.0 863.4h.5M469.4 864.7h.5M457.2 867.9h.5M450.7 873.4h.5M442.4 868.5h.5M449.3 880.3h.5M461.7 869.4h.5M434.8 874.7h.5M447.4 876.7h.5M448.4 869.5h.5M454.3 862.8h.5M439.5 875.0h.5M454.5 874.2h.5M461.2 858.3h.5M457.2 853.1h.5M448.4 870.6h.5M457.9 876.1h.5M438.8 866.2h.5M446.3 863.1h.5M439.9 863.3h.5M459.1 878.2h.5M455.2 880.5h.5M448.8 860.2h.5M441.5 869.7h.5M457.9 877.1h.5M439.1 875.2h.5M442.7 872.6h.5M456.8 879.1h.5M442.7 870.0h.5M452.0 865.1h.5M448.8 872.5h.5M431.9 863.4h.5M470.3 871.5h.5M442.4 854.7h.5M438.5 872.0h.5M454.5 871.5h.5M453.6 863.7h.5M463.4 859.9h.5M452.8 866.2h.5M431.2 874.8h.5M445.2 873.4h.5M460.2 869.4h.5M441.4 866.6h.5M447.2 878.8h.5M456.2 879.8h.5M455.3 862.6h.5M456.9 875.3h.5M446.7 871.6h.5M444.8 858.9h.5M447.0 873.8h.5M444.4 851.7h.5M440.1 876.2h.5M450.0 876.4h.5M440.5 865.1h.5M438.1 862.5h.5M452.8 869.2h.5M443.1 870.4h.5M435.2 865.3h.5M433.3 857.2h.5M434.6 860.1h.5M463.2 878.3h.5M460.1 863.9h.5M453.9 859.8h.5M442.6 870.0h.5M432.3 869.6h.5M453.8 852.9h.5M446.7 869.2h.5M436.8 872.4h.5M449.0 862.8h.5M463.8 870.1h.5M443.1 866.6h.5M430.9 866.5h.5M453.3 869.7h.5M435.5 861.9h.5M429.8 858.0h.5M448.9 870.4h.5M438.9 866.6h.5M440.0 872.8h.5M454.1 864.1h.5M443.4 859.1h.5M447.7 874.5h.5M453.5 879.1h.5M444.7 861.5h.5M457.9 875.0h.5M441.4 876.3h.5M447.7 867.9h.5M465.7 872.1h.5M450.9 865.8h.5M449.8 876.0h.5M452.3 862.6h.5M452.2 867.3h.5M450.8 866.8h.5M444.1 851.9h.5M454.6 864.8h.5M451.0 851.6h.5M450.3 875.5h.5M449.7 858.5h.5M457.3 864.2h.5M442.3 869.7h.5M452.2 859.0h.5M447.8 868.6h.5M461.8 877.7h.5M472.8 863.3h.5M439.1 870.8h.5M463.5 860.7h.5M444.4 862.7h.5M453.0 871.2h.5M447.5 873.1h.5M440.2 865.4h.5M447.5 868.6h.5M460.6 868.8h.5M460.5 870.0h.5M459.1 869.6h.5M438.9 861.9h.5M466.1 865.8h.5M472.3 859.9h.5M439.6 875.1h.5M432.9 875.0h.5M451.5 872.9h.5M436.0 871.0h.5M457.0 867.8h.5M457.9 868.4h.5M451.2 865.8h.5M434.6 867.0h.5M452.7 862.5h.5M428.7 856.6h.5M460.7 866.5h.5M440.4 877.4h.5M446.1 857.0h.5M443.5 861.6h.5M446.0 861.4h.5M448.5 871.6h.5M442.2 866.7h.5M446.3 874.4h.5M440.8 873.8h.5M460.1 866.7h.5M438.4 865.9h.5M430.5 864.1h.5M436.1 866.9h.5M444.2 872.1h.5M449.0 871.4h.5M447.4 870.3h.5M436.7 873.1h.5M460.6 876.5h.5M434.7 871.3h.5M431.9 873.9h.5M445.8 864.8h.5M440.5 866.4h.5M447.8 861.0h.5M448.4 870.1h.5M453.0 867.9h.5M457.8 870.6h.5M434.2 872.8h.5M453.5 848.3h.5M446.2 871.1h.5M448.2 868.9h.5M446.3 878.6h.5M451.6 866.1h.5M439.4 864.3h.5M451.1 869.3h.5M450.8 878.4h.5M459.0 871.4h.5M448.3 867.7h.5M445.6 875.7h.5M435.4 860.4h.5M443.4 861.0h.5M440.6 877.2h.5M434.9 866.4h.5M442.2 860.8h.5M433.3 868.7h.5M444.0 876.4h.5M466.1 866.0h.5M440.0 866.1h.5M452.5 875.2h.5M438.5 871.8h.5M447.6 876.8h.5M443.8 866.6h.5M439.5 858.3h.5M450.5 873.5h.5M459.0 870.2h.5M443.3 861.3h.5M436.4 862.8h.5M451.2 868.9h.5M445.0 860.4h.5M447.7 872.2h.5M437.7 858.1h.5M444.7 870.2h.5M445.3 879.8h.5M449.3 860.7h.5M455.5 863.3h.5M454.7 868.9h.5" stroke="#a6a6a6" stroke-width="0.76" fill="none" stroke-linecap="round"/>
<path d="M458.1 874.2h.5M437.3 865.0h.5M445.3 869.3h.5M435.7 879.0h.5M448.8 864.5h.5M435.8 871.3h.5M459.3 874.5h.5M457.3 877.9h.5M452.3 860.0h.5M443.1 871.5h.5M445.8 863.5h.5M436.8 877.7h.5M452.3 865.3h.5M447.2 877.9h.5M438.7 872.5h.5M441.1 878.6h.5M455.8 879.6h.5M445.0 869.9h.5M443.4 866.4h.5M459.8 880.0h.5M460.8 878.7h.5M447.7 873.2h.5M458.6 868.2h.5M458.9 876.2h.5M442.4 866.6h.5M453.0 862.3h.5M441.7 863.0h.5M437.8 878.7h.5M460.9 876.7h.5M448.1 875.1h.5M452.9 868.4h.5M448.5 861.5h.5M441.3 866.3h.5M444.3 873.2h.5M441.3 863.9h.5M457.7 875.9h.5M459.2 875.8h.5M440.1 869.4h.5M456.7 876.4h.5M440.9 869.3h.5M450.3 858.9h.5M441.3 875.0h.5M452.3 868.5h.5M449.8 870.3h.5M444.0 860.6h.5M454.3 875.7h.5M446.3 875.6h.5M456.5 873.9h.5M456.0 880.0h.5M436.0 879.4h.5M446.8 875.8h.5M454.2 860.9h.5M450.2 860.7h.5M454.0 866.2h.5M444.8 864.7h.5M456.1 872.8h.5M442.8 875.0h.5M439.8 876.3h.5M450.7 875.6h.5M451.0 880.4h.5M453.1 868.9h.5M450.4 871.2h.5M442.4 865.4h.5M455.8 876.7h.5M460.1 873.8h.5M448.1 867.4h.5M453.3 873.0h.5M459.5 875.1h.5M445.0 864.8h.5M436.2 875.9h.5M446.1 867.4h.5M436.4 869.6h.5M458.4 864.8h.5M454.3 875.4h.5M452.2 871.8h.5M441.5 873.5h.5M450.2 880.0h.5M448.4 866.5h.5M458.6 872.4h.5M443.9 873.0h.5M439.0 862.9h.5M458.0 868.9h.5M455.8 863.4h.5M447.2 863.9h.5M455.9 871.8h.5M445.2 867.2h.5M440.5 863.3h.5M453.0 865.6h.5M437.7 867.2h.5M446.8 880.4h.5M445.0 867.6h.5M460.3 874.6h.5M446.9 867.5h.5M440.9 862.1h.5M447.3 872.8h.5M437.8 869.2h.5M439.5 871.9h.5M444.0 873.3h.5M455.4 867.6h.5M444.9 860.4h.5M440.5 872.4h.5M456.0 861.7h.5M460.4 878.8h.5M444.5 870.6h.5M452.5 865.9h.5M444.5 874.6h.5M447.6 868.3h.5M449.6 861.3h.5M447.2 865.2h.5M439.3 870.2h.5M453.3 870.3h.5M448.0 873.4h.5M446.0 880.3h.5M440.6 858.9h.5M449.8 874.0h.5M444.9 867.5h.5M443.9 864.0h.5M455.6 877.7h.5M442.3 871.1h.5M447.0 861.6h.5M454.1 870.4h.5M460.8 878.7h.5M458.5 864.5h.5M437.9 876.5h.5M437.8 873.8h.5M439.6 874.2h.5M436.4 860.6h.5M457.6 870.0h.5M446.7 880.1h.5M455.4 863.7h.5M453.4 867.2h.5M447.1 865.6h.5M440.9 865.4h.5M442.1 862.9h.5M457.7 867.0h.5M449.6 876.5h.5M452.6 862.1h.5M459.8 879.2h.5M456.8 865.9h.5M456.6 872.8h.5M435.8 867.0h.5M453.1 870.7h.5M459.6 876.1h.5M456.7 880.3h.5M443.9 878.7h.5M435.1 876.3h.5M437.3 869.7h.5M446.5 860.3h.5M451.5 876.0h.5M440.8 864.1h.5M455.0 870.3h.5M435.5 865.4h.5M459.5 864.8h.5M442.5 868.6h.5M458.0 876.5h.5M445.0 873.4h.5M435.7 860.1h.5M444.7 872.6h.5M438.7 859.6h.5M457.2 862.8h.5M436.4 860.6h.5M437.1 865.0h.5M450.1 873.1h.5M442.4 870.0h.5M443.6 871.5h.5M437.8 872.4h.5M435.0 879.0h.5M440.4 870.9h.5M439.9 868.5h.5M441.9 872.8h.5M455.3 877.3h.5M460.3 868.7h.5M449.3 866.4h.5M442.5 869.9h.5M460.3 859.9h.5M454.4 865.8h.5M450.5 864.5h.5M453.7 869.6h.5M443.1 868.6h.5M435.1 860.9h.5M458.6 860.5h.5M445.3 873.4h.5M435.9 879.2h.5M440.4 879.9h.5M446.3 871.6h.5M450.7 860.7h.5M448.2 875.2h.5M455.5 874.9h.5M452.7 861.5h.5M445.6 869.9h.5M436.1 875.5h.5M437.7 871.1h.5M441.9 862.3h.5M459.8 872.3h.5M454.0 872.0h.5M449.7 877.9h.5M436.6 867.0h.5M440.7 871.8h.5M445.3 879.0h.5M441.1 864.6h.5M458.8 874.6h.5M446.2 866.9h.5M454.1 862.0h.5M453.8 863.7h.5M456.0 860.3h.5M458.8 877.7h.5M435.6 862.2h.5M458.8 876.7h.5M442.6 876.3h.5M450.1 864.1h.5M452.9 867.8h.5M438.7 877.4h.5M453.7 864.1h.5M446.1 873.7h.5M444.7 864.4h.5M448.7 879.6h.5M437.5 864.2h.5M447.6 880.4h.5M460.8 858.9h.5M451.7 861.7h.5M440.4 861.7h.5M448.0 880.6h.5M460.1 866.8h.5M458.4 873.9h.5M436.9 878.5h.5M442.1 880.2h.5M438.4 878.5h.5M448.3 870.0h.5M439.8 869.4h.5M454.7 870.9h.5M460.5 870.5h.5M458.5 861.6h.5M454.2 871.9h.5M458.0 866.1h.5M447.0 876.6h.5M441.6 866.9h.5M457.0 873.0h.5M447.7 859.0h.5M454.9 867.8h.5M441.2 867.2h.5M438.6 877.2h.5M455.7 879.9h.5M452.5 862.2h.5M446.0 880.6h.5M435.0 866.2h.5M438.9 862.5h.5M442.2 872.3h.5M436.8 877.8h.5M446.2 862.5h.5M437.6 870.2h.5M444.1 869.7h.5M437.8 866.5h.5M448.1 860.6h.5M448.0 877.2h.5M450.3 861.5h.5M451.4 860.5h.5M438.7 858.9h.5M448.8 862.6h.5M442.2 861.4h.5M458.3 861.9h.5M452.5 876.4h.5M446.7 871.5h.5M443.7 876.7h.5M452.8 860.4h.5M453.3 861.8h.5M447.5 862.7h.5M447.6 873.1h.5M454.1 865.9h.5M436.4 868.6h.5M458.8 870.8h.5M451.1 875.5h.5M451.6 879.6h.5M459.8 874.9h.5M456.0 861.8h.5M441.9 874.3h.5M450.1 877.7h.5M455.1 866.0h.5M439.5 873.2h.5M437.9 869.6h.5M442.2 867.5h.5M452.0 872.6h.5M451.1 860.0h.5M458.2 874.2h.5M458.6 872.2h.5M451.8 878.2h.5M454.4 872.7h.5M436.0 859.2h.5M453.6 877.3h.5M445.0 863.3h.5M446.5 877.2h.5M454.6 861.6h.5M440.2 863.3h.5M454.4 864.2h.5M458.1 867.8h.5M440.0 867.8h.5M438.6 878.0h.5M435.6 867.9h.5M444.8 859.5h.5M440.8 880.5h.5M457.3 868.0h.5M457.7 878.7h.5M457.3 874.7h.5M449.7 870.0h.5M453.6 871.9h.5M460.3 862.7h.5M458.4 875.3h.5M446.5 877.4h.5M442.4 867.3h.5M450.0 880.0h.5M441.3 877.3h.5M452.1 878.9h.5M442.8 873.3h.5M458.1 878.1h.5M453.2 877.2h.5M451.5 870.9h.5M440.0 870.1h.5M460.4 879.5h.5M436.1 865.4h.5M441.2 877.2h.5M439.7 875.5h.5M440.1 866.2h.5M460.3 861.5h.5M450.1 864.7h.5M454.7 860.2h.5M452.6 864.4h.5M459.9 865.9h.5M452.4 859.3h.5M459.4 872.6h.5M458.8 875.1h.5M436.6 875.1h.5M444.9 863.1h.5M458.2 873.3h.5M444.1 860.3h.5M451.9 860.0h.5M441.2 859.8h.5M439.5 875.1h.5M442.0 880.4h.5M442.3 876.3h.5M454.1 872.9h.5M450.7 861.8h.5M456.5 879.0h.5M448.8 862.8h.5M437.2 864.3h.5M460.3 865.7h.5M442.3 870.3h.5M435.9 876.1h.5M455.3 865.5h.5M435.8 878.5h.5M456.0 875.5h.5M440.5 879.7h.5M451.7 859.4h.5M460.5 874.1h.5M439.8 878.3h.5M450.5 872.7h.5M435.7 863.4h.5M455.6 859.0h.5M440.0 860.2h.5M450.2 861.7h.5M455.4 868.6h.5M455.3 878.8h.5M460.3 862.9h.5M444.5 876.2h.5M443.6 879.3h.5M443.7 872.5h.5M441.7 874.6h.5M442.4 868.0h.5M453.8 876.9h.5M438.6 862.5h.5M440.5 875.6h.5M452.5 874.5h.5M456.0 863.8h.5M447.9 858.8h.5M444.2 871.9h.5M441.8 876.2h.5M440.5 868.4h.5M452.8 863.6h.5M452.3 867.5h.5M436.3 861.0h.5M452.0 876.8h.5M452.7 877.7h.5M452.3 875.8h.5M456.8 871.8h.5M448.8 862.3h.5M441.1 860.6h.5M437.9 867.3h.5M442.6 871.1h.5M456.5 864.6h.5M458.3 877.0h.5M440.0 871.7h.5M440.1 860.1h.5M440.7 863.2h.5M435.2 859.3h.5M456.0 877.7h.5M457.5 860.3h.5M435.6 877.6h.5M444.7 866.3h.5M453.2 870.4h.5M443.6 862.0h.5M438.0 874.4h.5M458.5 859.5h.5M440.8 870.2h.5M441.9 869.5h.5M448.0 864.5h.5M438.0 867.9h.5M456.1 861.7h.5M449.0 876.5h.5M449.8 866.3h.5M459.1 875.9h.5M460.9 865.3h.5M447.6 868.6h.5M456.9 872.3h.5M449.3 870.0h.5M458.2 866.5h.5M438.4 862.6h.5M441.3 860.8h.5M460.4 870.9h.5M455.7 868.7h.5M448.6 863.7h.5M458.2 867.9h.5M445.6 875.0h.5M457.6 880.6h.5M447.5 868.0h.5M456.5 868.0h.5M440.3 869.2h.5M443.0 864.4h.5M455.1 866.4h.5M451.3 865.4h.5M438.0 875.9h.5M455.1 874.2h.5M450.9 862.5h.5M448.0 877.0h.5M455.4 871.7h.5M451.4 862.5h.5M436.4 877.3h.5M435.5 864.3h.5M445.4 874.1h.5M453.1 877.8h.5M459.2 864.7h.5M441.5 861.4h.5M443.6 861.0h.5M460.0 871.3h.5M447.8 860.0h.5M458.7 864.1h.5M455.0 863.2h.5M442.0 861.7h.5M448.9 865.0h.5M449.9 874.4h.5M440.9 861.6h.5M448.4 867.5h.5M446.6 866.8h.5M439.3 861.4h.5M453.9 872.7h.5M452.9 872.7h.5M448.3 863.0h.5M458.8 870.4h.5M446.9 864.4h.5M444.8 880.3h.5M445.6 876.4h.5M438.2 871.9h.5M442.1 863.9h.5M442.9 867.4h.5M451.7 867.7h.5M457.4 862.1h.5M457.2 868.3h.5M455.6 867.4h.5M441.7 878.4h.5M451.6 874.6h.5M448.6 874.3h.5M459.9 875.0h.5M460.2 866.4h.5M442.7 878.1h.5M456.7 878.2h.5M446.3 867.8h.5M459.6 863.2h.5M439.3 862.5h.5M442.9 867.9h.5M445.0 868.8h.5M435.9 866.2h.5M448.2 859.9h.5M447.5 878.6h.5M452.0 879.5h.5M457.4 869.6h.5M435.5 860.0h.5M450.0 877.2h.5M443.6 861.6h.5M454.7 870.6h.5M447.2 861.5h.5M449.4 871.3h.5M453.5 878.5h.5M437.0 877.0h.5M443.4 867.8h.5M443.9 876.5h.5M446.5 860.3h.5M447.3 862.0h.5M435.4 859.8h.5M444.9 868.6h.5M435.0 861.7h.5M458.4 870.7h.5M460.5 870.6h.5M459.8 873.9h.5M445.1 859.8h.5M438.8 876.1h.5M452.2 865.2h.5M439.2 872.8h.5M459.2 864.2h.5M460.9 870.5h.5M440.4 862.7h.5M453.5 879.1h.5M440.3 863.9h.5M438.7 863.3h.5M440.9 867.9h.5M441.2 873.3h.5M441.2 864.6h.5M445.9 862.4h.5M436.3 860.7h.5M435.1 873.5h.5M436.3 869.2h.5M458.1 872.2h.5M443.0 867.5h.5M446.1 865.8h.5" stroke="#a2a2a2" stroke-width="0.76" fill="none" stroke-linecap="round"/>
<path d="M441.8 871.2h.5M441.5 874.0h.5M440.0 873.0h.5M439.3 866.2h.5M436.8 868.9h.5M436.6 869.9h.5M441.0 861.1h.5M440.7 872.0h.5M439.7 862.5h.5M440.2 872.9h.5M435.9 872.4h.5M441.5 864.7h.5M440.8 880.5h.5M443.0 866.2h.5M435.1 878.9h.5M444.1 855.8h.5M440.0 864.2h.5M441.0 870.2h.5M443.2 865.1h.5M445.0 856.2h.5M440.3 874.7h.5M442.6 866.9h.5M436.1 871.4h.5M442.2 853.6h.5M439.4 874.1h.5M434.9 868.2h.5M436.8 859.1h.5M441.4 878.7h.5M443.2 864.5h.5M441.7 855.7h.5M437.1 874.0h.5M439.6 861.7h.5M436.2 867.9h.5M445.7 853.8h.5M438.1 878.6h.5M436.0 864.8h.5M440.7 878.7h.5M440.4 868.8h.5M441.5 872.5h.5M437.0 862.2h.5M440.0 872.4h.5M437.7 864.0h.5M438.8 872.4h.5M439.5 874.5h.5M441.4 862.5h.5M439.8 859.9h.5M440.8 876.1h.5M438.2 855.7h.5M441.7 867.4h.5M440.4 873.3h.5M441.4 877.0h.5M439.4 852.2h.5M439.4 867.3h.5M439.5 872.8h.5M439.9 880.0h.5M439.0 869.6h.5M438.3 861.8h.5M439.6 875.8h.5M440.5 868.3h.5M437.1 853.2h.5M440.0 867.8h.5M444.6 872.7h.5M441.5 877.4h.5M438.4 859.9h.5M442.8 865.1h.5M437.6 877.1h.5M443.1 861.0h.5M444.3 863.5h.5M442.3 868.1h.5M439.7 864.8h.5M442.1 874.6h.5M442.4 867.5h.5M444.5 868.2h.5M440.8 870.2h.5M442.5 872.5h.5M436.1 874.8h.5M438.2 870.3h.5M440.1 871.8h.5M434.8 875.2h.5M446.0 866.4h.5M442.6 874.7h.5M441.2 865.7h.5M442.0 871.9h.5M443.9 876.3h.5M444.1 873.6h.5M440.9 864.9h.5M446.4 880.4h.5M440.7 866.8h.5M441.9 880.5h.5M441.7 877.2h.5M441.1 872.5h.5M437.5 870.7h.5M440.6 869.1h.5M439.9 872.1h.5M439.1 868.1h.5M438.4 860.1h.5M439.2 866.4h.5M438.0 850.2h.5M444.4 877.8h.5M439.6 874.2h.5M437.9 856.8h.5M441.3 874.3h.5M438.9 869.7h.5M433.2 868.7h.5M443.0 871.1h.5M440.9 874.3h.5M435.6 859.4h.5M437.5 871.6h.5M439.0 854.7h.5M442.6 868.2h.5M436.6 859.5h.5M443.1 880.9h.5M441.4 872.6h.5M442.1 874.9h.5M437.5 875.6h.5M442.9 866.5h.5M438.3 865.8h.5M439.1 873.9h.5M442.3 869.9h.5M439.8 855.6h.5M439.5 861.8h.5M439.2 872.4h.5M438.4 865.4h.5M437.8 867.7h.5M439.8 877.7h.5M435.9 877.0h.5M442.0 865.5h.5M438.9 871.3h.5M441.7 868.4h.5M440.1 869.8h.5M437.9 871.9h.5M441.9 870.1h.5M437.8 869.7h.5M440.2 872.2h.5M439.5 876.3h.5M443.1 876.3h.5M441.1 879.4h.5M440.4 868.4h.5M437.1 869.9h.5M443.4 862.1h.5M442.4 859.7h.5M440.6 860.5h.5M441.2 868.6h.5M442.4 865.6h.5M436.4 865.9h.5M441.9 877.8h.5M441.1 869.9h.5M442.1 868.2h.5M439.4 871.5h.5M443.1 865.8h.5M441.7 864.7h.5M438.7 871.1h.5M437.3 863.0h.5M437.7 865.0h.5M441.9 870.3h.5M437.3 851.0h.5M441.5 864.8h.5M443.0 866.6h.5M437.4 864.7h.5M436.8 858.6h.5M442.2 865.6h.5M442.1 865.3h.5M439.9 865.4h.5M439.2 864.6h.5M444.0 869.3h.5M443.5 878.5h.5M440.2 868.5h.5M439.3 870.7h.5M441.6 869.7h.5M438.5 862.2h.5M437.5 864.7h.5M440.4 874.3h.5M440.2 871.6h.5M441.3 878.6h.5M437.4 878.3h.5M441.5 873.9h.5M436.9 867.9h.5M439.9 874.7h.5M442.1 875.1h.5M437.4 879.5h.5M440.6 877.0h.5M440.5 864.3h.5M446.7 874.8h.5M442.3 866.1h.5M439.9 878.4h.5M443.3 861.4h.5M436.8 878.7h.5M441.9 867.7h.5M439.8 865.4h.5M444.8 868.5h.5M437.2 876.8h.5M440.3 872.5h.5M439.6 869.4h.5M436.0 873.9h.5M438.8 866.8h.5M441.2 879.6h.5M435.3 868.7h.5M441.8 877.6h.5M438.3 872.2h.5M441.4 876.9h.5M439.0 868.3h.5M439.2 878.5h.5M443.1 866.3h.5M440.1 871.4h.5M438.3 868.9h.5M442.5 875.7h.5M438.8 864.7h.5M440.2 858.4h.5M441.2 870.7h.5M437.3 868.0h.5M438.9 867.7h.5M438.4 880.3h.5M438.2 875.6h.5M441.0 880.9h.5M440.3 869.8h.5M440.6 855.3h.5M446.2 868.1h.5M439.7 861.1h.5M438.6 873.1h.5M442.9 877.0h.5M439.5 856.4h.5M441.4 874.1h.5M439.7 866.5h.5M444.7 857.7h.5M439.2 865.1h.5M436.7 864.5h.5M438.5 879.3h.5M436.3 859.3h.5M441.1 858.0h.5M435.7 865.0h.5M437.6 862.3h.5M440.1 873.2h.5M438.9 867.7h.5M442.2 868.6h.5M442.2 865.3h.5M441.6 879.5h.5M439.7 867.2h.5M440.1 873.3h.5M437.6 870.1h.5M439.1 880.6h.5M436.3 874.7h.5M439.7 864.1h.5M440.8 868.0h.5M440.6 871.6h.5M443.3 866.7h.5M444.8 879.0h.5M444.2 871.3h.5M441.1 862.1h.5M443.7 861.0h.5M438.6 869.8h.5M441.0 872.4h.5M437.7 867.2h.5M441.6 878.8h.5M442.3 872.9h.5M439.8 865.7h.5M439.2 869.1h.5M441.7 866.0h.5M445.4 862.2h.5M442.4 868.3h.5M440.1 866.9h.5M444.1 867.6h.5M441.8 870.7h.5M442.2 874.3h.5M444.4 864.3h.5M443.5 870.4h.5M439.8 871.7h.5M443.6 864.0h.5M443.9 869.4h.5M439.6 866.8h.5M435.4 872.2h.5M437.3 865.6h.5M438.3 871.6h.5M442.2 870.1h.5M440.9 872.9h.5M444.3 874.2h.5M444.2 869.3h.5M441.3 864.9h.5M441.9 863.4h.5M441.6 865.0h.5M439.6 879.0h.5M440.8 875.8h.5M439.9 855.7h.5M444.0 868.5h.5M438.9 877.0h.5M437.7 864.2h.5M443.2 864.6h.5M443.2 867.5h.5M440.0 870.3h.5M439.3 877.9h.5M443.1 870.3h.5M441.9 873.9h.5M444.5 857.9h.5M442.9 876.7h.5M439.7 869.9h.5M439.6 879.2h.5M437.7 874.4h.5M443.5 874.1h.5M439.3 866.4h.5M435.4 862.1h.5M443.1 862.7h.5M436.5 868.0h.5M436.9 873.3h.5M438.4 877.0h.5M440.2 859.1h.5M438.6 865.0h.5M438.4 879.1h.5M438.1 872.6h.5M439.1 874.3h.5M437.0 858.0h.5M441.7 880.6h.5M437.1 867.5h.5M439.2 862.8h.5M442.8 870.2h.5M437.1 868.2h.5M443.6 864.5h.5M439.2 863.6h.5M440.8 865.6h.5M442.6 863.6h.5M437.0 873.2h.5M432.9 862.7h.5M441.1 871.7h.5M439.1 866.5h.5M438.5 868.5h.5M439.4 874.0h.5M440.5 874.0h.5M444.4 867.8h.5M439.8 872.7h.5M445.5 867.1h.5M444.5 878.8h.5M433.9 862.3h.5M438.1 872.8h.5M443.6 870.3h.5M439.2 851.6h.5" stroke="#949494" stroke-width="0.76" fill="none" stroke-linecap="round"/>
</g>
<rect x="426.40" y="820.30" width="22.60" height="22.00" fill="none" stroke="#000" stroke-width="1.4"/>
<text transform="translate(451.3 826.8) scale(1.0 1)" font-size="9.80" stroke="#111" stroke-width="0.22">47%</text>
<text transform="translate(493.8 721.8) scale(1.0 1)" font-size="9.60" text-anchor="end" stroke="#111" stroke-width="0.22">wild-type</text>
<text transform="translate(466.3 816.2) scale(1.0 1)" font-size="9.60" stroke="#111" stroke-width="0.22"><tspan font-style="italic">Moz</tspan><tspan dy="-3.5" font-size="9.60" letter-spacing="0.4" font-style="italic">+/-</tspan></text>
<line x1="418" y1="886.5" x2="492.3" y2="886.5" stroke="#000" stroke-width="1.3"/>
<path d="M488.8,883.0 L496.3,886.5 L488.8,890.0 L490.8,886.5 Z" fill="#000"/>
<text transform="translate(454.3 897.2) scale(1.0 1)" font-size="9.65" text-anchor="middle" stroke="#111" stroke-width="0.22">Forward scatter area</text>
</svg>
</body></html>
